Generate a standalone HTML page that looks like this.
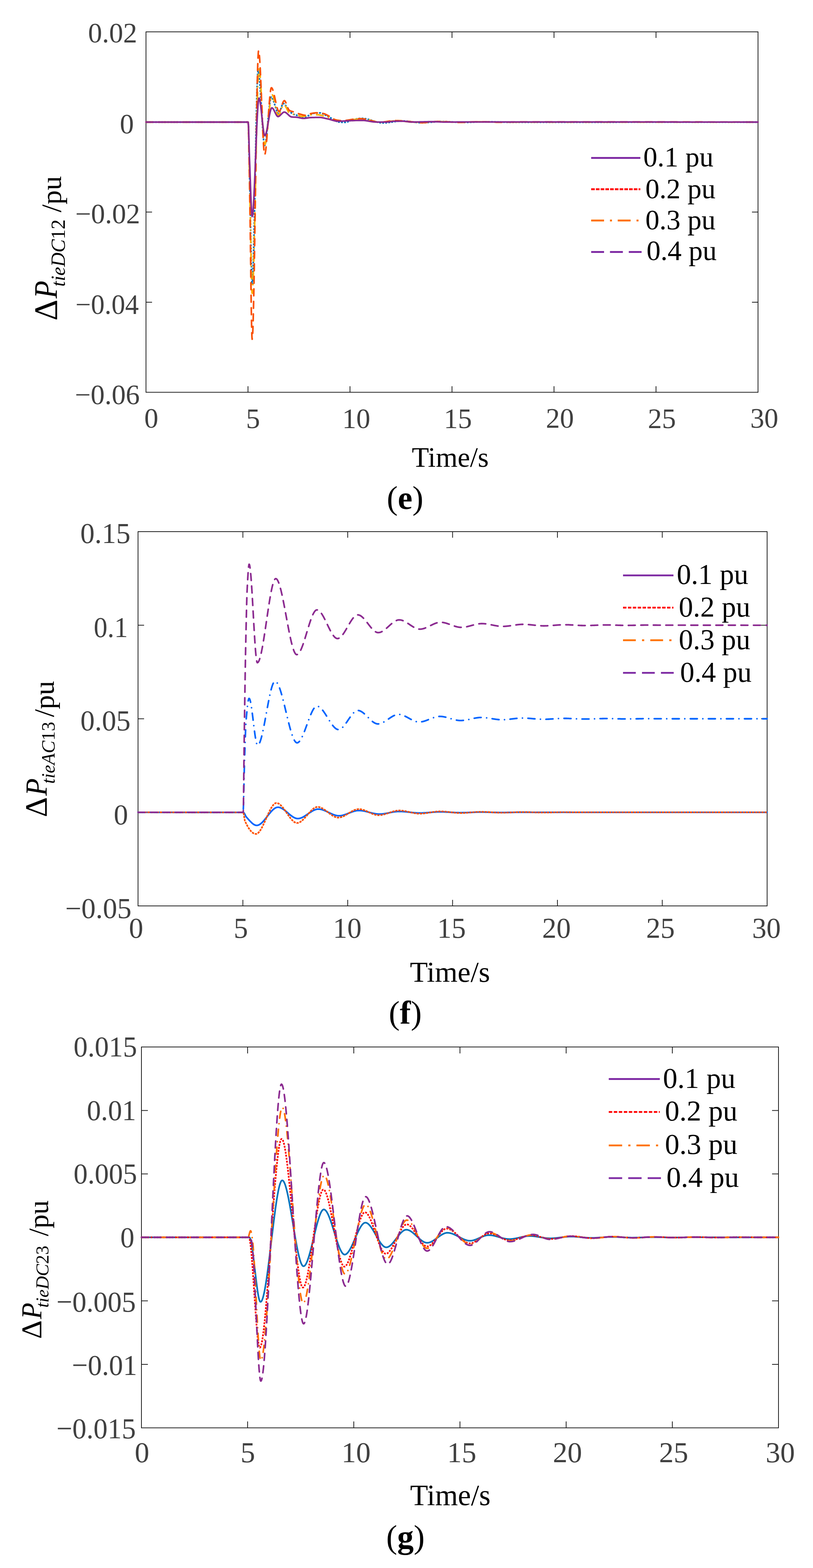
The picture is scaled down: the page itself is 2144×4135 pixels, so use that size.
<!DOCTYPE html>
<html><head><meta charset="utf-8"><title>Figure</title>
<style>html,body{margin:0;padding:0;background:#fff;overflow:hidden}svg{display:block}text{font-family:'Liberation Serif', 'Times New Roman', serif}</style></head>
<body><svg width="2144" height="4135" viewBox="0 0 2144 4135">
<rect width="2144" height="4135" fill="#fff"/>
<text x="232.3" y="112.3" font-size="74" fill="#404040">0.02</text>
<text x="315.9" y="351.6" font-size="74" fill="#404040">0</text>
<text x="198.4" y="589.3" font-size="74" fill="#404040">−0.02</text>
<text x="196.9" y="827.6" font-size="74" fill="#404040" transform="matrix(0.975 0 0 1 7.1 0)">−0.04</text>
<text x="197.4" y="1066.2" font-size="74" fill="#404040">−0.06</text>
<text x="380.4" y="1128.3" font-size="74" fill="#404040">0</text>
<text x="648.7" y="1128.6" font-size="74" fill="#404040">5</text>
<text x="902.4" y="1128.6" font-size="74" fill="#404040">10</text>
<text x="1170.4" y="1129" font-size="74" fill="#404040">15</text>
<text x="1439.5" y="1128.3" font-size="74" fill="#404040">20</text>
<text x="1708.5" y="1128.6" font-size="74" fill="#404040">25</text>
<text x="1978.6" y="1128.3" font-size="74" fill="#404040">30</text>
<rect x="385" y="84" width="1614" height="950.5" fill="none" stroke="#1a1a1a" stroke-width="2"/>
<path d="M654 1034.5V1018.5M654 84V100M923 1034.5V1018.5M923 84V100M1192 1034.5V1018.5M1192 84V100M1461 1034.5V1018.5M1461 84V100M1730 1034.5V1018.5M1730 84V100M385 321.6H401M1999 321.6H1983M385 559.2H401M1999 559.2H1983M385 796.9H401M1999 796.9H1983" stroke="#1a1a1a" stroke-width="2" fill="none"/>
<clipPath id="ce"><rect x="382.5" y="81" width="1619" height="956.5"/></clipPath>
<g clip-path="url(#ce)" fill="none" stroke-width="4.3" stroke-linejoin="round" stroke-linecap="round">
<path d="M385 322 654 322 654.5 322.2 655 328.6 655.5 342.5 656 362 656.5 385 657 409.5 657.5 433.5 658 455 658.5 476.1 659 500 659.5 526 660 553.3 660.5 581.2 661 609.2 661.5 636.4 662 662.3 662.5 686.1 663 707.1 663.5 724.6 664 738 664.5 746.5 665 749.5 665.5 747.8 666 742.9 666.5 735.1 667 724.4 667.5 711.2 668 695.7 668.5 678 669 658.5 669.5 637.2 670 614.5 670.5 590.6 671 565.6 671.5 539.9 672 513.5 672.5 486.8 673 459.9 673.5 433.1 674 406.5 674.5 380.5 675 355.2 675.5 330.8 676 307.6 676.5 285.7 677 265.5 677.5 247 678 230.6 678.5 216.5 679 204.8 679.5 195.8 680 189.7 680.5 186.7 681 186.6 681.5 187.6 682 189.6 682.5 192.4 683 195.9 683.5 200.2 684 205.2 684.5 210.8 685 216.9 685.5 223.5 686 230.6 686.5 238 687 245.8 687.5 253.8 688 262.1 688.5 270.5 689 279 689.5 287.5 690 296 690.5 304.5 691 312.8 691.5 320.9 692 328.8 692.5 336.4 693 343.6 693.5 350.4 694 356.8 694.5 362.6 695 367.8 695.5 372.3 696 376.2 696.5 379.3 697 381.6 697.5 383 698 383.5 698.5 383.2 699 382.3 699.5 380.8 700 378.8 700.5 376.3 701 373.3 701.5 370 702 366.2 702.5 362.1 703 357.7 703.5 353 704 348.1 704.5 343 705 337.8 705.5 332.4 706 326.9 706.5 321.4 707 315.9 707.5 310.4 708 304.9 708.5 299.6 709 294.4 709.5 289.4 710 284.6 710.5 280 711 275.7 711.5 271.8 712 268.1 712.5 264.9 713 262.2 713.5 259.9 714 258.1 714.5 256.8 715 256.1 715.5 256 716 256.2 716.5 256.5 717 256.9 717.5 257.5 718 258.3 718.5 259.2 719 260.1 719.5 261.2 720 262.4 720.5 263.7 721 265 721.5 266.5 722 267.9 722.5 269.5 723 271.1 723.5 272.7 724 274.3 724.5 276 725 277.7 725.5 279.3 726 281 726.5 282.6 727 284.2 727.5 285.8 728 287.4 728.5 288.8 729 290.2 729.5 291.6 730 292.8 730.5 294 731 295.1 731.5 296 732 296.9 732.5 297.6 733 298.2 733.5 298.6 734 298.9 734.5 299 735 298.9 735.5 298.6 736 298.1 736.5 297.4 737 296.5 737.5 295.5 738 294.4 738.5 293.1 739 291.8 739.5 290.3 740 288.8 740.5 287.3 741 285.8 741.5 284.3 742 282.8 742.5 281.3 743 279.9 743.5 278.6 744 277.3 744.5 276.2 745 275.3 745.5 274.5 746 273.9 746.5 273.4 747 273.2 747.5 273.2 748 273.3 748.5 273.5 749 273.7 749.5 274 750 274.4 750.5 274.8 751 275.3 751.5 275.9 752 276.5 752.5 277.1 753 277.7 753.5 278.4 754 279.1 754.5 279.8 755 280.6 755.5 281.3 756 282 756.5 282.8 757 283.5 757.5 284.2 758 285 758.5 285.6 759 286.3 759.5 286.9 760 287.5 760.5 288.1 761 288.7 761.5 289.3 762 290 762.5 290.6 763 291.3 763.5 291.9 764 292.6 764.5 293.3 765 293.9 765.5 294.6 766 295.2 766.5 295.8 767 296.4 767.5 297 768 297.5 768.5 298 769 298.4 769.5 298.8 770 299.2 770.5 299.5 771 299.8 771.5 300 772 300.3 772.5 300.5 773 300.8 773.5 301 774 301.2 774.5 301.4 775 301.6 775.5 301.8 776 302 776.5 302.2 777 302.3 777.5 302.5 778 302.7 778.5 302.8 779 303 779.5 303.1 780 303.3 780.5 303.4 781 303.5 781.5 303.7 782 303.8 782.5 303.9 783 304.1 783.5 304.2 784 304.3 784.5 304.5 785 304.6 785.5 304.7 786 304.9 786.5 305 787 305.1 787.5 305.3 788 305.4 788.5 305.5 789 305.7 789.5 305.8 790 306 790.5 306.1 791 306.2 791.5 306.4 792 306.5 792.5 306.7 793 306.8 793.5 306.9 794 307 794.5 307.2 795 307.3 795.5 307.4 796 307.5 796.5 307.6 797 307.7 797.5 307.8 798 307.9 798.5 308 799 308.1 799.5 308.1 800 308.2 800.5 308.2 801.5 308.3 802.5 308.4 804 308.4 804.5 308.3 805 308.2 805.5 308.1 806 308 806.5 307.8 807 307.7 807.5 307.5 808 307.3 808.5 307.1 809 306.9 809.5 306.6 810 306.4 810.5 306.2 811 306 811.5 305.8 812 305.6 812.5 305.4 813 305.2 813.5 304.9 814 304.7 814.5 304.5 815 304.2 815.5 304 816 303.7 816.5 303.5 817 303.2 817.5 302.9 818 302.6 818.5 302.3 819 302.1 819.5 301.8 820 301.5 820.5 301.2 821 301 821.5 300.7 822 300.5 822.5 300.2 823 300 823.5 299.8 824 299.6 824.5 299.4 825 299.2 825.5 299.1 826 299 826.5 298.8 827 298.8 827.5 298.7 828 298.6 828.5 298.6 829 298.5 829.5 298.5 830 298.4 830.5 298.4 831.5 298.3 832.5 298.2 833.5 298.1 834.5 298 835.5 297.9 836.5 297.9 837.5 297.8 839 297.8 841.5 297.7 844 297.8 844.5 297.9 845 297.9 845.5 298 846 298.1 846.5 298.3 847 298.4 847.5 298.5 848 298.7 848.5 298.9 849 299.1 849.5 299.2 850 299.4 850.5 299.7 851 299.9 851.5 300.1 852 300.3 852.5 300.6 853 300.8 853.5 301.1 854 301.3 854.5 301.6 855 301.8 855.5 302.1 856 302.4 856.5 302.6 857 302.9 857.5 303.2 858 303.5 858.5 303.8 859 304 859.5 304.3 860 304.6 860.5 304.8 861 305.1 861.5 305.4 862 305.6 862.5 305.9 863 306.1 863.5 306.4 864 306.6 864.5 306.9 865 307.1 865.5 307.3 866 307.6 866.5 307.8 867 308.1 867.5 308.3 868 308.6 868.5 308.9 869 309.2 869.5 309.4 870 309.7 870.5 310 871 310.3 871.5 310.6 872 310.9 872.5 311.2 873 311.5 873.5 311.9 874 312.2 874.5 312.5 875 312.8 875.5 313.1 876 313.4 876.5 313.8 877 314.1 877.5 314.4 878 314.7 878.5 315 879 315.3 879.5 315.6 880 316 880.5 316.3 881 316.6 881.5 316.9 882 317.1 882.5 317.4 883 317.7 883.5 318 884 318.3 884.5 318.5 885 318.8 885.5 319 886 319.3 886.5 319.5 887 319.7 887.5 319.9 888 320.2 888.5 320.4 889 320.5 889.5 320.7 890 320.9 890.5 321.1 891 321.2 891.5 321.3 892 321.5 892.5 321.6 893 321.7 893.5 321.8 894 321.8 894.5 321.9 895.5 322 896.5 322.1 897.5 322.1 898.5 322.2 899.5 322.3 900.5 322.4 901.5 322.4 902.5 322.5 903.5 322.5 905 322.6 906.5 322.7 911 322.6 911.5 322.6 912 322.5 912.5 322.4 913 322.3 913.5 322.2 914 322.1 914.5 322 915 321.8 915.5 321.7 916 321.5 916.5 321.3 917 321.1 917.5 321 918 320.8 918.5 320.6 919 320.3 919.5 320.1 920 319.9 920.5 319.7 921 319.5 921.5 319.2 922 319 922.5 318.8 923 318.6 923.5 318.3 924 318.1 924.5 317.9 925 317.6 925.5 317.4 926 317.2 926.5 317 927 316.8 927.5 316.6 928 316.4 928.5 316.2 929 316.1 929.5 315.9 930 315.7 930.5 315.6 931 315.5 931.5 315.3 932 315.2 932.5 315.1 933 315 933.5 315 934 314.9 934.5 314.8 935 314.7 935.5 314.6 936 314.5 936.5 314.4 937 314.3 937.5 314.2 938 314.1 938.5 314 939 313.9 939.5 313.8 940 313.7 940.5 313.6 941 313.6 941.5 313.5 942 313.4 942.5 313.3 943 313.2 943.5 313.1 944 313.1 944.5 313 945 312.9 945.5 312.9 946 312.8 946.5 312.7 947 312.7 947.5 312.6 948 312.6 948.5 312.5 949.5 312.4 950.5 312.3 951.5 312.3 953 312.2 957.5 312.3 958.5 312.4 959.5 312.5 960 312.5 960.5 312.6 961 312.6 961.5 312.7 962 312.8 962.5 312.9 963 312.9 963.5 313 964 313.1 964.5 313.2 965 313.3 965.5 313.4 966 313.5 966.5 313.6 967 313.7 967.5 313.8 968 314 968.5 314.1 969 314.2 969.5 314.3 970 314.5 970.5 314.6 971 314.7 971.5 314.9 972 315 972.5 315.1 973 315.3 973.5 315.4 974 315.6 974.5 315.7 975 315.9 975.5 316 976 316.2 976.5 316.3 977 316.5 977.5 316.7 978 316.8 978.5 317 979 317.1 979.5 317.3 980 317.5 980.5 317.6 981 317.8 981.5 317.9 982 318.1 982.5 318.3 983 318.4 983.5 318.6 984 318.8 984.5 318.9 985 319.1 985.5 319.2 986 319.4 986.5 319.6 987 319.7 987.5 319.9 988 320 988.5 320.2 989 320.3 989.5 320.5 990 320.6 990.5 320.8 991 320.9 991.5 321.1 992 321.2 992.5 321.4 993 321.5 993.5 321.6 994 321.8 994.5 321.9 995 322 995.5 322.2 996 322.3 996.5 322.4 997 322.5 997.5 322.6 998 322.8 998.5 322.9 999 323 999.5 323.1 1000 323.2 1000.5 323.3 1001 323.4 1001.5 323.4 1002 323.5 1002.5 323.6 1003 323.7 1003.5 323.7 1004 323.8 1004.5 323.9 1005 323.9 1005.5 324 1006.5 324.1 1007.5 324.1 1009 324.2 1013.5 324.1 1015 324.1 1016 324 1017 323.9 1018 323.8 1019 323.8 1020 323.7 1020.5 323.6 1021 323.6 1021.5 323.5 1022 323.4 1022.5 323.4 1023 323.3 1023.5 323.3 1024 323.2 1024.5 323.1 1025 323.1 1025.5 323 1026 322.9 1026.5 322.9 1027 322.8 1027.5 322.7 1028 322.7 1028.5 322.6 1029 322.5 1029.5 322.4 1030 322.4 1030.5 322.3 1031 322.2 1031.5 322.1 1032 322.1 1032.5 322 1033 321.9 1033.5 321.8 1034 321.8 1034.5 321.7 1035 321.6 1035.5 321.5 1036 321.4 1036.5 321.4 1037 321.3 1037.5 321.2 1038 321.1 1038.5 321.1 1039 321 1039.5 320.9 1040 320.8 1040.5 320.8 1041 320.7 1041.5 320.6 1042 320.5 1042.5 320.5 1043 320.4 1043.5 320.3 1044 320.3 1044.5 320.2 1045 320.1 1045.5 320.1 1046 320 1046.5 319.9 1047 319.9 1047.5 319.8 1048 319.8 1048.5 319.7 1049 319.6 1049.5 319.6 1050 319.5 1051 319.4 1052 319.4 1053 319.3 1054 319.2 1055 319.1 1056 319.1 1057.5 319 1064.5 319.1 1066 319.2 1067 319.2 1068 319.3 1069 319.4 1070 319.4 1071 319.5 1072 319.6 1073 319.7 1073.5 319.8 1074 319.8 1074.5 319.9 1075 319.9 1075.5 320 1076 320 1076.5 320.1 1077 320.2 1077.5 320.2 1078 320.3 1078.5 320.3 1079 320.4 1079.5 320.5 1080 320.5 1080.5 320.6 1081 320.6 1081.5 320.7 1082 320.8 1082.5 320.8 1083 320.9 1083.5 321 1084 321 1084.5 321.1 1085 321.2 1085.5 321.2 1086 321.3 1086.5 321.4 1087 321.4 1087.5 321.5 1088 321.6 1088.5 321.6 1089 321.7 1089.5 321.8 1090 321.8 1090.5 321.9 1091 322 1091.5 322 1092 322.1 1092.5 322.1 1093 322.2 1093.5 322.3 1094 322.3 1094.5 322.4 1095 322.4 1095.5 322.5 1096 322.6 1096.5 322.6 1097 322.7 1097.5 322.7 1098 322.8 1098.5 322.8 1099 322.9 1100 323 1101 323.1 1102 323.2 1103 323.2 1104 323.3 1105 323.4 1106 323.4 1107 323.5 1108.5 323.5 1111 323.6 1116.5 323.5 1118.5 323.5 1120 323.4 1121.5 323.3 1122.5 323.3 1123.5 323.2 1124.5 323.2 1125.5 323.1 1126.5 323 1127.5 323 1128.5 322.9 1129.5 322.8 1130.5 322.8 1131.5 322.7 1132.5 322.6 1133.5 322.5 1134.5 322.4 1135.5 322.4 1136.5 322.3 1137.5 322.2 1138.5 322.1 1139.5 322 1140.5 321.9 1141.5 321.8 1142.5 321.8 1143.5 321.7 1144.5 321.6 1145.5 321.5 1146.5 321.4 1147.5 321.4 1148.5 321.3 1149.5 321.2 1150.5 321.2 1151.5 321.1 1152.5 321 1153.5 321 1154.5 320.9 1155.5 320.9 1157 320.8 1158.5 320.7 1160.5 320.7 1163.5 320.6 1170.5 320.7 1173 320.7 1175 320.8 1176.5 320.8 1178 320.9 1179.5 321 1181 321.1 1182 321.1 1183 321.2 1184 321.2 1185 321.3 1186 321.3 1187 321.4 1188 321.4 1189 321.5 1190 321.6 1191 321.6 1192 321.7 1193 321.7 1194 321.8 1195 321.8 1196 321.9 1197 322 1198 322 1199 322.1 1200 322.1 1201 322.2 1202 322.2 1203 322.3 1204 322.3 1205.5 322.4 1207 322.5 1208.5 322.6 1210 322.6 1211.5 322.7 1213.5 322.7 1216 322.8 1228.5 322.7 1231 322.7 1233 322.6 1235 322.6 1237 322.5 1239 322.4 1240.5 322.4 1242 322.3 1243.5 322.3 1245 322.2 1246.5 322.1 1248 322.1 1249.5 322 1251 322 1252.5 321.9 1254 321.8 1255.5 321.8 1257 321.7 1258.5 321.7 1260 321.6 1261.5 321.6 1263.5 321.5 1265.5 321.4 1267.5 321.4 1270 321.3 1273 321.3 1277.5 321.2 1288.5 321.3 1292 321.3 1295 321.4 1297.5 321.4 1300 321.5 1302 321.5 1304 321.6 1306 321.6 1308 321.7 1310 321.8 1312 321.8 1314 321.9 1316 321.9 1318 322 1320 322 1322.5 322.1 1325 322.1 1328 322.2 1331.5 322.2 1337 322.3 1721.5 322.2 1809.5 322.2 1873 322.1 1924 322.1 1967.5 322 1999 322" stroke="#0072BD" stroke-dasharray="5 3" stroke-linecap="butt"/>
<path d="M385 322 654 322 654.5 322.2 655 328.8 655.5 343.2 656 363.4 656.5 387.2 657 412.6 657.5 437.6 658 460 658.5 482.2 659 507.5 659.5 535 660 564 660.5 593.7 661 623.5 661.5 652.6 662 680.2 662.5 705.6 663 728.1 663.5 746.8 664 761.2 664.5 770.3 665 773.5 665.5 772.1 666 768.2 666.5 761.8 667 753 667.5 742.2 668 729.3 668.5 714.6 669 698.2 669.5 680.2 670 660.9 670.5 640.4 671 618.7 671.5 596.2 672 572.9 672.5 549 673 524.6 673.5 499.9 674 475 674.5 450.2 675 425.5 675.5 401.1 676 377.2 676.5 353.9 677 331.4 677.5 309.7 678 289.2 678.5 269.9 679 251.9 679.5 235.5 680 220.8 680.5 207.9 681 197.1 681.5 188.3 682 181.9 682.5 178 683 176.6 683.5 177.3 684 179.2 684.5 182.3 685 186.6 685.5 191.8 686 197.9 686.5 204.9 687 212.5 687.5 220.9 688 229.7 688.5 239 689 248.7 689.5 258.7 690 268.8 690.5 279 691 289.3 691.5 299.4 692 309.4 692.5 319.1 693 328.4 693.5 337.2 694 345.6 694.5 353.2 695 360.2 695.5 366.3 696 371.5 696.5 375.8 697 378.9 697.5 380.8 698 381.5 698.5 381.2 699 380.5 699.5 379.3 700 377.6 700.5 375.6 701 373.1 701.5 370.3 702 367.1 702.5 363.7 703 360 703.5 356 704 351.8 704.5 347.4 705 342.8 705.5 338 706 333.2 706.5 328.2 707 323.2 707.5 318.2 708 313.1 708.5 308.1 709 303.1 709.5 298.1 710 293.3 710.5 288.5 711 283.9 711.5 279.5 712 275.3 712.5 271.3 713 267.6 713.5 264.2 714 261 714.5 258.2 715 255.7 715.5 253.7 716 252 716.5 250.8 717 250.1 717.5 249.8 718 249.9 718.5 250.4 719 251.1 719.5 252 720 253.2 720.5 254.5 721 256.1 721.5 257.9 722 259.8 722.5 261.8 723 263.9 723.5 266.2 724 268.5 724.5 270.9 725 273.3 725.5 275.8 726 278.3 726.5 280.8 727 283.2 727.5 285.6 728 287.9 728.5 290.2 729 292.3 729.5 294.3 730 296.2 730.5 298 731 299.6 731.5 300.9 732 302.1 732.5 303 733 303.7 733.5 304.2 734 304.3 734.5 304.2 735 303.9 735.5 303.5 736 302.8 736.5 302.1 737 301.2 737.5 300.2 738 299.1 738.5 297.9 739 296.6 739.5 295.2 740 293.8 740.5 292.4 741 291 741.5 289.5 742 288.1 742.5 286.7 743 285.3 743.5 283.9 744 282.6 744.5 281.4 745 280.3 745.5 279.3 746 278.4 746.5 277.7 747 277 747.5 276.6 748 276.3 748.5 276.2 749 276.3 749.5 276.4 750 276.7 750.5 277.1 751 277.6 751.5 278.2 752 278.8 752.5 279.5 753 280.3 753.5 281.2 754 282.1 754.5 283 755 284 755.5 285 756 286 756.5 287 757 288.1 757.5 289.1 758 290.1 758.5 291.1 759 292.1 759.5 293.1 760 294 760.5 294.9 761 295.7 761.5 296.4 762 297.1 762.5 297.7 763 298.2 763.5 298.7 764 299 764.5 299.2 765 299.4 765.5 299.5 766 299.7 766.5 299.8 767 299.9 767.5 300 768 300.1 768.5 300.2 769 300.3 769.5 300.4 770 300.5 770.5 300.6 771 300.7 771.5 300.8 772 300.8 772.5 300.9 773 301 773.5 301.1 774 301.1 774.5 301.2 775 301.2 775.5 301.3 776 301.4 776.5 301.4 777 301.5 777.5 301.6 778 301.7 778.5 301.7 779 301.8 779.5 301.9 780 302 780.5 302.1 781 302.2 781.5 302.3 782 302.4 782.5 302.5 783 302.6 783.5 302.8 784 302.9 784.5 303.1 785 303.3 785.5 303.5 786 303.7 786.5 303.9 787 304.1 787.5 304.4 788 304.6 788.5 304.8 789 305 789.5 305.3 790 305.5 790.5 305.7 791 305.9 791.5 306.1 792 306.2 792.5 306.4 793 306.6 793.5 306.7 794 306.8 794.5 306.9 795 306.9 796 307 798 306.9 799 306.9 799.5 306.8 800 306.8 800.5 306.7 801 306.6 801.5 306.6 802 306.5 802.5 306.4 803 306.3 803.5 306.2 804 306.1 804.5 306 805 305.9 805.5 305.8 806 305.7 806.5 305.6 807 305.5 807.5 305.4 808 305.3 808.5 305.2 809 305.1 809.5 305 810 304.9 810.5 304.8 811 304.6 811.5 304.5 812 304.4 812.5 304.3 813 304.2 813.5 304.1 814 304 814.5 303.9 815 303.8 815.5 303.8 816 303.7 816.5 303.6 817 303.5 817.5 303.5 818 303.4 818.5 303.3 819 303.3 820 303.2 821 303.1 822 303.1 823 303 824 302.9 825 302.9 826 302.8 827 302.7 828 302.7 829.5 302.6 831 302.6 833.5 302.5 837 302.6 838 302.6 839 302.7 839.5 302.8 840 302.8 840.5 302.9 841 303 841.5 303 842 303.1 842.5 303.2 843 303.3 843.5 303.4 844 303.5 844.5 303.6 845 303.7 845.5 303.8 846 303.9 846.5 304 847 304.1 847.5 304.2 848 304.4 848.5 304.5 849 304.6 849.5 304.8 850 304.9 850.5 305 851 305.2 851.5 305.3 852 305.4 852.5 305.6 853 305.7 853.5 305.9 854 306 854.5 306.2 855 306.3 855.5 306.5 856 306.6 856.5 306.8 857 306.9 857.5 307.1 858 307.2 858.5 307.4 859 307.5 859.5 307.7 860 307.8 860.5 308 861 308.1 861.5 308.3 862 308.4 862.5 308.6 863 308.7 863.5 308.8 864 309 864.5 309.1 865 309.3 865.5 309.4 866 309.5 866.5 309.7 867 309.8 867.5 310 868 310.2 868.5 310.3 869 310.5 869.5 310.7 870 310.9 870.5 311.1 871 311.2 871.5 311.4 872 311.6 872.5 311.8 873 312 873.5 312.2 874 312.4 874.5 312.6 875 312.8 875.5 313 876 313.2 876.5 313.4 877 313.6 877.5 313.7 878 313.9 878.5 314.1 879 314.3 879.5 314.5 880 314.7 880.5 314.8 881 315 881.5 315.2 882 315.3 882.5 315.5 883 315.7 883.5 315.8 884 315.9 884.5 316.1 885 316.2 885.5 316.3 886 316.4 886.5 316.6 887 316.7 887.5 316.8 888 316.9 888.5 317 889 317.1 889.5 317.1 890 317.2 890.5 317.3 891 317.4 891.5 317.5 892 317.6 892.5 317.7 893 317.8 893.5 317.9 894 318 894.5 318 895 318.1 895.5 318.2 896 318.2 896.5 318.3 897.5 318.4 898.5 318.5 904.5 318.4 906 318.3 907 318.3 908 318.2 909 318.2 910 318.1 911 318 912 317.9 913 317.8 914 317.7 914.5 317.7 915 317.6 915.5 317.6 916 317.5 916.5 317.4 917 317.4 917.5 317.3 918 317.3 918.5 317.2 919 317.2 919.5 317.1 920 317 920.5 317 921 316.9 921.5 316.9 922 316.8 922.5 316.7 923 316.7 923.5 316.6 924 316.5 924.5 316.5 925 316.4 925.5 316.3 926 316.3 926.5 316.2 927 316.1 927.5 316.1 928 316 928.5 315.9 929 315.9 929.5 315.8 930 315.7 930.5 315.7 931 315.6 931.5 315.6 932 315.5 932.5 315.4 933 315.4 933.5 315.3 934 315.2 934.5 315.2 935 315.1 935.5 315.1 936 315 936.5 314.9 937 314.9 937.5 314.8 938 314.8 938.5 314.7 939 314.7 939.5 314.6 940 314.5 940.5 314.5 941.5 314.4 942.5 314.3 943.5 314.2 944.5 314.1 945.5 314.1 946.5 314 947.5 313.9 948.5 313.9 950 313.8 951.5 313.7 958 313.8 959 313.9 960 314 960.5 314 961 314.1 961.5 314.2 962 314.2 962.5 314.3 963 314.4 963.5 314.4 964 314.5 964.5 314.6 965 314.7 965.5 314.8 966 314.9 966.5 315 967 315.1 967.5 315.2 968 315.3 968.5 315.4 969 315.5 969.5 315.6 970 315.7 970.5 315.8 971 315.9 971.5 316 972 316.1 972.5 316.3 973 316.4 973.5 316.5 974 316.6 974.5 316.8 975 316.9 975.5 317 976 317.2 976.5 317.3 977 317.4 977.5 317.5 978 317.7 978.5 317.8 979 317.9 979.5 318.1 980 318.2 980.5 318.3 981 318.5 981.5 318.6 982 318.7 982.5 318.9 983 319 983.5 319.1 984 319.3 984.5 319.4 985 319.5 985.5 319.6 986 319.8 986.5 319.9 987 320 987.5 320.1 988 320.2 988.5 320.4 989 320.5 989.5 320.6 990 320.7 990.5 320.8 991 320.9 991.5 321 992 321.1 992.5 321.2 993 321.3 993.5 321.4 994 321.5 994.5 321.6 995 321.7 995.5 321.8 996 321.8 996.5 321.9 997 322 997.5 322.1 998 322.1 998.5 322.2 999 322.3 999.5 322.3 1000.5 322.4 1001.5 322.5 1002.5 322.5 1004 322.6 1008 322.5 1009.5 322.5 1010.5 322.4 1011.5 322.3 1012.5 322.2 1013.5 322.1 1014 322.1 1014.5 322 1015 322 1015.5 321.9 1016 321.9 1016.5 321.8 1017 321.8 1017.5 321.7 1018 321.6 1018.5 321.6 1019 321.5 1019.5 321.4 1020 321.4 1020.5 321.3 1021 321.2 1021.5 321.1 1022 321.1 1022.5 321 1023 320.9 1023.5 320.8 1024 320.8 1024.5 320.7 1025 320.6 1025.5 320.6 1026 320.5 1026.5 320.4 1027 320.3 1027.5 320.3 1028 320.2 1028.5 320.1 1029 320 1029.5 320 1030 319.9 1030.5 319.8 1031 319.7 1031.5 319.7 1032 319.6 1032.5 319.5 1033 319.5 1033.5 319.4 1034 319.3 1034.5 319.3 1035 319.2 1035.5 319.2 1036 319.1 1036.5 319.1 1037 319 1037.5 319 1038.5 318.9 1039.5 318.8 1040.5 318.7 1041.5 318.6 1042.5 318.6 1044 318.5 1050.5 318.6 1052 318.7 1053 318.7 1054 318.8 1055 318.8 1056 318.9 1057 319 1058 319.1 1059 319.2 1060 319.3 1061 319.3 1061.5 319.4 1062 319.5 1062.5 319.5 1063 319.6 1063.5 319.6 1064 319.7 1064.5 319.7 1065 319.8 1065.5 319.8 1066 319.9 1066.5 320 1067 320 1067.5 320.1 1068 320.1 1068.5 320.2 1069 320.3 1069.5 320.3 1070 320.4 1070.5 320.4 1071 320.5 1071.5 320.6 1072 320.6 1072.5 320.7 1073 320.8 1073.5 320.8 1074 320.9 1074.5 320.9 1075 321 1075.5 321.1 1076 321.1 1076.5 321.2 1077 321.2 1077.5 321.3 1078 321.4 1078.5 321.4 1079 321.5 1079.5 321.5 1080 321.6 1080.5 321.7 1081 321.7 1081.5 321.8 1082 321.8 1082.5 321.9 1083 321.9 1083.5 322 1084 322 1084.5 322.1 1085 322.2 1086 322.2 1087 322.3 1088 322.4 1089 322.5 1090 322.6 1091 322.7 1092 322.7 1093 322.8 1094 322.8 1095.5 322.9 1097.5 323 1105.5 322.9 1107.5 322.9 1109 322.8 1110.5 322.7 1112 322.7 1113 322.6 1114 322.5 1115 322.5 1116 322.4 1117 322.4 1118 322.3 1119 322.2 1120 322.2 1121 322.1 1122 322 1123 321.9 1124 321.9 1125 321.8 1126 321.7 1127 321.7 1128 321.6 1129 321.5 1130 321.4 1131 321.4 1132 321.3 1133 321.2 1134 321.2 1135 321.1 1136 321.1 1137 321 1138 320.9 1139 320.9 1140.5 320.8 1142 320.8 1143.5 320.7 1145.5 320.7 1149 320.6 1155.5 320.7 1158 320.7 1160 320.8 1161.5 320.8 1163 320.9 1164.5 320.9 1166 321 1167.5 321.1 1169 321.2 1170.5 321.2 1171.5 321.3 1172.5 321.3 1173.5 321.4 1174.5 321.4 1175.5 321.5 1176.5 321.5 1177.5 321.6 1178.5 321.7 1179.5 321.7 1180.5 321.8 1181.5 321.8 1182.5 321.9 1183.5 321.9 1184.5 322 1185.5 322 1187 322.1 1188.5 322.2 1190 322.2 1191.5 322.3 1193 322.4 1194.5 322.4 1196.5 322.5 1198.5 322.5 1201.5 322.6 1213 322.5 1215.5 322.5 1217.5 322.4 1219.5 322.4 1221.5 322.3 1223.5 322.2 1225 322.2 1226.5 322.1 1228 322.1 1229.5 322 1231 322 1232.5 321.9 1234 321.8 1235.5 321.8 1237 321.7 1238.5 321.7 1240 321.6 1241.5 321.6 1243 321.5 1245 321.5 1247 321.4 1249 321.3 1251.5 321.3 1254.5 321.2 1271.5 321.3 1274.5 321.3 1277.5 321.4 1280 321.5 1282.5 321.5 1285 321.6 1287.5 321.6 1290 321.7 1292.5 321.8 1295 321.8 1297.5 321.9 1300 321.9 1302.5 322 1305.5 322.1 1308.5 322.1 1312.5 322.2 1846 322.1 1927.5 322.1 1991.5 322 1999 322" stroke="#FFAE00" stroke-dasharray="18.2 14.6 0.01 14.6"/>
<path d="M385 322 654 322 654.5 322.2 655 329.6 655.5 345.7 656 368.3 656.5 395.2 657 424.3 657.5 453.3 658 480 658.5 507.4 659 539.4 659.5 574.9 660 612.9 660.5 652.2 661 691.8 661.5 730.8 662 767.9 662.5 802.3 663 832.7 663.5 858.3 664 877.8 664.5 890.3 665 894.7 665.5 892.8 666 887.1 666.5 878 667 865.6 667.5 850.2 668 831.9 668.5 811.2 669 788.1 669.5 762.9 670 735.9 670.5 707.2 671 677.1 671.5 645.9 672 613.8 672.5 580.9 673 547.6 673.5 514 674 480.5 674.5 447.2 675 414.3 675.5 382.2 676 351 676.5 320.9 677 292.2 677.5 265.2 678 240 678.5 216.9 679 196.2 679.5 177.9 680 162.5 680.5 150.1 681 141 681.5 135.3 682 133.4 682.5 134.2 683 136.5 683.5 140.2 684 145.2 684.5 151.4 685 158.7 685.5 167 686 176.2 686.5 186.2 687 197 687.5 208.3 688 220.1 688.5 232.4 689 244.9 689.5 257.6 690 270.5 690.5 283.3 691 296 691.5 308.5 692 320.8 692.5 332.6 693 343.9 693.5 354.7 694 364.7 694.5 373.9 695 382.2 695.5 389.5 696 395.7 696.5 400.7 697 404.4 697.5 406.7 698 407.5 698.5 407.1 699 405.9 699.5 403.9 700 401.3 700.5 398 701 394 701.5 389.6 702 384.6 702.5 379.1 703 373.3 703.5 367.1 704 360.5 704.5 353.7 705 346.7 705.5 339.4 706 332.1 706.5 324.7 707 317.2 707.5 309.8 708 302.4 708.5 295.1 709 288 709.5 281.1 710 274.4 710.5 268.1 711 262.1 711.5 256.4 712 251.3 712.5 246.6 713 242.4 713.5 238.9 714 236 714.5 233.7 715 232.2 715.5 231.5 716 231.4 716.5 231.7 717 232.1 717.5 232.8 718 233.6 718.5 234.7 719 235.9 719.5 237.2 720 238.7 720.5 240.3 721 242.1 721.5 243.9 722 245.9 722.5 247.9 723 250 723.5 252.2 724 254.4 724.5 256.7 725 259 725.5 261.3 726 263.6 726.5 265.9 727 268.3 727.5 270.5 728 272.8 728.5 275 729 277.1 729.5 279.1 730 281.1 730.5 283 731 284.7 731.5 286.4 732 287.9 732.5 289.3 733 290.5 733.5 291.6 734 292.4 734.5 293.1 735 293.6 735.5 293.9 736 294 736.5 293.8 737 293.5 737.5 293 738 292.2 738.5 291.4 739 290.4 739.5 289.3 740 288 740.5 286.7 741 285.3 741.5 283.8 742 282.4 742.5 280.8 743 279.3 743.5 277.8 744 276.2 744.5 274.8 745 273.3 745.5 272 746 270.7 746.5 269.6 747 268.5 747.5 267.6 748 266.8 748.5 266.2 749 265.8 749.5 265.5 750 265.5 750.5 265.7 751 266 751.5 266.6 752 267.2 752.5 268 753 269 753.5 270 754 271.1 754.5 272.3 755 273.6 755.5 274.9 756 276.3 756.5 277.7 757 279.1 757.5 280.5 758 281.8 758.5 283.2 759 284.4 759.5 285.7 760 286.8 760.5 287.8 761 288.8 761.5 289.6 762 290.3 762.5 290.8 763 291.2 763.5 291.5 764 291.7 764.5 292 765 292.2 765.5 292.4 766 292.6 766.5 292.8 767 293 767.5 293.2 768 293.3 768.5 293.5 769 293.6 769.5 293.8 770 293.9 770.5 294 771 294.2 771.5 294.3 772 294.4 772.5 294.5 773 294.7 773.5 294.8 774 294.9 774.5 295.1 775 295.2 775.5 295.4 776 295.5 776.5 295.7 777 295.9 777.5 296.1 778 296.2 778.5 296.4 779 296.6 779.5 296.8 780 297 780.5 297.2 781 297.4 781.5 297.5 782 297.7 782.5 297.9 783 298.1 783.5 298.3 784 298.5 784.5 298.7 785 298.9 785.5 299.1 786 299.2 786.5 299.4 787 299.6 787.5 299.8 788 300 788.5 300.1 789 300.3 789.5 300.4 790 300.6 790.5 300.7 791 300.9 791.5 301 792 301.2 792.5 301.3 793 301.5 793.5 301.6 794 301.7 794.5 301.9 795 302 795.5 302.2 796 302.3 796.5 302.5 797 302.6 797.5 302.8 798 302.9 798.5 303 799 303.2 799.5 303.3 800 303.4 800.5 303.5 801 303.6 801.5 303.7 802 303.8 802.5 303.8 803 303.9 804 304 806 304 806.5 303.9 807 303.8 807.5 303.7 808 303.6 808.5 303.5 809 303.4 809.5 303.2 810 303 810.5 302.9 811 302.7 811.5 302.5 812 302.3 812.5 302.1 813 301.9 813.5 301.7 814 301.5 814.5 301.3 815 301.1 815.5 300.9 816 300.7 816.5 300.5 817 300.3 817.5 300.2 818 300 818.5 299.9 819 299.7 819.5 299.6 820 299.5 820.5 299.4 821 299.3 821.5 299.2 822 299.1 822.5 299 823 298.9 823.5 298.8 824 298.7 824.5 298.7 825 298.6 825.5 298.5 826 298.4 826.5 298.3 827 298.2 827.5 298.1 828 298.1 828.5 298 829 297.9 829.5 297.9 830 297.8 830.5 297.8 831.5 297.7 832.5 297.6 838 297.7 839 297.8 840 297.8 841 297.9 842 298 842.5 298.1 843 298.1 843.5 298.2 844 298.2 844.5 298.3 845 298.3 845.5 298.4 846 298.5 846.5 298.5 847 298.6 847.5 298.7 848 298.7 848.5 298.8 849 298.9 849.5 299 850 299 850.5 299.1 851 299.2 851.5 299.3 852 299.4 852.5 299.4 853 299.5 853.5 299.6 854 299.8 854.5 299.9 855 300.1 855.5 300.2 856 300.4 856.5 300.6 857 300.8 857.5 301 858 301.3 858.5 301.5 859 301.7 859.5 302 860 302.2 860.5 302.5 861 302.8 861.5 303 862 303.3 862.5 303.5 863 303.8 863.5 304.1 864 304.3 864.5 304.6 865 304.8 865.5 305 866 305.3 866.5 305.6 867 305.8 867.5 306.1 868 306.4 868.5 306.7 869 307 869.5 307.3 870 307.6 870.5 308 871 308.3 871.5 308.6 872 308.9 872.5 309.3 873 309.6 873.5 309.9 874 310.3 874.5 310.6 875 310.9 875.5 311.3 876 311.6 876.5 311.9 877 312.2 877.5 312.5 878 312.8 878.5 313.1 879 313.4 879.5 313.7 880 314 880.5 314.3 881 314.5 881.5 314.8 882 315 882.5 315.2 883 315.4 883.5 315.7 884 315.8 884.5 316 885 316.2 885.5 316.3 886 316.5 886.5 316.6 887 316.7 887.5 316.7 888 316.8 888.5 316.9 889 317 889.5 317.1 890 317.1 890.5 317.2 891 317.3 891.5 317.4 892 317.4 892.5 317.5 893 317.6 893.5 317.6 894 317.7 894.5 317.7 895 317.8 895.5 317.8 896.5 317.9 897.5 318 898.5 318.1 899.5 318.1 901 318.2 905.5 318.1 906.5 318.1 907.5 318 908.5 317.9 909.5 317.8 910 317.8 910.5 317.7 911 317.7 911.5 317.6 912 317.6 912.5 317.5 913 317.4 913.5 317.4 914 317.3 914.5 317.2 915 317.2 915.5 317.1 916 317 916.5 316.9 917 316.9 917.5 316.8 918 316.7 918.5 316.6 919 316.6 919.5 316.5 920 316.4 920.5 316.3 921 316.2 921.5 316.1 922 316.1 922.5 316 923 315.9 923.5 315.8 924 315.7 924.5 315.6 925 315.5 925.5 315.4 926 315.4 926.5 315.3 927 315.2 927.5 315.1 928 315 928.5 314.9 929 314.8 929.5 314.8 930 314.7 930.5 314.6 931 314.5 931.5 314.4 932 314.4 932.5 314.3 933 314.2 933.5 314.1 934 314.1 934.5 314 935 313.9 935.5 313.9 936 313.8 936.5 313.7 937 313.7 937.5 313.6 938 313.5 938.5 313.5 939 313.4 940 313.3 941 313.3 942 313.2 943 313.1 944 313.1 946 313 950 313.1 951.5 313.1 952.5 313.2 953.5 313.2 954.5 313.3 955.5 313.4 956.5 313.5 957.5 313.6 958.5 313.7 959.5 313.8 960.5 313.9 961.5 314 962 314 962.5 314.1 963 314.1 963.5 314.2 964 314.2 964.5 314.3 965 314.4 965.5 314.5 966 314.6 966.5 314.7 967 314.8 967.5 314.9 968 315 968.5 315.1 969 315.2 969.5 315.3 970 315.4 970.5 315.6 971 315.7 971.5 315.8 972 316 972.5 316.1 973 316.3 973.5 316.4 974 316.5 974.5 316.7 975 316.8 975.5 317 976 317.1 976.5 317.3 977 317.5 977.5 317.6 978 317.8 978.5 317.9 979 318.1 979.5 318.2 980 318.4 980.5 318.5 981 318.7 981.5 318.9 982 319 982.5 319.2 983 319.3 983.5 319.5 984 319.6 984.5 319.8 985 319.9 985.5 320.1 986 320.2 986.5 320.3 987 320.5 987.5 320.6 988 320.7 988.5 320.9 989 321 989.5 321.1 990 321.2 990.5 321.3 991 321.5 991.5 321.6 992 321.7 992.5 321.8 993 321.8 993.5 321.9 994 322 994.5 322.1 995 322.2 995.5 322.2 996 322.3 996.5 322.3 997.5 322.4 998.5 322.5 1003.5 322.4 1004.5 322.4 1005.5 322.3 1006.5 322.2 1007.5 322.1 1008.5 322 1009 322 1009.5 321.9 1010 321.9 1010.5 321.8 1011 321.8 1011.5 321.7 1012 321.6 1012.5 321.6 1013 321.5 1013.5 321.4 1014 321.4 1014.5 321.3 1015 321.2 1015.5 321.2 1016 321.1 1016.5 321 1017 320.9 1017.5 320.9 1018 320.8 1018.5 320.7 1019 320.6 1019.5 320.6 1020 320.5 1020.5 320.4 1021 320.3 1021.5 320.2 1022 320.2 1022.5 320.1 1023 320 1023.5 319.9 1024 319.9 1024.5 319.8 1025 319.7 1025.5 319.6 1026 319.6 1026.5 319.5 1027 319.4 1027.5 319.3 1028 319.3 1028.5 319.2 1029 319.1 1029.5 319.1 1030 319 1030.5 318.9 1031 318.9 1031.5 318.8 1032 318.7 1032.5 318.7 1033 318.6 1033.5 318.6 1034 318.5 1034.5 318.5 1035.5 318.4 1036.5 318.3 1037.5 318.2 1038.5 318.1 1039.5 318.1 1041 318 1048 318.1 1049.5 318.1 1051 318.2 1052.5 318.3 1053.5 318.3 1054.5 318.4 1055.5 318.4 1056.5 318.5 1057.5 318.6 1058.5 318.6 1059.5 318.7 1060.5 318.8 1061.5 318.9 1062.5 318.9 1063.5 319 1064.5 319.1 1065.5 319.2 1066.5 319.2 1067.5 319.3 1068.5 319.4 1069.5 319.5 1070.5 319.5 1071.5 319.6 1072.5 319.7 1073.5 319.8 1074.5 319.9 1075 319.9 1075.5 320 1076 320 1076.5 320.1 1077 320.2 1077.5 320.2 1078 320.3 1078.5 320.3 1079 320.4 1079.5 320.5 1080 320.5 1080.5 320.6 1081 320.6 1081.5 320.7 1082 320.8 1082.5 320.8 1083 320.9 1083.5 321 1084 321 1084.5 321.1 1085 321.2 1085.5 321.2 1086 321.3 1086.5 321.4 1087 321.5 1087.5 321.5 1088 321.6 1088.5 321.7 1089 321.7 1089.5 321.8 1090 321.9 1090.5 321.9 1091 322 1091.5 322.1 1092 322.1 1092.5 322.2 1093 322.3 1093.5 322.3 1094 322.4 1094.5 322.4 1095 322.5 1095.5 322.6 1096 322.6 1096.5 322.7 1097 322.7 1097.5 322.8 1098 322.8 1098.5 322.9 1099 322.9 1100 323 1101 323.1 1102 323.2 1103 323.3 1104 323.4 1105 323.4 1106 323.5 1107.5 323.5 1110 323.6 1114.5 323.5 1116 323.5 1117.5 323.4 1118.5 323.4 1119.5 323.3 1120.5 323.3 1121.5 323.2 1122.5 323.1 1123.5 323 1124.5 323 1125.5 322.9 1126.5 322.8 1127.5 322.7 1128.5 322.6 1129.5 322.5 1130.5 322.4 1131.5 322.3 1132.5 322.2 1133.5 322.1 1134 322.1 1134.5 322 1135 322 1135.5 321.9 1136 321.9 1136.5 321.8 1137 321.8 1138 321.7 1139 321.6 1140 321.5 1141 321.4 1142 321.3 1143 321.2 1144 321.1 1145 321 1146 320.9 1147 320.9 1148 320.8 1149 320.7 1150 320.7 1151 320.6 1152 320.5 1153 320.5 1154.5 320.4 1156 320.4 1158.5 320.3 1165 320.4 1167 320.4 1168.5 320.5 1170 320.6 1171.5 320.6 1172.5 320.7 1173.5 320.7 1174.5 320.8 1175.5 320.9 1176.5 320.9 1177.5 321 1178.5 321.1 1179.5 321.1 1180.5 321.2 1181.5 321.3 1182.5 321.4 1183.5 321.4 1184.5 321.5 1185.5 321.6 1186.5 321.7 1187.5 321.7 1188.5 321.8 1189.5 321.9 1190.5 322 1191.5 322 1192.5 322.1 1193.5 322.2 1194.5 322.2 1195.5 322.3 1196.5 322.4 1197.5 322.4 1198.5 322.5 1199.5 322.5 1201 322.6 1202.5 322.6 1204 322.7 1206 322.8 1218 322.7 1220 322.6 1222 322.6 1223.5 322.5 1225 322.5 1226.5 322.4 1228 322.3 1229.5 322.3 1231 322.2 1232.5 322.1 1234 322.1 1235.5 322 1237 321.9 1238.5 321.9 1240 321.8 1241.5 321.7 1243 321.6 1244.5 321.6 1246 321.5 1247.5 321.4 1249 321.4 1250.5 321.3 1252 321.3 1253.5 321.2 1255.5 321.1 1257.5 321.1 1260.5 321 1273.5 321.1 1276 321.1 1278 321.2 1280 321.3 1282 321.3 1283.5 321.4 1285 321.4 1286.5 321.5 1288 321.5 1289.5 321.6 1291 321.6 1292.5 321.7 1294 321.8 1295.5 321.8 1297 321.9 1298.5 321.9 1300 322 1301.5 322 1303 322.1 1305 322.1 1307 322.2 1309 322.3 1311.5 322.3 1314.5 322.4 1332.5 322.3 1336 322.3 1339.5 322.2 1342.5 322.1 1345.5 322.1 1348.5 322 1351.5 322 1354.5 321.9 1357.5 321.9 1360.5 321.8 1363.5 321.7 1367 321.7 1371.5 321.6 1761.5 321.7 1820 321.7 1866.5 321.8 1905.5 321.8 1939.5 321.9 1969.5 321.9 1997 322 1999 322" stroke="#FA5005" stroke-dasharray="18.2 14.8"/>
<path d="M385 322 654 322 654.5 322.2 655 327.2 655.5 338.2 656 353.2 656.5 370.7 657 388.8 657.5 405.8 658 420 658.5 432.7 659 446.3 659.5 460.4 660 474.8 660.5 489.2 661 503.3 661.5 516.8 662 529.5 662.5 541 663 551 663.5 559.3 664 565.6 664.5 569.6 665 571 665.5 570.3 666 568.2 666.5 564.9 667 560.3 667.5 554.6 668 547.9 668.5 540.2 669 531.6 669.5 522.2 670 512.1 670.5 501.4 671 490.1 671.5 478.3 672 466.1 672.5 453.6 673 440.8 673.5 427.9 674 414.9 674.5 401.9 675 389 675.5 376.2 676 363.7 676.5 351.5 677 339.7 677.5 328.4 678 317.7 678.5 307.6 679 298.2 679.5 289.6 680 281.9 680.5 275.2 681 269.5 681.5 264.9 682 261.6 682.5 259.5 683 258.8 683.5 259.1 684 260 684.5 261.4 685 263.4 685.5 265.8 686 268.6 686.5 271.8 687 275.3 687.5 279.2 688 283.3 688.5 287.6 689 292.1 689.5 296.7 690 301.4 690.5 306.2 691 311 691.5 315.8 692 320.5 692.5 325.1 693 329.6 693.5 333.9 694 337.9 694.5 341.7 695 345.2 695.5 348.3 696 351.1 696.5 353.4 697 355.2 697.5 356.5 698 357.3 698.5 357.5 699 357.3 699.5 356.8 700 356 700.5 354.9 701 353.6 701.5 352.1 702 350.3 702.5 348.4 703 346.3 703.5 344 704 341.6 704.5 339.1 705 336.4 705.5 333.7 706 330.9 706.5 328 707 325.1 707.5 322.1 708 319.2 708.5 316.2 709 313.3 709.5 310.5 710 307.7 710.5 304.9 711 302.3 711.5 299.8 712 297.4 712.5 295.2 713 293.1 713.5 291.2 714 289.5 714.5 288 715 286.8 715.5 285.7 716 285 716.5 284.6 717 284.4 717.5 284.5 718 284.7 718.5 285 719 285.4 719.5 285.9 720 286.5 720.5 287.2 721 287.9 721.5 288.7 722 289.6 722.5 290.6 723 291.5 723.5 292.5 724 293.6 724.5 294.6 725 295.7 725.5 296.8 726 297.8 726.5 298.9 727 299.9 727.5 300.9 728 301.8 728.5 302.7 729 303.6 729.5 304.3 730 305.1 730.5 305.7 731 306.2 731.5 306.7 732 307 732.5 307.3 733 307.4 733.5 307.4 734 307.3 734.5 307.2 735 307 735.5 306.8 736 306.5 736.5 306.2 737 305.8 737.5 305.4 738 305 738.5 304.6 739 304.1 739.5 303.6 740 303.1 740.5 302.6 741 302 741.5 301.5 742 301 742.5 300.4 743 299.9 743.5 299.4 744 298.9 744.5 298.4 745 298 745.5 297.6 746 297.2 746.5 296.8 747 296.5 747.5 296.2 748 296 748.5 295.8 749 295.7 749.5 295.6 750.5 295.6 751 295.7 751.5 295.9 752 296 752.5 296.3 753 296.5 753.5 296.8 754 297.1 754.5 297.4 755 297.8 755.5 298.2 756 298.6 756.5 299 757 299.5 757.5 299.9 758 300.4 758.5 300.9 759 301.4 759.5 301.8 760 302.3 760.5 302.8 761 303.3 761.5 303.8 762 304.2 762.5 304.7 763 305.1 763.5 305.6 764 306 764.5 306.3 765 306.7 765.5 307 766 307.3 766.5 307.6 767 307.8 767.5 308 768 308.2 768.5 308.3 769 308.4 770 308.5 771 308.6 772 308.6 773 308.7 774 308.8 775.5 308.8 777 308.9 778.5 308.9 780 309 781 309.1 782 309.2 783 309.2 783.5 309.3 784 309.4 784.5 309.4 785 309.5 785.5 309.6 786 309.7 786.5 309.8 787 309.9 787.5 310 788 310.1 788.5 310.2 789 310.3 789.5 310.4 790 310.6 790.5 310.7 791 310.8 791.5 310.9 792 311 792.5 311.1 793 311.2 793.5 311.3 794 311.4 794.5 311.5 795 311.6 795.5 311.7 796 311.8 796.5 311.9 797 312 797.5 312 798 312.1 799 312.2 803 312.1 804 312 804.5 312 805 311.9 805.5 311.9 806 311.8 806.5 311.7 807 311.7 807.5 311.6 808 311.5 808.5 311.4 809 311.4 809.5 311.3 810 311.2 810.5 311.1 811 311 811.5 311 812 310.9 812.5 310.8 813 310.7 813.5 310.7 814 310.6 814.5 310.5 815 310.4 815.5 310.4 816 310.3 816.5 310.3 817 310.2 818 310.1 819 310 820.5 310 822.5 309.9 824.5 309.9 826.5 309.8 829 309.8 831.5 309.7 835 309.7 845 309.7 846 309.8 846.5 309.8 847 309.9 847.5 310 848 310 848.5 310.1 849 310.2 849.5 310.3 850 310.4 850.5 310.5 851 310.6 851.5 310.7 852 310.8 852.5 310.9 853 311 853.5 311.1 854 311.2 854.5 311.3 855 311.4 855.5 311.5 856 311.7 856.5 311.8 857 311.9 857.5 312 858 312.1 858.5 312.3 859 312.4 859.5 312.5 860 312.6 860.5 312.7 861 312.9 861.5 313 862 313.1 862.5 313.2 863 313.3 863.5 313.4 864 313.5 864.5 313.6 865 313.7 865.5 313.8 866 314 866.5 314.1 867 314.2 867.5 314.3 868 314.4 868.5 314.6 869 314.7 869.5 314.8 870 315 870.5 315.1 871 315.2 871.5 315.4 872 315.5 872.5 315.7 873 315.8 873.5 316 874 316.1 874.5 316.3 875 316.4 875.5 316.6 876 316.7 876.5 316.9 877 317 877.5 317.2 878 317.3 878.5 317.4 879 317.6 879.5 317.7 880 317.9 880.5 318 881 318.1 881.5 318.2 882 318.4 882.5 318.5 883 318.6 883.5 318.7 884 318.8 884.5 318.9 885 319 885.5 319.1 886 319.2 886.5 319.3 887 319.4 887.5 319.4 888 319.5 888.5 319.5 889.5 319.6 890.5 319.7 897 319.6 899 319.6 900.5 319.5 902 319.4 903.5 319.4 904.5 319.3 905.5 319.2 906.5 319.2 907.5 319.1 908.5 319.1 909.5 319 910.5 318.9 911.5 318.9 912.5 318.8 913.5 318.8 914.5 318.7 915.5 318.6 916.5 318.6 917.5 318.5 918.5 318.5 919.5 318.4 921 318.4 922.5 318.3 924 318.2 925.5 318.2 927 318.1 928.5 318.1 930 318 931.5 318 933 317.9 934.5 317.8 936 317.8 937.5 317.7 939.5 317.7 941.5 317.6 943.5 317.6 946 317.5 949 317.4 958 317.5 959 317.6 960 317.6 961 317.7 961.5 317.8 962 317.8 962.5 317.9 963 318 963.5 318 964 318.1 964.5 318.2 965 318.2 965.5 318.3 966 318.4 966.5 318.5 967 318.5 967.5 318.6 968 318.7 968.5 318.8 969 318.9 969.5 318.9 970 319 970.5 319.1 971 319.2 971.5 319.3 972 319.4 972.5 319.5 973 319.6 973.5 319.6 974 319.7 974.5 319.8 975 319.9 975.5 320 976 320.1 976.5 320.2 977 320.2 977.5 320.3 978 320.4 978.5 320.5 979 320.6 979.5 320.7 980 320.7 980.5 320.8 981 320.9 981.5 321 982 321 982.5 321.1 983 321.2 983.5 321.2 984 321.3 984.5 321.3 985 321.4 985.5 321.5 986.5 321.5 987.5 321.6 988.5 321.7 989.5 321.7 991.5 321.8 1000 321.9 1021.5 321.8 1022.5 321.7 1023 321.7 1023.5 321.6 1024 321.6 1024.5 321.5 1025 321.4 1025.5 321.4 1026 321.3 1026.5 321.2 1027 321.2 1027.5 321.1 1028 321 1028.5 320.9 1029 320.9 1029.5 320.8 1030 320.7 1030.5 320.6 1031 320.6 1031.5 320.5 1032 320.4 1032.5 320.3 1033 320.3 1033.5 320.2 1034 320.1 1034.5 320.1 1035 320 1035.5 319.9 1036 319.9 1036.5 319.8 1037.5 319.8 1038.5 319.7 1040 319.6 1059 319.7 1064.5 319.7 1066 319.8 1067 319.9 1068 319.9 1068.5 320 1069 320 1069.5 320.1 1070 320.2 1070.5 320.2 1071 320.3 1071.5 320.3 1072 320.4 1072.5 320.5 1073 320.5 1073.5 320.6 1074 320.7 1074.5 320.7 1075 320.8 1075.5 320.9 1076 320.9 1076.5 321 1077 321.1 1077.5 321.1 1078 321.2 1078.5 321.3 1079 321.3 1079.5 321.4 1080 321.4 1080.5 321.5 1081.5 321.6 1082.5 321.7 1083.5 321.7 1085 321.8 1095 321.7 1098.5 321.7 1101.5 321.6 1104 321.6 1106.5 321.5 1109 321.5 1111.5 321.4 1114 321.4 1116.5 321.3 1119 321.2 1121.5 321.2 1124 321.1 1126.5 321.1 1129.5 321 1133 321 1138.5 320.9 1147.5 321 1149.5 321 1151.5 321.1 1153 321.1 1154.5 321.2 1156 321.3 1157.5 321.3 1159 321.4 1160.5 321.5 1162 321.5 1163.5 321.6 1165 321.7 1166.5 321.7 1168 321.8 1170 321.8 1172.5 321.9 1194 321.8 1200.5 321.8 1207 321.7 1214 321.7 1223.5 321.6 1643 321.7 1733.5 321.7 1799.5 321.8 1853 321.8 1898.5 321.9 1938.5 321.9 1974.5 322 1999 322" stroke="#8B2A90"/>
</g>
<path d="M1559 416.5H1688.7" stroke="#7F2CA4" stroke-width="5"/>
<text x="1696.5" y="439.3" font-size="74">0.1 pu</text>
<path d="M1559 498.9H1688.7" stroke="#FF0000" stroke-width="5" stroke-dasharray="9.5 3"/>
<text x="1702" y="522.8" font-size="74">0.2 pu</text>
<path d="M1559 581.6H1688.7" stroke="#FF7300" stroke-width="5" stroke-dasharray="34 15.6 5.2 15.2"/>
<text x="1702" y="605" font-size="74">0.3 pu</text>
<path d="M1559 664.5H1692" stroke="#7F2CA4" stroke-width="5" stroke-dasharray="34 15.6"/>
<text x="1705" y="686" font-size="74">0.4 pu</text>
<text x="1086" y="1230.5" font-size="74" fill="#000">Time/s</text>
<text x="1020" y="1341.7" font-size="87">(<tspan font-weight="bold">e</tspan>)</text>
<text transform="translate(150 845.4) rotate(-90)" font-size="86.5">Δ</text>
<text transform="translate(150 787) rotate(-90) scale(0.89 1)" font-size="86" font-style="italic">P</text>
<text transform="translate(170.6 756.1) rotate(-90)" font-size="52.4"><tspan font-style="italic">tieDC</tspan>12</text>
<text transform="translate(161.4 560) rotate(-90)" font-size="75">/pu</text>
<text x="211.8" y="1432.3" font-size="75.5" fill="#404040">0.15</text>
<text x="245.1" y="1680.4" font-size="75.5" fill="#404040" transform="matrix(0.955 0 0 1 13.1 0)">0.1</text>
<text x="212.1" y="1925.6" font-size="75.5" fill="#404040">0.05</text>
<text x="300" y="2174" font-size="75.5" fill="#404040">0</text>
<text x="172" y="2421" font-size="75.5" fill="#404040">−0.05</text>
<text x="340.1" y="2472.5" font-size="75.5" fill="#404040">0</text>
<text x="616.2" y="2472.9" font-size="75.5" fill="#404040">5</text>
<text x="878" y="2472.9" font-size="75.5" fill="#404040">10</text>
<text x="1153.1" y="2473.3" font-size="75.5" fill="#404040">15</text>
<text x="1429.7" y="2472.5" font-size="75.5" fill="#404040">20</text>
<text x="1704" y="2472.9" font-size="75.5" fill="#404040">25</text>
<text x="1983.5" y="2472.5" font-size="75.5" fill="#404040">30</text>
<rect x="364" y="1402" width="1659" height="987" fill="none" stroke="#1a1a1a" stroke-width="2"/>
<path d="M640.5 2389V2373M640.5 1402V1418M917 2389V2373M917 1402V1418M1193.5 2389V2373M1193.5 1402V1418M1470 2389V2373M1470 1402V1418M1746.5 2389V2373M1746.5 1402V1418M364 1648.8H380M2023 1648.8H2007M364 1895.5H380M2023 1895.5H2007M364 2142.2H380M2023 2142.2H2007" stroke="#1a1a1a" stroke-width="2" fill="none"/>
<clipPath id="cf"><rect x="361.5" y="1399" width="1664" height="993"/></clipPath>
<g clip-path="url(#cf)" fill="none" stroke-width="4.3" stroke-linejoin="round" stroke-linecap="round">
<path d="M364 2142.2 641.5 2142.3 642 2142.4 642.5 2142.7 643 2143.1 643.5 2143.7 644 2144.4 644.5 2145.2 645 2146.1 645.5 2147.1 646 2148 646.5 2149 647 2150 647.5 2151 648 2152 648.5 2152.8 649 2153.7 649.5 2154.4 650 2155 650.5 2155.6 651 2156.1 651.5 2156.7 652 2157.2 652.5 2157.8 653 2158.3 653.5 2158.9 654 2159.5 654.5 2160 655 2160.6 655.5 2161.2 656 2161.7 656.5 2162.3 657 2162.8 657.5 2163.4 658 2163.9 658.5 2164.5 659 2165 659.5 2165.6 660 2166.1 660.5 2166.6 661 2167.1 661.5 2167.6 662 2168.1 662.5 2168.6 663 2169.1 663.5 2169.6 664 2170 664.5 2170.5 665 2170.9 665.5 2171.3 666 2171.7 666.5 2172.1 667 2172.5 667.5 2172.9 668 2173.3 668.5 2173.6 669 2173.9 669.5 2174.3 670 2174.6 670.5 2174.8 671 2175.1 671.5 2175.3 672 2175.6 672.5 2175.8 673 2176 673.5 2176.1 674 2176.3 674.5 2176.4 675 2176.5 675.5 2176.6 676 2176.7 678 2176.7 678.5 2176.6 679 2176.5 679.5 2176.4 680 2176.3 680.5 2176.2 681 2176 681.5 2175.8 682 2175.6 682.5 2175.4 683 2175.2 683.5 2174.9 684 2174.6 684.5 2174.3 685 2174 685.5 2173.7 686 2173.4 686.5 2173 687 2172.6 687.5 2172.3 688 2171.9 688.5 2171.5 689 2171 689.5 2170.6 690 2170.1 690.5 2169.7 691 2169.2 691.5 2168.7 692 2168.2 692.5 2167.7 693 2167.2 693.5 2166.6 694 2166.1 694.5 2165.6 695 2165 695.5 2164.4 696 2163.9 696.5 2163.3 697 2162.7 697.5 2162.1 698 2161.5 698.5 2160.9 699 2160.3 699.5 2159.7 700 2159 700.5 2158.4 701 2157.8 701.5 2157.2 702 2156.5 702.5 2155.9 703 2155.3 703.5 2154.6 704 2154 704.5 2153.3 705 2152.7 705.5 2152 706 2151.4 706.5 2150.8 707 2150.1 707.5 2149.5 708 2148.8 708.5 2148.2 709 2147.6 709.5 2147 710 2146.3 710.5 2145.7 711 2145.1 711.5 2144.5 712 2143.9 712.5 2143.3 713 2142.7 713.5 2142.1 714 2141.5 714.5 2141 715 2140.4 715.5 2139.8 716 2139.3 716.5 2138.7 717 2138.2 717.5 2137.7 718 2137.2 718.5 2136.7 719 2136.2 719.5 2135.7 720 2135.3 720.5 2134.8 721 2134.4 721.5 2134 722 2133.6 722.5 2133.2 723 2132.8 723.5 2132.4 724 2132.1 724.5 2131.7 725 2131.4 725.5 2131.1 726 2130.8 726.5 2130.5 727 2130.3 727.5 2130.1 728 2129.8 728.5 2129.6 729 2129.5 729.5 2129.3 730 2129.2 730.5 2129.1 731 2129 731.5 2128.9 732 2128.8 734.5 2128.9 735 2128.9 735.5 2129 736 2129.1 736.5 2129.2 737 2129.3 737.5 2129.5 738 2129.6 738.5 2129.8 739 2129.9 739.5 2130.1 740 2130.3 740.5 2130.5 741 2130.7 741.5 2131 742 2131.2 742.5 2131.4 743 2131.7 743.5 2132 744 2132.3 744.5 2132.5 745 2132.8 745.5 2133.2 746 2133.5 746.5 2133.8 747 2134.1 747.5 2134.5 748 2134.8 748.5 2135.2 749 2135.5 749.5 2135.9 750 2136.3 750.5 2136.7 751 2137 751.5 2137.4 752 2137.8 752.5 2138.2 753 2138.6 753.5 2139 754 2139.4 754.5 2139.9 755 2140.3 755.5 2140.7 756 2141.1 756.5 2141.5 757 2142 757.5 2142.4 758 2142.8 758.5 2143.2 759 2143.7 759.5 2144.1 760 2144.5 760.5 2144.9 761 2145.4 761.5 2145.8 762 2146.2 762.5 2146.6 763 2147.1 763.5 2147.5 764 2147.9 764.5 2148.3 765 2148.7 765.5 2149.1 766 2149.5 766.5 2149.9 767 2150.3 767.5 2150.7 768 2151.1 768.5 2151.5 769 2151.8 769.5 2152.2 770 2152.5 770.5 2152.9 771 2153.2 771.5 2153.6 772 2153.9 772.5 2154.2 773 2154.5 773.5 2154.8 774 2155.1 774.5 2155.4 775 2155.7 775.5 2156 776 2156.2 776.5 2156.5 777 2156.7 777.5 2156.9 778 2157.1 778.5 2157.3 779 2157.5 779.5 2157.7 780 2157.8 780.5 2158 781 2158.1 781.5 2158.3 782 2158.4 782.5 2158.5 783 2158.5 783.5 2158.6 784.5 2158.7 787 2158.6 787.5 2158.6 788 2158.5 788.5 2158.4 789 2158.4 789.5 2158.3 790 2158.2 790.5 2158.1 791 2157.9 791.5 2157.8 792 2157.6 792.5 2157.5 793 2157.3 793.5 2157.2 794 2157 794.5 2156.8 795 2156.6 795.5 2156.4 796 2156.2 796.5 2155.9 797 2155.7 797.5 2155.5 798 2155.2 798.5 2155 799 2154.7 799.5 2154.5 800 2154.2 800.5 2153.9 801 2153.6 801.5 2153.3 802 2153 802.5 2152.7 803 2152.4 803.5 2152.1 804 2151.8 804.5 2151.5 805 2151.2 805.5 2150.9 806 2150.5 806.5 2150.2 807 2149.9 807.5 2149.6 808 2149.2 808.5 2148.9 809 2148.5 809.5 2148.2 810 2147.9 810.5 2147.5 811 2147.2 811.5 2146.8 812 2146.5 812.5 2146.1 813 2145.8 813.5 2145.4 814 2145.1 814.5 2144.7 815 2144.4 815.5 2144.1 816 2143.7 816.5 2143.4 817 2143 817.5 2142.7 818 2142.4 818.5 2142.1 819 2141.7 819.5 2141.4 820 2141.1 820.5 2140.8 821 2140.4 821.5 2140.1 822 2139.8 822.5 2139.5 823 2139.2 823.5 2138.9 824 2138.7 824.5 2138.4 825 2138.1 825.5 2137.8 826 2137.6 826.5 2137.3 827 2137.1 827.5 2136.8 828 2136.6 828.5 2136.4 829 2136.2 829.5 2135.9 830 2135.7 830.5 2135.5 831 2135.4 831.5 2135.2 832 2135 832.5 2134.8 833 2134.7 833.5 2134.6 834 2134.4 834.5 2134.3 835 2134.2 835.5 2134.1 836 2134 836.5 2133.9 837 2133.9 837.5 2133.8 838.5 2133.7 842 2133.8 842.5 2133.9 843 2133.9 843.5 2134 844 2134 844.5 2134.1 845 2134.2 845.5 2134.3 846 2134.4 846.5 2134.5 847 2134.6 847.5 2134.7 848 2134.9 848.5 2135 849 2135.1 849.5 2135.3 850 2135.4 850.5 2135.6 851 2135.7 851.5 2135.9 852 2136.1 852.5 2136.2 853 2136.4 853.5 2136.6 854 2136.8 854.5 2137 855 2137.2 855.5 2137.4 856 2137.6 856.5 2137.8 857 2138 857.5 2138.2 858 2138.4 858.5 2138.7 859 2138.9 859.5 2139.1 860 2139.3 860.5 2139.6 861 2139.8 861.5 2140 862 2140.3 862.5 2140.5 863 2140.7 863.5 2141 864 2141.2 864.5 2141.5 865 2141.7 865.5 2141.9 866 2142.2 866.5 2142.4 867 2142.7 867.5 2142.9 868 2143.2 868.5 2143.4 869 2143.6 869.5 2143.9 870 2144.1 870.5 2144.4 871 2144.6 871.5 2144.8 872 2145.1 872.5 2145.3 873 2145.5 873.5 2145.8 874 2146 874.5 2146.2 875 2146.4 875.5 2146.7 876 2146.9 876.5 2147.1 877 2147.3 877.5 2147.5 878 2147.7 878.5 2147.9 879 2148.1 879.5 2148.3 880 2148.5 880.5 2148.6 881 2148.8 881.5 2149 882 2149.2 882.5 2149.3 883 2149.5 883.5 2149.6 884 2149.8 884.5 2149.9 885 2150.1 885.5 2150.2 886 2150.3 886.5 2150.4 887 2150.5 887.5 2150.6 888 2150.7 888.5 2150.8 889 2150.9 889.5 2151 890 2151.1 890.5 2151.1 891 2151.2 892 2151.2 893.5 2151.3 896 2151.2 897 2151.2 897.5 2151.1 898 2151 898.5 2151 899 2150.9 899.5 2150.8 900 2150.8 900.5 2150.7 901 2150.6 901.5 2150.5 902 2150.4 902.5 2150.3 903 2150.2 903.5 2150 904 2149.9 904.5 2149.8 905 2149.7 905.5 2149.5 906 2149.4 906.5 2149.2 907 2149.1 907.5 2148.9 908 2148.8 908.5 2148.6 909 2148.5 909.5 2148.3 910 2148.1 910.5 2148 911 2147.8 911.5 2147.6 912 2147.4 912.5 2147.3 913 2147.1 913.5 2146.9 914 2146.7 914.5 2146.5 915 2146.3 915.5 2146.1 916 2145.9 916.5 2145.7 917 2145.5 917.5 2145.3 918 2145.1 918.5 2144.9 919 2144.7 919.5 2144.5 920 2144.3 920.5 2144.2 921 2144 921.5 2143.8 922 2143.6 922.5 2143.4 923 2143.2 923.5 2143 924 2142.8 924.5 2142.6 925 2142.4 925.5 2142.2 926 2142 926.5 2141.8 927 2141.6 927.5 2141.4 928 2141.3 928.5 2141.1 929 2140.9 929.5 2140.7 930 2140.6 930.5 2140.4 931 2140.2 931.5 2140.1 932 2139.9 932.5 2139.8 933 2139.6 933.5 2139.5 934 2139.3 934.5 2139.2 935 2139 935.5 2138.9 936 2138.8 936.5 2138.7 937 2138.5 937.5 2138.4 938 2138.3 938.5 2138.2 939 2138.1 939.5 2138 940 2137.9 940.5 2137.9 941 2137.8 941.5 2137.7 942 2137.7 942.5 2137.6 943.5 2137.5 944.5 2137.4 949.5 2137.5 950.5 2137.6 951.5 2137.7 952 2137.7 952.5 2137.8 953 2137.8 953.5 2137.9 954 2137.9 954.5 2138 955 2138.1 955.5 2138.1 956 2138.2 956.5 2138.3 957 2138.4 957.5 2138.5 958 2138.5 958.5 2138.6 959 2138.7 959.5 2138.8 960 2138.9 960.5 2139 961 2139.1 961.5 2139.2 962 2139.3 962.5 2139.4 963 2139.5 963.5 2139.7 964 2139.8 964.5 2139.9 965 2140 965.5 2140.1 966 2140.2 966.5 2140.4 967 2140.5 967.5 2140.6 968 2140.7 968.5 2140.9 969 2141 969.5 2141.1 970 2141.2 970.5 2141.4 971 2141.5 971.5 2141.6 972 2141.8 972.5 2141.9 973 2142 973.5 2142.2 974 2142.3 974.5 2142.4 975 2142.5 975.5 2142.7 976 2142.8 976.5 2142.9 977 2143.1 977.5 2143.2 978 2143.3 978.5 2143.4 979 2143.6 979.5 2143.7 980 2143.8 980.5 2143.9 981 2144 981.5 2144.2 982 2144.3 982.5 2144.4 983 2144.5 983.5 2144.6 984 2144.7 984.5 2144.8 985 2145 985.5 2145.1 986 2145.2 986.5 2145.3 987 2145.4 987.5 2145.5 988 2145.5 988.5 2145.6 989 2145.7 989.5 2145.8 990 2145.9 990.5 2146 991 2146 991.5 2146.1 992 2146.2 992.5 2146.3 993 2146.3 993.5 2146.4 994 2146.4 994.5 2146.5 995.5 2146.6 996.5 2146.7 997.5 2146.7 999 2146.8 1003.5 2146.7 1004.5 2146.7 1005.5 2146.6 1006.5 2146.5 1007.5 2146.5 1008.5 2146.4 1009 2146.3 1009.5 2146.3 1010 2146.2 1010.5 2146.1 1011 2146.1 1011.5 2146 1012 2145.9 1012.5 2145.9 1013 2145.8 1013.5 2145.7 1014 2145.7 1014.5 2145.6 1015 2145.5 1015.5 2145.4 1016 2145.3 1016.5 2145.3 1017 2145.2 1017.5 2145.1 1018 2145 1018.5 2144.9 1019 2144.8 1019.5 2144.7 1020 2144.6 1020.5 2144.5 1021 2144.5 1021.5 2144.4 1022 2144.3 1022.5 2144.2 1023 2144.1 1023.5 2144 1024 2143.9 1024.5 2143.8 1025 2143.7 1025.5 2143.6 1026 2143.5 1026.5 2143.4 1027 2143.3 1027.5 2143.2 1028 2143.1 1028.5 2143 1029 2142.9 1029.5 2142.8 1030 2142.7 1030.5 2142.6 1031 2142.5 1031.5 2142.4 1032 2142.3 1032.5 2142.2 1033 2142.1 1033.5 2142.1 1034 2142 1034.5 2141.9 1035 2141.8 1035.5 2141.7 1036 2141.6 1036.5 2141.5 1037 2141.4 1037.5 2141.4 1038 2141.3 1038.5 2141.2 1039 2141.1 1039.5 2141 1040 2141 1040.5 2140.9 1041 2140.8 1041.5 2140.8 1042 2140.7 1042.5 2140.6 1043 2140.6 1043.5 2140.5 1044 2140.5 1044.5 2140.4 1045 2140.4 1046 2140.3 1047 2140.2 1048 2140.1 1049 2140.1 1050.5 2140 1058 2140.1 1059.5 2140.1 1060.5 2140.2 1061.5 2140.2 1062.5 2140.3 1063.5 2140.4 1064.5 2140.4 1065.5 2140.5 1066.5 2140.6 1067.5 2140.7 1068.5 2140.8 1069.5 2140.9 1070.5 2140.9 1071.5 2141 1072 2141.1 1072.5 2141.1 1073 2141.2 1073.5 2141.2 1074 2141.3 1074.5 2141.4 1075 2141.4 1075.5 2141.5 1076 2141.5 1076.5 2141.6 1077 2141.6 1077.5 2141.7 1078 2141.7 1078.5 2141.8 1079 2141.8 1079.5 2141.9 1080 2141.9 1080.5 2142 1081 2142.1 1081.5 2142.1 1082 2142.2 1082.5 2142.2 1083 2142.3 1083.5 2142.3 1084 2142.4 1084.5 2142.4 1085 2142.5 1085.5 2142.5 1086 2142.6 1086.5 2142.6 1087 2142.7 1087.5 2142.8 1088 2142.8 1089 2142.9 1090 2143 1091 2143.1 1092 2143.2 1093 2143.3 1094 2143.3 1095 2143.4 1096 2143.5 1097 2143.6 1098 2143.6 1099 2143.7 1100 2143.7 1101.5 2143.8 1103 2143.8 1106 2143.9 1111.5 2143.8 1113.5 2143.8 1115 2143.7 1116.5 2143.7 1118 2143.6 1119 2143.5 1120 2143.5 1121 2143.4 1122 2143.4 1123 2143.3 1124 2143.2 1125 2143.2 1126 2143.1 1127 2143 1128 2142.9 1129 2142.9 1130 2142.8 1131 2142.7 1132 2142.6 1133 2142.5 1134 2142.5 1135 2142.4 1136 2142.3 1137 2142.2 1138 2142.2 1139 2142.1 1140 2142 1141 2141.9 1142 2141.9 1143 2141.8 1144 2141.7 1145 2141.6 1146 2141.6 1147 2141.5 1148 2141.5 1149 2141.4 1150 2141.4 1151.5 2141.3 1153 2141.2 1154.5 2141.2 1156.5 2141.1 1160.5 2141.1 1166 2141.1 1168.5 2141.2 1170.5 2141.2 1172 2141.3 1173.5 2141.3 1175 2141.4 1176.5 2141.5 1178 2141.5 1179 2141.6 1180 2141.7 1181 2141.7 1182 2141.8 1183 2141.8 1184 2141.9 1185 2141.9 1186 2142 1187 2142 1188 2142.1 1189 2142.2 1190 2142.2 1191 2142.3 1192 2142.3 1193 2142.4 1194 2142.4 1195 2142.5 1196 2142.5 1197 2142.6 1198.5 2142.7 1200 2142.7 1201.5 2142.8 1203 2142.9 1204.5 2142.9 1206.5 2143 1208.5 2143 1211.5 2143.1 1222.5 2143 1225 2143 1227 2142.9 1229 2142.9 1231 2142.8 1232.5 2142.7 1234 2142.7 1235.5 2142.6 1237 2142.6 1238.5 2142.5 1240 2142.4 1241.5 2142.4 1243 2142.3 1244.5 2142.3 1246 2142.2 1247.5 2142.1 1249 2142.1 1250.5 2142 1252 2142 1253.5 2141.9 1255.5 2141.9 1257.5 2141.8 1259.5 2141.7 1262 2141.7 1266 2141.6 1277 2141.7 1280 2141.8 1282.5 2141.8 1285 2141.9 1287 2141.9 1289 2142 1291 2142 1293 2142.1 1295 2142.1 1297 2142.2 1299 2142.3 1301 2142.3 1303 2142.4 1305 2142.4 1307 2142.5 1309.5 2142.5 1312 2142.6 1315 2142.6 1320 2142.7 1332 2142.6 1336 2142.6 1339 2142.5 1342 2142.5 1345 2142.4 1347.5 2142.4 1350 2142.3 1352.5 2142.3 1355 2142.2 1357.5 2142.2 1360.5 2142.1 1363.5 2142 1367.5 2142 1373.5 2141.9 1391.5 2142 1398 2142 1404 2142.1 1410 2142.1 1416.5 2142.2 1427 2142.2 2023 2142.2" stroke="#0064FF"/>
<path d="M364 2142.2 641 2142.2 641.5 2137.7 642 2125.5 642.5 2107.6 643 2085.8 643.5 2062.2 644 2038.7 644.5 2017.4 645 2000 645.5 1985.1 646 1970.1 646.5 1955.4 647 1941.4 647.5 1928.4 648 1916.9 648.5 1907.3 649 1900 649.5 1894 650 1888.2 650.5 1882.6 651 1877.2 651.5 1872.1 652 1867.2 652.5 1862.7 653 1858.6 653.5 1854.8 654 1851.4 654.5 1848.5 655 1846.1 655.5 1844.2 656 1842.8 656.5 1842 657 1841.8 657.5 1842.1 658 1842.7 658.5 1843.6 659 1844.9 659.5 1846.4 660 1848.2 660.5 1850.3 661 1852.7 661.5 1855.3 662 1858.1 662.5 1861.1 663 1864.3 663.5 1867.6 664 1871.2 664.5 1874.8 665 1878.6 665.5 1882.4 666 1886.4 666.5 1890.4 667 1894.5 667.5 1898.6 668 1902.7 668.5 1906.9 669 1911 669.5 1915.1 670 1919.1 670.5 1923.1 671 1927 671.5 1930.8 672 1934.5 672.5 1938.1 673 1941.5 673.5 1944.7 674 1947.8 674.5 1950.7 675 1953.4 675.5 1955.8 676 1958 676.5 1960 677 1961.7 677.5 1963 678 1964.1 678.5 1964.8 679 1965.2 679.5 1965.3 680 1965.2 680.5 1965 681 1964.6 681.5 1964.2 682 1963.6 682.5 1963 683 1962.2 683.5 1961.4 684 1960.4 684.5 1959.4 685 1958.2 685.5 1957 686 1955.7 686.5 1954.3 687 1952.8 687.5 1951.2 688 1949.6 688.5 1947.8 689 1946.1 689.5 1944.2 690 1942.3 690.5 1940.3 691 1938.2 691.5 1936.1 692 1934 692.5 1931.8 693 1929.5 693.5 1927.2 694 1924.8 694.5 1922.4 695 1920 695.5 1917.5 696 1915 696.5 1912.4 697 1909.9 697.5 1907.2 698 1904.6 698.5 1902 699 1899.3 699.5 1896.6 700 1893.9 700.5 1891.2 701 1888.4 701.5 1885.7 702 1883 702.5 1880.2 703 1877.5 703.5 1874.8 704 1872 704.5 1869.3 705 1866.6 705.5 1863.9 706 1861.2 706.5 1858.5 707 1855.9 707.5 1853.3 708 1850.7 708.5 1848.1 709 1845.6 709.5 1843.1 710 1840.6 710.5 1838.2 711 1835.9 711.5 1833.5 712 1831.2 712.5 1829 713 1826.8 713.5 1824.7 714 1822.6 714.5 1820.6 715 1818.7 715.5 1816.8 716 1815 716.5 1813.2 717 1811.5 717.5 1809.9 718 1808.4 718.5 1807 719 1805.6 719.5 1804.4 720 1803.2 720.5 1802.1 721 1801.1 721.5 1800.2 722 1799.4 722.5 1798.7 723 1798.1 723.5 1797.6 724 1797.3 724.5 1797 725 1796.8 725.5 1796.8 726 1796.9 726.5 1797 727 1797.2 727.5 1797.4 728 1797.7 728.5 1798.1 729 1798.6 729.5 1799.1 730 1799.7 730.5 1800.3 731 1801 731.5 1801.8 732 1802.6 732.5 1803.5 733 1804.4 733.5 1805.4 734 1806.4 734.5 1807.5 735 1808.7 735.5 1809.8 736 1811.1 736.5 1812.3 737 1813.7 737.5 1815 738 1816.4 738.5 1817.9 739 1819.4 739.5 1820.9 740 1822.4 740.5 1824 741 1825.7 741.5 1827.3 742 1829 742.5 1830.8 743 1832.5 743.5 1834.3 744 1836.1 744.5 1838 745 1839.8 745.5 1841.7 746 1843.6 746.5 1845.6 747 1847.5 747.5 1849.5 748 1851.5 748.5 1853.5 749 1855.5 749.5 1857.5 750 1859.5 750.5 1861.6 751 1863.7 751.5 1865.7 752 1867.8 752.5 1869.9 753 1872 753.5 1874.1 754 1876.2 754.5 1878.3 755 1880.4 755.5 1882.5 756 1884.6 756.5 1886.6 757 1888.7 757.5 1890.8 758 1892.9 758.5 1894.9 759 1897 759.5 1899 760 1901 760.5 1903 761 1905 761.5 1907 762 1909 762.5 1910.9 763 1912.8 763.5 1914.7 764 1916.6 764.5 1918.5 765 1920.3 765.5 1922.1 766 1923.9 766.5 1925.6 767 1927.3 767.5 1929 768 1930.7 768.5 1932.3 769 1933.9 769.5 1935.4 770 1936.9 770.5 1938.4 771 1939.8 771.5 1941.2 772 1942.6 772.5 1943.9 773 1945.1 773.5 1946.3 774 1947.5 774.5 1948.6 775 1949.7 775.5 1950.7 776 1951.7 776.5 1952.6 777 1953.4 777.5 1954.2 778 1954.9 778.5 1955.6 779 1956.2 779.5 1956.8 780 1957.3 780.5 1957.7 781 1958.1 781.5 1958.4 782 1958.6 782.5 1958.8 783 1958.9 784 1958.9 784.5 1958.8 785 1958.6 785.5 1958.4 786 1958.2 786.5 1957.9 787 1957.6 787.5 1957.2 788 1956.8 788.5 1956.3 789 1955.8 789.5 1955.3 790 1954.7 790.5 1954.1 791 1953.4 791.5 1952.7 792 1951.9 792.5 1951.2 793 1950.4 793.5 1949.5 794 1948.6 794.5 1947.7 795 1946.8 795.5 1945.8 796 1944.8 796.5 1943.8 797 1942.8 797.5 1941.7 798 1940.6 798.5 1939.5 799 1938.3 799.5 1937.1 800 1936 800.5 1934.8 801 1933.5 801.5 1932.3 802 1931 802.5 1929.8 803 1928.5 803.5 1927.2 804 1925.8 804.5 1924.5 805 1923.2 805.5 1921.8 806 1920.5 806.5 1919.1 807 1917.8 807.5 1916.4 808 1915 808.5 1913.6 809 1912.3 809.5 1910.9 810 1909.5 810.5 1908.1 811 1906.7 811.5 1905.4 812 1904 812.5 1902.6 813 1901.3 813.5 1899.9 814 1898.5 814.5 1897.2 815 1895.9 815.5 1894.6 816 1893.3 816.5 1892 817 1890.7 817.5 1889.4 818 1888.2 818.5 1886.9 819 1885.7 819.5 1884.5 820 1883.4 820.5 1882.2 821 1881.1 821.5 1880 822 1878.9 822.5 1877.8 823 1876.8 823.5 1875.8 824 1874.8 824.5 1873.8 825 1872.9 825.5 1872 826 1871.2 826.5 1870.3 827 1869.6 827.5 1868.8 828 1868.1 828.5 1867.4 829 1866.8 829.5 1866.2 830 1865.6 830.5 1865.1 831 1864.6 831.5 1864.1 832 1863.8 832.5 1863.4 833 1863.1 833.5 1862.8 834 1862.6 834.5 1862.5 835 1862.4 835.5 1862.3 836.5 1862.3 837 1862.4 837.5 1862.5 838 1862.6 838.5 1862.7 839 1862.9 839.5 1863 840 1863.3 840.5 1863.5 841 1863.8 841.5 1864 842 1864.3 842.5 1864.7 843 1865 843.5 1865.4 844 1865.8 844.5 1866.2 845 1866.6 845.5 1867.1 846 1867.5 846.5 1868 847 1868.5 847.5 1869.1 848 1869.6 848.5 1870.1 849 1870.7 849.5 1871.3 850 1871.9 850.5 1872.5 851 1873.2 851.5 1873.8 852 1874.5 852.5 1875.1 853 1875.8 853.5 1876.5 854 1877.2 854.5 1877.9 855 1878.6 855.5 1879.4 856 1880.1 856.5 1880.9 857 1881.6 857.5 1882.4 858 1883.1 858.5 1883.9 859 1884.7 859.5 1885.5 860 1886.3 860.5 1887.1 861 1887.9 861.5 1888.7 862 1889.5 862.5 1890.3 863 1891.1 863.5 1891.9 864 1892.7 864.5 1893.6 865 1894.4 865.5 1895.2 866 1896 866.5 1896.8 867 1897.6 867.5 1898.4 868 1899.2 868.5 1900 869 1900.8 869.5 1901.6 870 1902.4 870.5 1903.2 871 1903.9 871.5 1904.7 872 1905.4 872.5 1906.2 873 1906.9 873.5 1907.7 874 1908.4 874.5 1909.1 875 1909.8 875.5 1910.5 876 1911.2 876.5 1911.8 877 1912.5 877.5 1913.1 878 1913.8 878.5 1914.4 879 1915 879.5 1915.6 880 1916.2 880.5 1916.7 881 1917.2 881.5 1917.8 882 1918.3 882.5 1918.8 883 1919.2 883.5 1919.7 884 1920.1 884.5 1920.5 885 1920.9 885.5 1921.3 886 1921.6 886.5 1922 887 1922.3 887.5 1922.5 888 1922.8 888.5 1923 889 1923.3 889.5 1923.4 890 1923.6 890.5 1923.7 891 1923.8 891.5 1923.9 892 1924 893.5 1924 894 1923.9 894.5 1923.8 895 1923.7 895.5 1923.6 896 1923.4 896.5 1923.2 897 1923 897.5 1922.7 898 1922.5 898.5 1922.2 899 1921.9 899.5 1921.5 900 1921.2 900.5 1920.8 901 1920.4 901.5 1920 902 1919.6 902.5 1919.1 903 1918.6 903.5 1918.2 904 1917.7 904.5 1917.1 905 1916.6 905.5 1916 906 1915.5 906.5 1914.9 907 1914.3 907.5 1913.7 908 1913.1 908.5 1912.4 909 1911.8 909.5 1911.2 910 1910.5 910.5 1909.8 911 1909.1 911.5 1908.5 912 1907.8 912.5 1907.1 913 1906.3 913.5 1905.6 914 1904.9 914.5 1904.2 915 1903.5 915.5 1902.7 916 1902 916.5 1901.2 917 1900.5 917.5 1899.8 918 1899 918.5 1898.3 919 1897.5 919.5 1896.8 920 1896.1 920.5 1895.3 921 1894.6 921.5 1893.9 922 1893.1 922.5 1892.4 923 1891.7 923.5 1891 924 1890.3 924.5 1889.6 925 1888.9 925.5 1888.2 926 1887.5 926.5 1886.8 927 1886.2 927.5 1885.5 928 1884.9 928.5 1884.3 929 1883.7 929.5 1883.1 930 1882.5 930.5 1881.9 931 1881.3 931.5 1880.8 932 1880.3 932.5 1879.7 933 1879.2 933.5 1878.8 934 1878.3 934.5 1877.9 935 1877.4 935.5 1877 936 1876.6 936.5 1876.3 937 1875.9 937.5 1875.6 938 1875.3 938.5 1875 939 1874.8 939.5 1874.5 940 1874.3 940.5 1874.1 941 1874 941.5 1873.9 942 1873.7 942.5 1873.7 943.5 1873.6 945 1873.7 945.5 1873.7 946 1873.8 946.5 1873.9 947 1874 947.5 1874.1 948 1874.3 948.5 1874.5 949 1874.6 949.5 1874.8 950 1875 950.5 1875.2 951 1875.5 951.5 1875.7 952 1876 952.5 1876.3 953 1876.5 953.5 1876.8 954 1877.2 954.5 1877.5 955 1877.8 955.5 1878.1 956 1878.5 956.5 1878.9 957 1879.2 957.5 1879.6 958 1880 958.5 1880.4 959 1880.8 959.5 1881.2 960 1881.7 960.5 1882.1 961 1882.5 961.5 1883 962 1883.4 962.5 1883.9 963 1884.4 963.5 1884.8 964 1885.3 964.5 1885.8 965 1886.3 965.5 1886.7 966 1887.2 966.5 1887.7 967 1888.2 967.5 1888.7 968 1889.2 968.5 1889.7 969 1890.2 969.5 1890.7 970 1891.2 970.5 1891.7 971 1892.2 971.5 1892.7 972 1893.2 972.5 1893.7 973 1894.2 973.5 1894.7 974 1895.2 974.5 1895.7 975 1896.2 975.5 1896.6 976 1897.1 976.5 1897.6 977 1898.1 977.5 1898.5 978 1899 978.5 1899.4 979 1899.9 979.5 1900.3 980 1900.8 980.5 1901.2 981 1901.6 981.5 1902 982 1902.4 982.5 1902.8 983 1903.2 983.5 1903.6 984 1904 984.5 1904.3 985 1904.7 985.5 1905 986 1905.4 986.5 1905.7 987 1906 987.5 1906.3 988 1906.6 988.5 1906.8 989 1907.1 989.5 1907.3 990 1907.5 990.5 1907.8 991 1908 991.5 1908.1 992 1908.3 992.5 1908.5 993 1908.6 993.5 1908.7 994 1908.8 994.5 1908.9 995 1909 995.5 1909 996.5 1909.1 998.5 1909 999 1909 999.5 1908.9 1000 1908.8 1000.5 1908.7 1001 1908.7 1001.5 1908.5 1002 1908.4 1002.5 1908.3 1003 1908.2 1003.5 1908 1004 1907.9 1004.5 1907.7 1005 1907.5 1005.5 1907.3 1006 1907.1 1006.5 1906.9 1007 1906.7 1007.5 1906.5 1008 1906.3 1008.5 1906.1 1009 1905.8 1009.5 1905.6 1010 1905.3 1010.5 1905.1 1011 1904.8 1011.5 1904.5 1012 1904.2 1012.5 1904 1013 1903.7 1013.5 1903.4 1014 1903.1 1014.5 1902.8 1015 1902.5 1015.5 1902.2 1016 1901.8 1016.5 1901.5 1017 1901.2 1017.5 1900.9 1018 1900.5 1018.5 1900.2 1019 1899.9 1019.5 1899.5 1020 1899.2 1020.5 1898.9 1021 1898.5 1021.5 1898.2 1022 1897.8 1022.5 1897.5 1023 1897.1 1023.5 1896.8 1024 1896.4 1024.5 1896.1 1025 1895.8 1025.5 1895.4 1026 1895.1 1026.5 1894.7 1027 1894.4 1027.5 1894 1028 1893.7 1028.5 1893.4 1029 1893 1029.5 1892.7 1030 1892.4 1030.5 1892 1031 1891.7 1031.5 1891.4 1032 1891.1 1032.5 1890.8 1033 1890.4 1033.5 1890.1 1034 1889.8 1034.5 1889.5 1035 1889.3 1035.5 1889 1036 1888.7 1036.5 1888.4 1037 1888.1 1037.5 1887.9 1038 1887.6 1038.5 1887.4 1039 1887.1 1039.5 1886.9 1040 1886.7 1040.5 1886.5 1041 1886.2 1041.5 1886 1042 1885.8 1042.5 1885.7 1043 1885.5 1043.5 1885.3 1044 1885.1 1044.5 1885 1045 1884.9 1045.5 1884.7 1046 1884.6 1046.5 1884.5 1047 1884.4 1047.5 1884.3 1048 1884.2 1048.5 1884.2 1049 1884.1 1050 1884 1053 1884.1 1053.5 1884.1 1054 1884.2 1054.5 1884.2 1055 1884.3 1055.5 1884.4 1056 1884.5 1056.5 1884.6 1057 1884.7 1057.5 1884.8 1058 1884.9 1058.5 1885 1059 1885.2 1059.5 1885.3 1060 1885.5 1060.5 1885.6 1061 1885.8 1061.5 1885.9 1062 1886.1 1062.5 1886.3 1063 1886.5 1063.5 1886.7 1064 1886.9 1064.5 1887.1 1065 1887.3 1065.5 1887.5 1066 1887.7 1066.5 1887.9 1067 1888.2 1067.5 1888.4 1068 1888.6 1068.5 1888.9 1069 1889.1 1069.5 1889.4 1070 1889.6 1070.5 1889.9 1071 1890.1 1071.5 1890.4 1072 1890.6 1072.5 1890.9 1073 1891.1 1073.5 1891.4 1074 1891.7 1074.5 1892 1075 1892.2 1075.5 1892.5 1076 1892.8 1076.5 1893 1077 1893.3 1077.5 1893.6 1078 1893.9 1078.5 1894.1 1079 1894.4 1079.5 1894.7 1080 1895 1080.5 1895.2 1081 1895.5 1081.5 1895.8 1082 1896.1 1082.5 1896.3 1083 1896.6 1083.5 1896.9 1084 1897.1 1084.5 1897.4 1085 1897.6 1085.5 1897.9 1086 1898.2 1086.5 1898.4 1087 1898.7 1087.5 1898.9 1088 1899.1 1088.5 1899.4 1089 1899.6 1089.5 1899.8 1090 1900.1 1090.5 1900.3 1091 1900.5 1091.5 1900.7 1092 1900.9 1092.5 1901.1 1093 1901.3 1093.5 1901.5 1094 1901.7 1094.5 1901.9 1095 1902.1 1095.5 1902.2 1096 1902.4 1096.5 1902.6 1097 1902.7 1097.5 1902.8 1098 1903 1098.5 1903.1 1099 1903.2 1099.5 1903.3 1100 1903.4 1100.5 1903.5 1101 1903.6 1101.5 1903.7 1102 1903.8 1102.5 1903.8 1103 1903.9 1104 1904 1108.5 1903.9 1109 1903.8 1109.5 1903.8 1110 1903.7 1110.5 1903.7 1111 1903.6 1111.5 1903.5 1112 1903.4 1112.5 1903.3 1113 1903.2 1113.5 1903.1 1114 1903 1114.5 1902.9 1115 1902.8 1115.5 1902.7 1116 1902.6 1116.5 1902.4 1117 1902.3 1117.5 1902.2 1118 1902 1118.5 1901.9 1119 1901.7 1119.5 1901.6 1120 1901.4 1120.5 1901.3 1121 1901.1 1121.5 1900.9 1122 1900.8 1122.5 1900.6 1123 1900.4 1123.5 1900.2 1124 1900 1124.5 1899.9 1125 1899.7 1125.5 1899.5 1126 1899.3 1126.5 1899.1 1127 1898.9 1127.5 1898.7 1128 1898.5 1128.5 1898.3 1129 1898.1 1129.5 1897.9 1130 1897.7 1130.5 1897.5 1131 1897.3 1131.5 1897.1 1132 1896.9 1132.5 1896.7 1133 1896.5 1133.5 1896.3 1134 1896.1 1134.5 1895.9 1135 1895.7 1135.5 1895.5 1136 1895.3 1136.5 1895.1 1137 1894.9 1137.5 1894.7 1138 1894.5 1138.5 1894.3 1139 1894.1 1139.5 1893.9 1140 1893.7 1140.5 1893.5 1141 1893.3 1141.5 1893.2 1142 1893 1142.5 1892.8 1143 1892.6 1143.5 1892.5 1144 1892.3 1144.5 1892.1 1145 1892 1145.5 1891.8 1146 1891.6 1146.5 1891.5 1147 1891.3 1147.5 1891.2 1148 1891 1148.5 1890.9 1149 1890.8 1149.5 1890.6 1150 1890.5 1150.5 1890.4 1151 1890.3 1151.5 1890.2 1152 1890.1 1152.5 1890 1153 1889.9 1153.5 1889.8 1154 1889.7 1154.5 1889.6 1155 1889.6 1155.5 1889.5 1156 1889.4 1156.5 1889.4 1157.5 1889.3 1158.5 1889.2 1163 1889.3 1164 1889.4 1165 1889.5 1165.5 1889.5 1166 1889.6 1166.5 1889.6 1167 1889.7 1167.5 1889.8 1168 1889.8 1168.5 1889.9 1169 1890 1169.5 1890.1 1170 1890.2 1170.5 1890.3 1171 1890.4 1171.5 1890.5 1172 1890.6 1172.5 1890.7 1173 1890.8 1173.5 1890.9 1174 1891 1174.5 1891.1 1175 1891.2 1175.5 1891.4 1176 1891.5 1176.5 1891.6 1177 1891.7 1177.5 1891.9 1178 1892 1178.5 1892.1 1179 1892.3 1179.5 1892.4 1180 1892.5 1180.5 1892.7 1181 1892.8 1181.5 1893 1182 1893.1 1182.5 1893.3 1183 1893.4 1183.5 1893.6 1184 1893.7 1184.5 1893.9 1185 1894 1185.5 1894.2 1186 1894.3 1186.5 1894.5 1187 1894.6 1187.5 1894.8 1188 1894.9 1188.5 1895.1 1189 1895.2 1189.5 1895.4 1190 1895.5 1190.5 1895.7 1191 1895.8 1191.5 1896 1192 1896.1 1192.5 1896.2 1193 1896.4 1193.5 1896.5 1194 1896.7 1194.5 1896.8 1195 1897 1195.5 1897.1 1196 1897.2 1196.5 1897.4 1197 1897.5 1197.5 1897.6 1198 1897.8 1198.5 1897.9 1199 1898 1199.5 1898.1 1200 1898.2 1200.5 1898.4 1201 1898.5 1201.5 1898.6 1202 1898.7 1202.5 1898.8 1203 1898.9 1203.5 1899 1204 1899.1 1204.5 1899.2 1205 1899.3 1205.5 1899.4 1206 1899.4 1206.5 1899.5 1207 1899.6 1207.5 1899.7 1208 1899.7 1208.5 1899.8 1209 1899.8 1209.5 1899.9 1210.5 1900 1211.5 1900.1 1212.5 1900.1 1218 1900.1 1219 1900 1220 1899.9 1221 1899.8 1221.5 1899.8 1222 1899.7 1222.5 1899.7 1223 1899.6 1223.5 1899.6 1224 1899.5 1224.5 1899.4 1225 1899.4 1225.5 1899.3 1226 1899.2 1226.5 1899.2 1227 1899.1 1227.5 1899 1228 1898.9 1228.5 1898.8 1229 1898.7 1229.5 1898.7 1230 1898.6 1230.5 1898.5 1231 1898.4 1231.5 1898.3 1232 1898.2 1232.5 1898.1 1233 1898 1233.5 1897.9 1234 1897.8 1234.5 1897.7 1235 1897.6 1235.5 1897.5 1236 1897.4 1236.5 1897.3 1237 1897.2 1237.5 1897 1238 1896.9 1238.5 1896.8 1239 1896.7 1239.5 1896.6 1240 1896.5 1240.5 1896.4 1241 1896.3 1241.5 1896.2 1242 1896.1 1242.5 1895.9 1243 1895.8 1243.5 1895.7 1244 1895.6 1244.5 1895.5 1245 1895.4 1245.5 1895.3 1246 1895.2 1246.5 1895.1 1247 1894.9 1247.5 1894.8 1248 1894.7 1248.5 1894.6 1249 1894.5 1249.5 1894.4 1250 1894.3 1250.5 1894.2 1251 1894.1 1251.5 1894 1252 1893.9 1252.5 1893.8 1253 1893.7 1253.5 1893.6 1254 1893.6 1254.5 1893.5 1255 1893.4 1255.5 1893.3 1256 1893.2 1256.5 1893.1 1257 1893.1 1257.5 1893 1258 1892.9 1258.5 1892.8 1259 1892.8 1259.5 1892.7 1260 1892.6 1260.5 1892.6 1261 1892.5 1261.5 1892.5 1262 1892.4 1263 1892.3 1264 1892.2 1265 1892.2 1266 1892.1 1267.5 1892.1 1272.5 1892.1 1274 1892.2 1275 1892.3 1276 1892.3 1277 1892.4 1278 1892.5 1279 1892.6 1279.5 1892.6 1280 1892.7 1280.5 1892.7 1281 1892.8 1281.5 1892.9 1282 1892.9 1282.5 1893 1283 1893 1283.5 1893.1 1284 1893.2 1284.5 1893.2 1285 1893.3 1285.5 1893.4 1286 1893.4 1286.5 1893.5 1287 1893.6 1287.5 1893.7 1288 1893.7 1288.5 1893.8 1289 1893.9 1289.5 1894 1290 1894 1290.5 1894.1 1291 1894.2 1291.5 1894.3 1292 1894.4 1292.5 1894.4 1293 1894.5 1293.5 1894.6 1294 1894.7 1294.5 1894.8 1295 1894.8 1295.5 1894.9 1296 1895 1296.5 1895.1 1297 1895.2 1297.5 1895.3 1298 1895.3 1298.5 1895.4 1299 1895.5 1299.5 1895.6 1300 1895.7 1300.5 1895.7 1301 1895.8 1301.5 1895.9 1302 1896 1302.5 1896.1 1303 1896.1 1303.5 1896.2 1304 1896.3 1304.5 1896.4 1305 1896.4 1305.5 1896.5 1306 1896.6 1306.5 1896.7 1307 1896.7 1307.5 1896.8 1308 1896.9 1308.5 1896.9 1309 1897 1309.5 1897.1 1310 1897.1 1310.5 1897.2 1311 1897.2 1311.5 1897.3 1312 1897.4 1312.5 1897.4 1313 1897.5 1313.5 1897.5 1314.5 1897.6 1315.5 1897.7 1316.5 1897.8 1317.5 1897.8 1318.5 1897.9 1319.5 1898 1321 1898 1328.5 1897.9 1330 1897.9 1331 1897.8 1332 1897.8 1333 1897.7 1334 1897.6 1335 1897.5 1336 1897.5 1337 1897.4 1338 1897.3 1339 1897.2 1339.5 1897.1 1340 1897.1 1340.5 1897 1341 1897 1341.5 1896.9 1342 1896.9 1342.5 1896.8 1343 1896.8 1343.5 1896.7 1344 1896.6 1344.5 1896.6 1345 1896.5 1345.5 1896.5 1346 1896.4 1346.5 1896.3 1347 1896.3 1347.5 1896.2 1348 1896.2 1348.5 1896.1 1349 1896 1349.5 1896 1350 1895.9 1350.5 1895.9 1351 1895.8 1351.5 1895.7 1352 1895.7 1352.5 1895.6 1353 1895.6 1353.5 1895.5 1354 1895.4 1354.5 1895.4 1355 1895.3 1355.5 1895.3 1356 1895.2 1356.5 1895.1 1357 1895.1 1357.5 1895 1358 1895 1358.5 1894.9 1359 1894.9 1359.5 1894.8 1360 1894.7 1360.5 1894.7 1361 1894.6 1361.5 1894.6 1362 1894.5 1362.5 1894.5 1363.5 1894.4 1364.5 1894.3 1365.5 1894.2 1366.5 1894.1 1367.5 1894 1368.5 1894 1369.5 1893.9 1370.5 1893.8 1371.5 1893.8 1373 1893.7 1374.5 1893.7 1377.5 1893.6 1382.5 1893.7 1384.5 1893.7 1386 1893.8 1387.5 1893.9 1388.5 1893.9 1389.5 1894 1390.5 1894.1 1391.5 1894.1 1392.5 1894.2 1393.5 1894.3 1394.5 1894.3 1395.5 1894.4 1396.5 1894.5 1397.5 1894.6 1398.5 1894.7 1399.5 1894.7 1400.5 1894.8 1401.5 1894.9 1402.5 1895 1403.5 1895.1 1404.5 1895.2 1405.5 1895.3 1406.5 1895.4 1407.5 1895.5 1408.5 1895.5 1409.5 1895.6 1410.5 1895.7 1411.5 1895.8 1412.5 1895.9 1413.5 1896 1414.5 1896.1 1415.5 1896.1 1416.5 1896.2 1417.5 1896.3 1418.5 1896.4 1419.5 1896.4 1420.5 1896.5 1421.5 1896.5 1422.5 1896.6 1423.5 1896.7 1425 1896.7 1426.5 1896.8 1428.5 1896.8 1432.5 1896.9 1437.5 1896.8 1439.5 1896.8 1441.5 1896.7 1443 1896.7 1444.5 1896.6 1446 1896.5 1447 1896.5 1448 1896.4 1449 1896.4 1450 1896.3 1451 1896.2 1452 1896.2 1453 1896.1 1454 1896.1 1455 1896 1456 1895.9 1457 1895.9 1458 1895.8 1459 1895.7 1460 1895.7 1461 1895.6 1462 1895.5 1463 1895.5 1464 1895.4 1465 1895.3 1466 1895.3 1467 1895.2 1468 1895.1 1469 1895.1 1470 1895 1471 1895 1472 1894.9 1473 1894.9 1474.5 1894.8 1476 1894.7 1477.5 1894.7 1479 1894.6 1481 1894.5 1483.5 1894.5 1494 1894.5 1496.5 1894.6 1498.5 1894.7 1500 1894.7 1501.5 1894.8 1503 1894.8 1504.5 1894.9 1506 1895 1507.5 1895 1509 1895.1 1510.5 1895.2 1512 1895.3 1513.5 1895.3 1515 1895.4 1516.5 1895.5 1518 1895.6 1519.5 1895.6 1521 1895.7 1522.5 1895.8 1524 1895.8 1525.5 1895.9 1527 1896 1528.5 1896 1530 1896.1 1532 1896.1 1534 1896.2 1536.5 1896.2 1550.5 1896.2 1553 1896.1 1555 1896.1 1557 1896 1559 1895.9 1561 1895.9 1562.5 1895.8 1564 1895.8 1565.5 1895.7 1567 1895.7 1568.5 1895.6 1570 1895.6 1571.5 1895.5 1573 1895.4 1574.5 1895.4 1576 1895.3 1577.5 1895.3 1579.5 1895.2 1581.5 1895.2 1583.5 1895.1 1586 1895.1 1589 1895 1593.5 1894.9 1604.5 1895 1608 1895.1 1611 1895.1 1613.5 1895.2 1616 1895.2 1618 1895.3 1620 1895.3 1622 1895.4 1624 1895.4 1626 1895.5 1628 1895.6 1630 1895.6 1632.5 1895.7 1635 1895.7 1637.5 1895.8 1640.5 1895.8 1644.5 1895.9 1662 1895.8 1665.5 1895.8 1668.5 1895.7 1671.5 1895.7 1674.5 1895.6 1677.5 1895.6 1680 1895.5 1683 1895.5 1686 1895.4 1689 1895.3 1692.5 1895.3 1697 1895.2 1725 1895.3 1731.5 1895.3 1737.5 1895.4 1744.5 1895.4 1754.5 1895.5 2023 1895.5" stroke="#0064FF" stroke-dasharray="18.4 14.6 0.01 14.6"/>
<path d="M364 2142.2 641.5 2142.3 642 2143.2 642.5 2145.1 643 2147.8 643.5 2151 644 2154.4 644.5 2157.8 645 2160.9 645.5 2163.4 646 2165 646.5 2166.1 647 2167.2 647.5 2168.3 648 2169.4 648.5 2170.4 649 2171.4 649.5 2172.4 650 2173.4 650.5 2174.4 651 2175.4 651.5 2176.3 652 2177.3 652.5 2178.2 653 2179.1 653.5 2179.9 654 2180.8 654.5 2181.6 655 2182.5 655.5 2183.3 656 2184 656.5 2184.8 657 2185.6 657.5 2186.3 658 2187 658.5 2187.7 659 2188.4 659.5 2189 660 2189.6 660.5 2190.3 661 2190.9 661.5 2191.4 662 2192 662.5 2192.5 663 2193 663.5 2193.5 664 2194 664.5 2194.5 665 2194.9 665.5 2195.3 666 2195.7 666.5 2196.1 667 2196.4 667.5 2196.8 668 2197.1 668.5 2197.4 669 2197.7 669.5 2197.9 670 2198.1 670.5 2198.3 671 2198.5 671.5 2198.7 672 2198.8 672.5 2198.9 673 2199 673.5 2199.1 674 2199.2 675.5 2199.2 676 2199.1 676.5 2199 677 2198.8 677.5 2198.7 678 2198.4 678.5 2198.2 679 2197.9 679.5 2197.5 680 2197.2 680.5 2196.8 681 2196.3 681.5 2195.9 682 2195.4 682.5 2194.8 683 2194.3 683.5 2193.7 684 2193.1 684.5 2192.4 685 2191.7 685.5 2191 686 2190.3 686.5 2189.6 687 2188.8 687.5 2188 688 2187.2 688.5 2186.3 689 2185.5 689.5 2184.6 690 2183.7 690.5 2182.8 691 2181.8 691.5 2180.9 692 2179.9 692.5 2178.9 693 2177.9 693.5 2176.9 694 2175.9 694.5 2174.8 695 2173.8 695.5 2172.7 696 2171.6 696.5 2170.6 697 2169.5 697.5 2168.4 698 2167.3 698.5 2166.2 699 2165 699.5 2163.9 700 2162.8 700.5 2161.7 701 2160.5 701.5 2159.4 702 2158.3 702.5 2157.2 703 2156 703.5 2154.9 704 2153.8 704.5 2152.6 705 2151.5 705.5 2150.4 706 2149.3 706.5 2148.2 707 2147.1 707.5 2146 708 2144.9 708.5 2143.9 709 2142.8 709.5 2141.8 710 2140.7 710.5 2139.7 711 2138.7 711.5 2137.7 712 2136.7 712.5 2135.7 713 2134.8 713.5 2133.9 714 2132.9 714.5 2132 715 2131.2 715.5 2130.3 716 2129.5 716.5 2128.7 717 2127.9 717.5 2127.1 718 2126.3 718.5 2125.6 719 2124.9 719.5 2124.3 720 2123.6 720.5 2123 721 2122.4 721.5 2121.9 722 2121.3 722.5 2120.9 723 2120.4 723.5 2120 724 2119.6 724.5 2119.2 725 2118.9 725.5 2118.6 726 2118.3 726.5 2118.1 727 2117.9 727.5 2117.8 728 2117.7 728.5 2117.6 730 2117.7 730.5 2117.7 731 2117.8 731.5 2117.9 732 2118.1 732.5 2118.2 733 2118.4 733.5 2118.6 734 2118.9 734.5 2119.1 735 2119.4 735.5 2119.7 736 2120 736.5 2120.3 737 2120.7 737.5 2121.1 738 2121.5 738.5 2121.9 739 2122.3 739.5 2122.7 740 2123.2 740.5 2123.7 741 2124.2 741.5 2124.7 742 2125.2 742.5 2125.7 743 2126.3 743.5 2126.8 744 2127.4 744.5 2128 745 2128.6 745.5 2129.2 746 2129.8 746.5 2130.5 747 2131.1 747.5 2131.7 748 2132.4 748.5 2133.1 749 2133.7 749.5 2134.4 750 2135.1 750.5 2135.8 751 2136.5 751.5 2137.2 752 2137.9 752.5 2138.6 753 2139.3 753.5 2140 754 2140.8 754.5 2141.5 755 2142.2 755.5 2142.9 756 2143.7 756.5 2144.4 757 2145.1 757.5 2145.8 758 2146.6 758.5 2147.3 759 2148 759.5 2148.7 760 2149.4 760.5 2150.1 761 2150.9 761.5 2151.6 762 2152.3 762.5 2152.9 763 2153.6 763.5 2154.3 764 2155 764.5 2155.6 765 2156.3 765.5 2156.9 766 2157.6 766.5 2158.2 767 2158.8 767.5 2159.4 768 2160 768.5 2160.6 769 2161.2 769.5 2161.7 770 2162.3 770.5 2162.8 771 2163.3 771.5 2163.8 772 2164.3 772.5 2164.8 773 2165.3 773.5 2165.7 774 2166.1 774.5 2166.5 775 2166.9 775.5 2167.3 776 2167.6 776.5 2168 777 2168.3 777.5 2168.6 778 2168.8 778.5 2169.1 779 2169.3 779.5 2169.5 780 2169.7 780.5 2169.9 781 2170 781.5 2170.1 782 2170.2 782.5 2170.3 784.5 2170.2 785 2170.2 785.5 2170.1 786 2170 786.5 2169.9 787 2169.8 787.5 2169.6 788 2169.4 788.5 2169.2 789 2169 789.5 2168.8 790 2168.6 790.5 2168.3 791 2168 791.5 2167.7 792 2167.4 792.5 2167.1 793 2166.8 793.5 2166.4 794 2166.1 794.5 2165.7 795 2165.3 795.5 2164.9 796 2164.5 796.5 2164.1 797 2163.6 797.5 2163.2 798 2162.7 798.5 2162.3 799 2161.8 799.5 2161.3 800 2160.8 800.5 2160.3 801 2159.8 801.5 2159.3 802 2158.8 802.5 2158.2 803 2157.7 803.5 2157.2 804 2156.6 804.5 2156.1 805 2155.5 805.5 2154.9 806 2154.4 806.5 2153.8 807 2153.2 807.5 2152.6 808 2152.1 808.5 2151.5 809 2150.9 809.5 2150.3 810 2149.7 810.5 2149.1 811 2148.6 811.5 2148 812 2147.4 812.5 2146.8 813 2146.2 813.5 2145.7 814 2145.1 814.5 2144.5 815 2143.9 815.5 2143.4 816 2142.8 816.5 2142.2 817 2141.7 817.5 2141.1 818 2140.6 818.5 2140.1 819 2139.5 819.5 2139 820 2138.5 820.5 2138 821 2137.5 821.5 2137 822 2136.5 822.5 2136 823 2135.6 823.5 2135.1 824 2134.7 824.5 2134.2 825 2133.8 825.5 2133.4 826 2133 826.5 2132.6 827 2132.2 827.5 2131.9 828 2131.5 828.5 2131.2 829 2130.9 829.5 2130.6 830 2130.3 830.5 2130 831 2129.7 831.5 2129.5 832 2129.3 832.5 2129.1 833 2128.9 833.5 2128.7 834 2128.5 834.5 2128.4 835 2128.3 835.5 2128.2 836 2128.1 836.5 2128.1 837.5 2128 839 2128.1 839.5 2128.1 840 2128.2 840.5 2128.2 841 2128.3 841.5 2128.4 842 2128.5 842.5 2128.6 843 2128.8 843.5 2128.9 844 2129.1 844.5 2129.2 845 2129.4 845.5 2129.6 846 2129.8 846.5 2130 847 2130.2 847.5 2130.5 848 2130.7 848.5 2130.9 849 2131.2 849.5 2131.4 850 2131.7 850.5 2132 851 2132.3 851.5 2132.6 852 2132.9 852.5 2133.2 853 2133.5 853.5 2133.8 854 2134.1 854.5 2134.5 855 2134.8 855.5 2135.1 856 2135.5 856.5 2135.8 857 2136.2 857.5 2136.5 858 2136.9 858.5 2137.3 859 2137.6 859.5 2138 860 2138.4 860.5 2138.7 861 2139.1 861.5 2139.5 862 2139.9 862.5 2140.3 863 2140.7 863.5 2141 864 2141.4 864.5 2141.8 865 2142.2 865.5 2142.6 866 2143 866.5 2143.4 867 2143.8 867.5 2144.1 868 2144.5 868.5 2144.9 869 2145.3 869.5 2145.7 870 2146 870.5 2146.4 871 2146.8 871.5 2147.1 872 2147.5 872.5 2147.9 873 2148.2 873.5 2148.6 874 2148.9 874.5 2149.2 875 2149.6 875.5 2149.9 876 2150.2 876.5 2150.6 877 2150.9 877.5 2151.2 878 2151.5 878.5 2151.8 879 2152.1 879.5 2152.3 880 2152.6 880.5 2152.9 881 2153.1 881.5 2153.4 882 2153.6 882.5 2153.8 883 2154 883.5 2154.3 884 2154.5 884.5 2154.6 885 2154.8 885.5 2155 886 2155.1 886.5 2155.3 887 2155.4 887.5 2155.6 888 2155.7 888.5 2155.8 889 2155.9 889.5 2155.9 890 2156 891 2156.1 894 2156 894.5 2156 895 2155.9 895.5 2155.8 896 2155.8 896.5 2155.7 897 2155.6 897.5 2155.5 898 2155.3 898.5 2155.2 899 2155.1 899.5 2154.9 900 2154.8 900.5 2154.6 901 2154.5 901.5 2154.3 902 2154.1 902.5 2153.9 903 2153.7 903.5 2153.5 904 2153.3 904.5 2153.1 905 2152.9 905.5 2152.6 906 2152.4 906.5 2152.1 907 2151.9 907.5 2151.7 908 2151.4 908.5 2151.1 909 2150.9 909.5 2150.6 910 2150.3 910.5 2150.1 911 2149.8 911.5 2149.5 912 2149.2 912.5 2148.9 913 2148.6 913.5 2148.3 914 2148 914.5 2147.7 915 2147.4 915.5 2147.1 916 2146.8 916.5 2146.5 917 2146.2 917.5 2145.9 918 2145.6 918.5 2145.3 919 2145 919.5 2144.7 920 2144.3 920.5 2144 921 2143.7 921.5 2143.4 922 2143.1 922.5 2142.8 923 2142.5 923.5 2142.2 924 2141.9 924.5 2141.6 925 2141.3 925.5 2141 926 2140.7 926.5 2140.4 927 2140.1 927.5 2139.9 928 2139.6 928.5 2139.3 929 2139 929.5 2138.8 930 2138.5 930.5 2138.2 931 2138 931.5 2137.7 932 2137.5 932.5 2137.3 933 2137 933.5 2136.8 934 2136.6 934.5 2136.4 935 2136.2 935.5 2136 936 2135.8 936.5 2135.6 937 2135.4 937.5 2135.2 938 2135.1 938.5 2134.9 939 2134.8 939.5 2134.6 940 2134.5 940.5 2134.4 941 2134.3 941.5 2134.2 942 2134.1 942.5 2134 943 2133.9 943.5 2133.9 944 2133.8 945 2133.7 948.5 2133.8 949 2133.8 949.5 2133.9 950 2133.9 950.5 2134 951 2134.1 951.5 2134.2 952 2134.2 952.5 2134.3 953 2134.4 953.5 2134.6 954 2134.7 954.5 2134.8 955 2134.9 955.5 2135 956 2135.2 956.5 2135.3 957 2135.5 957.5 2135.6 958 2135.8 958.5 2135.9 959 2136.1 959.5 2136.3 960 2136.5 960.5 2136.6 961 2136.8 961.5 2137 962 2137.2 962.5 2137.4 963 2137.6 963.5 2137.8 964 2138 964.5 2138.2 965 2138.4 965.5 2138.6 966 2138.9 966.5 2139.1 967 2139.3 967.5 2139.5 968 2139.7 968.5 2140 969 2140.2 969.5 2140.4 970 2140.6 970.5 2140.9 971 2141.1 971.5 2141.3 972 2141.6 972.5 2141.8 973 2142 973.5 2142.3 974 2142.5 974.5 2142.7 975 2142.9 975.5 2143.2 976 2143.4 976.5 2143.6 977 2143.8 977.5 2144.1 978 2144.3 978.5 2144.5 979 2144.7 979.5 2144.9 980 2145.2 980.5 2145.4 981 2145.6 981.5 2145.8 982 2146 982.5 2146.2 983 2146.4 983.5 2146.6 984 2146.7 984.5 2146.9 985 2147.1 985.5 2147.3 986 2147.5 986.5 2147.6 987 2147.8 987.5 2147.9 988 2148.1 988.5 2148.2 989 2148.4 989.5 2148.5 990 2148.6 990.5 2148.8 991 2148.9 991.5 2149 992 2149.1 992.5 2149.2 993 2149.3 993.5 2149.4 994 2149.4 994.5 2149.5 995 2149.6 995.5 2149.6 996.5 2149.7 997.5 2149.8 1001.5 2149.7 1002.5 2149.6 1003 2149.6 1003.5 2149.5 1004 2149.5 1004.5 2149.4 1005 2149.3 1005.5 2149.2 1006 2149.2 1006.5 2149.1 1007 2149 1007.5 2148.9 1008 2148.8 1008.5 2148.7 1009 2148.6 1009.5 2148.5 1010 2148.4 1010.5 2148.3 1011 2148.1 1011.5 2148 1012 2147.9 1012.5 2147.8 1013 2147.6 1013.5 2147.5 1014 2147.4 1014.5 2147.2 1015 2147.1 1015.5 2146.9 1016 2146.8 1016.5 2146.6 1017 2146.5 1017.5 2146.3 1018 2146.2 1018.5 2146 1019 2145.9 1019.5 2145.7 1020 2145.5 1020.5 2145.4 1021 2145.2 1021.5 2145 1022 2144.9 1022.5 2144.7 1023 2144.5 1023.5 2144.4 1024 2144.2 1024.5 2144 1025 2143.8 1025.5 2143.7 1026 2143.5 1026.5 2143.3 1027 2143.2 1027.5 2143 1028 2142.8 1028.5 2142.6 1029 2142.5 1029.5 2142.3 1030 2142.1 1030.5 2142 1031 2141.8 1031.5 2141.6 1032 2141.5 1032.5 2141.3 1033 2141.2 1033.5 2141 1034 2140.8 1034.5 2140.7 1035 2140.5 1035.5 2140.4 1036 2140.2 1036.5 2140.1 1037 2139.9 1037.5 2139.8 1038 2139.7 1038.5 2139.5 1039 2139.4 1039.5 2139.3 1040 2139.1 1040.5 2139 1041 2138.9 1041.5 2138.8 1042 2138.7 1042.5 2138.6 1043 2138.5 1043.5 2138.4 1044 2138.3 1044.5 2138.2 1045 2138.1 1045.5 2138 1046 2137.9 1046.5 2137.9 1047 2137.8 1047.5 2137.7 1048 2137.7 1048.5 2137.6 1049.5 2137.5 1050.5 2137.5 1052 2137.4 1055.5 2137.5 1056.5 2137.5 1057.5 2137.6 1058.5 2137.7 1059.5 2137.8 1060 2137.8 1060.5 2137.9 1061 2137.9 1061.5 2138 1062 2138 1062.5 2138.1 1063 2138.2 1063.5 2138.3 1064 2138.3 1064.5 2138.4 1065 2138.5 1065.5 2138.6 1066 2138.7 1066.5 2138.7 1067 2138.8 1067.5 2138.9 1068 2139 1068.5 2139.1 1069 2139.2 1069.5 2139.3 1070 2139.4 1070.5 2139.5 1071 2139.6 1071.5 2139.7 1072 2139.8 1072.5 2139.9 1073 2140 1073.5 2140.1 1074 2140.2 1074.5 2140.4 1075 2140.5 1075.5 2140.6 1076 2140.7 1076.5 2140.8 1077 2140.9 1077.5 2141 1078 2141.2 1078.5 2141.3 1079 2141.4 1079.5 2141.5 1080 2141.6 1080.5 2141.7 1081 2141.8 1081.5 2142 1082 2142.1 1082.5 2142.2 1083 2142.3 1083.5 2142.4 1084 2142.5 1084.5 2142.6 1085 2142.8 1085.5 2142.9 1086 2143 1086.5 2143.1 1087 2143.2 1087.5 2143.3 1088 2143.4 1088.5 2143.5 1089 2143.6 1089.5 2143.7 1090 2143.8 1090.5 2143.9 1091 2144 1091.5 2144.1 1092 2144.2 1092.5 2144.3 1093 2144.4 1093.5 2144.5 1094 2144.6 1094.5 2144.6 1095 2144.7 1095.5 2144.8 1096 2144.9 1096.5 2144.9 1097 2145 1097.5 2145.1 1098 2145.1 1098.5 2145.2 1099 2145.3 1099.5 2145.3 1100 2145.4 1101 2145.5 1102 2145.6 1103 2145.6 1104 2145.7 1105.5 2145.7 1110.5 2145.7 1112 2145.6 1113 2145.5 1114 2145.5 1115 2145.4 1116 2145.3 1116.5 2145.2 1117 2145.2 1117.5 2145.1 1118 2145.1 1118.5 2145 1119 2145 1119.5 2144.9 1120 2144.8 1120.5 2144.8 1121 2144.7 1121.5 2144.6 1122 2144.6 1122.5 2144.5 1123 2144.4 1123.5 2144.4 1124 2144.3 1124.5 2144.2 1125 2144.2 1125.5 2144.1 1126 2144 1126.5 2143.9 1127 2143.8 1127.5 2143.8 1128 2143.7 1128.5 2143.6 1129 2143.5 1129.5 2143.5 1130 2143.4 1130.5 2143.3 1131 2143.2 1131.5 2143.1 1132 2143 1132.5 2143 1133 2142.9 1133.5 2142.8 1134 2142.7 1134.5 2142.6 1135 2142.5 1135.5 2142.5 1136 2142.4 1136.5 2142.3 1137 2142.2 1137.5 2142.1 1138 2142 1138.5 2142 1139 2141.9 1139.5 2141.8 1140 2141.7 1140.5 2141.6 1141 2141.6 1141.5 2141.5 1142 2141.4 1142.5 2141.3 1143 2141.3 1143.5 2141.2 1144 2141.1 1144.5 2141 1145 2141 1145.5 2140.9 1146 2140.8 1146.5 2140.8 1147 2140.7 1147.5 2140.6 1148 2140.6 1148.5 2140.5 1149 2140.5 1149.5 2140.4 1150 2140.4 1150.5 2140.3 1151 2140.3 1152 2140.2 1153 2140.1 1154 2140 1155 2139.9 1156 2139.9 1157.5 2139.8 1159.5 2139.7 1165 2139.8 1166.5 2139.9 1168 2139.9 1169 2140 1170 2140.1 1171 2140.1 1172 2140.2 1173 2140.3 1174 2140.4 1175 2140.5 1176 2140.6 1176.5 2140.6 1177 2140.7 1177.5 2140.7 1178 2140.8 1178.5 2140.8 1179 2140.9 1179.5 2140.9 1180 2141 1180.5 2141 1181 2141.1 1181.5 2141.2 1182 2141.2 1182.5 2141.3 1183 2141.3 1183.5 2141.4 1184 2141.4 1184.5 2141.5 1185 2141.6 1185.5 2141.6 1186 2141.7 1186.5 2141.7 1187 2141.8 1187.5 2141.9 1188 2141.9 1188.5 2142 1189 2142 1189.5 2142.1 1190 2142.2 1190.5 2142.2 1191 2142.3 1191.5 2142.3 1192 2142.4 1192.5 2142.5 1193 2142.5 1193.5 2142.6 1194 2142.6 1194.5 2142.7 1195 2142.7 1195.5 2142.8 1196 2142.9 1196.5 2142.9 1197 2143 1197.5 2143 1198 2143.1 1198.5 2143.1 1199 2143.2 1200 2143.3 1201 2143.4 1202 2143.4 1203 2143.5 1204 2143.6 1205 2143.7 1206 2143.8 1207 2143.8 1208 2143.9 1209.5 2143.9 1211 2144 1213.5 2144.1 1219.5 2144 1221.5 2143.9 1223 2143.9 1224.5 2143.8 1225.5 2143.7 1226.5 2143.7 1227.5 2143.6 1228.5 2143.6 1229.5 2143.5 1230.5 2143.4 1231.5 2143.4 1232.5 2143.3 1233.5 2143.2 1234.5 2143.1 1235.5 2143 1236.5 2143 1237.5 2142.9 1238.5 2142.8 1239.5 2142.7 1240.5 2142.6 1241.5 2142.5 1242.5 2142.4 1243.5 2142.4 1244.5 2142.3 1245.5 2142.2 1246.5 2142.1 1247.5 2142 1248.5 2141.9 1249.5 2141.9 1250.5 2141.8 1251.5 2141.7 1252.5 2141.6 1253.5 2141.6 1254.5 2141.5 1255.5 2141.4 1256.5 2141.4 1257.5 2141.3 1258.5 2141.2 1259.5 2141.2 1261 2141.1 1262.5 2141.1 1264.5 2141 1267.5 2141 1274 2141 1276 2141.1 1278 2141.1 1279.5 2141.2 1281 2141.2 1282.5 2141.3 1284 2141.4 1285 2141.4 1286 2141.5 1287 2141.5 1288 2141.6 1289 2141.7 1290 2141.7 1291 2141.8 1292 2141.8 1293 2141.9 1294 2142 1295 2142 1296 2142.1 1297 2142.1 1298 2142.2 1299 2142.3 1300 2142.3 1301 2142.4 1302 2142.4 1303 2142.5 1304 2142.6 1305 2142.6 1306 2142.7 1307 2142.7 1308 2142.8 1309.5 2142.8 1311 2142.9 1312.5 2143 1314 2143 1316 2143.1 1318.5 2143.1 1331 2143.1 1333 2143 1335 2143 1337 2142.9 1338.5 2142.9 1340 2142.8 1341.5 2142.7 1343 2142.7 1344.5 2142.6 1346 2142.6 1347.5 2142.5 1349 2142.4 1350.5 2142.4 1352 2142.3 1353.5 2142.2 1355 2142.2 1356.5 2142.1 1358 2142 1359.5 2142 1361 2141.9 1362.5 2141.9 1364 2141.8 1366 2141.7 1368 2141.7 1370.5 2141.6 1374.5 2141.6 1384.5 2141.6 1387.5 2141.7 1390 2141.7 1392 2141.8 1394 2141.9 1396 2141.9 1398 2142 1400 2142 1402 2142.1 1404 2142.2 1406 2142.2 1408 2142.3 1410 2142.4 1412 2142.4 1414 2142.5 1416 2142.5 1418.5 2142.6 1421 2142.6 1424 2142.7 1430.5 2142.7 1439 2142.7 1443 2142.6 1446 2142.6 1449 2142.5 1451.5 2142.5 1454 2142.4 1456.5 2142.3 1459 2142.3 1461.5 2142.2 1464 2142.2 1466.5 2142.1 1469 2142.1 1472 2142 1475.5 2142 1480.5 2141.9 1500 2142 1506 2142 1511.5 2142.1 1517 2142.1 1523 2142.2 1530.5 2142.2 2023 2142.2" stroke="#FF5000" stroke-dasharray="6 2.2" stroke-linecap="butt"/>
<path d="M364 2142.2 641 2142.2 641.5 2141.7 642 2123.5 642.5 2086.4 643 2039.2 643.5 1990.8 644 1950 644.5 1915.7 645 1881.4 645.5 1847.4 646 1814.4 646.5 1782.6 647 1752.7 647.5 1725 648 1700 648.5 1676.6 649 1653.8 649.5 1631.7 650 1611.1 650.5 1592.1 651 1575.3 651.5 1561.2 652 1550 652.5 1540.6 653 1531.4 653.5 1522.6 654 1514.5 654.5 1507.1 655 1500.7 655.5 1495.4 656 1491.4 656.5 1488.9 657 1488 657.5 1488.4 658 1489.6 658.5 1491.6 659 1494.3 659.5 1497.6 660 1501.6 660.5 1506.2 661 1511.4 661.5 1517.1 662 1523.3 662.5 1529.9 663 1537 663.5 1544.4 664 1552.1 664.5 1560.2 665 1568.5 665.5 1577 666 1585.7 666.5 1594.5 667 1603.4 667.5 1612.4 668 1621.4 668.5 1630.4 669 1639.3 669.5 1648.2 670 1656.9 670.5 1665.5 671 1673.8 671.5 1681.9 672 1689.7 672.5 1697.2 673 1704.3 673.5 1711 674 1717.3 674.5 1723.1 675 1728.4 675.5 1733.1 676 1737.2 676.5 1740.7 677 1743.5 677.5 1745.6 678 1747 678.5 1747.6 679 1747.6 679.5 1747.4 680 1747.1 680.5 1746.6 681 1746 681.5 1745.3 682 1744.5 682.5 1743.5 683 1742.5 683.5 1741.3 684 1740 684.5 1738.6 685 1737.1 685.5 1735.5 686 1733.8 686.5 1731.9 687 1730 687.5 1728 688 1725.9 688.5 1723.8 689 1721.5 689.5 1719.2 690 1716.7 690.5 1714.2 691 1711.7 691.5 1709.1 692 1706.4 692.5 1703.6 693 1700.8 693.5 1697.9 694 1694.9 694.5 1692 695 1688.9 695.5 1685.8 696 1682.7 696.5 1679.6 697 1676.4 697.5 1673.1 698 1669.9 698.5 1666.6 699 1663.2 699.5 1659.9 700 1656.5 700.5 1653.2 701 1649.8 701.5 1646.4 702 1643 702.5 1639.5 703 1636.1 703.5 1632.7 704 1629.3 704.5 1625.9 705 1622.5 705.5 1619.1 706 1615.7 706.5 1612.4 707 1609 707.5 1605.7 708 1602.4 708.5 1599.2 709 1596 709.5 1592.8 710 1589.6 710.5 1586.5 711 1583.5 711.5 1580.4 712 1577.5 712.5 1574.6 713 1571.7 713.5 1568.9 714 1566.2 714.5 1563.5 715 1560.9 715.5 1558.3 716 1555.9 716.5 1553.5 717 1551.2 717.5 1549 718 1546.8 718.5 1544.8 719 1542.8 719.5 1540.9 720 1539.1 720.5 1537.5 721 1535.9 721.5 1534.4 722 1533.1 722.5 1531.8 723 1530.7 723.5 1529.7 724 1528.8 724.5 1528 725 1527.3 725.5 1526.8 726 1526.4 726.5 1526.1 727 1526 727.5 1526 728 1526.1 728.5 1526.3 729 1526.6 729.5 1527 730 1527.5 730.5 1528 731 1528.7 731.5 1529.4 732 1530.3 732.5 1531.1 733 1532.1 733.5 1533.2 734 1534.3 734.5 1535.5 735 1536.8 735.5 1538.1 736 1539.6 736.5 1541 737 1542.6 737.5 1544.2 738 1545.9 738.5 1547.6 739 1549.4 739.5 1551.2 740 1553.1 740.5 1555.1 741 1557.1 741.5 1559.1 742 1561.2 742.5 1563.4 743 1565.6 743.5 1567.8 744 1570.1 744.5 1572.4 745 1574.7 745.5 1577.1 746 1579.5 746.5 1582 747 1584.5 747.5 1587 748 1589.5 748.5 1592.1 749 1594.6 749.5 1597.2 750 1599.9 750.5 1602.5 751 1605.1 751.5 1607.8 752 1610.5 752.5 1613.2 753 1615.9 753.5 1618.6 754 1621.3 754.5 1624 755 1626.7 755.5 1629.4 756 1632.1 756.5 1634.8 757 1637.5 757.5 1640.2 758 1642.9 758.5 1645.6 759 1648.2 759.5 1650.9 760 1653.5 760.5 1656.1 761 1658.7 761.5 1661.3 762 1663.8 762.5 1666.3 763 1668.8 763.5 1671.3 764 1673.7 764.5 1676.1 765 1678.5 765.5 1680.8 766 1683.1 766.5 1685.4 767 1687.6 767.5 1689.8 768 1691.9 768.5 1694 769 1696 769.5 1698 770 1699.9 770.5 1701.8 771 1703.6 771.5 1705.4 772 1707.1 772.5 1708.8 773 1710.3 773.5 1711.9 774 1713.3 774.5 1714.7 775 1716 775.5 1717.3 776 1718.4 776.5 1719.5 777 1720.6 777.5 1721.5 778 1722.4 778.5 1723.2 779 1723.9 779.5 1724.5 780 1725 780.5 1725.5 781 1725.8 781.5 1726.1 782 1726.2 782.5 1726.3 783 1726.3 783.5 1726.2 784 1726.1 784.5 1725.9 785 1725.6 785.5 1725.3 786 1724.9 786.5 1724.5 787 1724 787.5 1723.5 788 1722.9 788.5 1722.3 789 1721.6 789.5 1720.9 790 1720.1 790.5 1719.3 791 1718.4 791.5 1717.5 792 1716.6 792.5 1715.6 793 1714.5 793.5 1713.5 794 1712.4 794.5 1711.2 795 1710.1 795.5 1708.9 796 1707.6 796.5 1706.4 797 1705.1 797.5 1703.7 798 1702.4 798.5 1701 799 1699.6 799.5 1698.2 800 1696.7 800.5 1695.2 801 1693.7 801.5 1692.2 802 1690.7 802.5 1689.2 803 1687.6 803.5 1686 804 1684.4 804.5 1682.8 805 1681.2 805.5 1679.6 806 1677.9 806.5 1676.3 807 1674.6 807.5 1673 808 1671.3 808.5 1669.7 809 1668 809.5 1666.4 810 1664.7 810.5 1663 811 1661.4 811.5 1659.7 812 1658.1 812.5 1656.4 813 1654.8 813.5 1653.2 814 1651.6 814.5 1650 815 1648.4 815.5 1646.8 816 1645.2 816.5 1643.7 817 1642.2 817.5 1640.7 818 1639.2 818.5 1637.7 819 1636.2 819.5 1634.8 820 1633.4 820.5 1632 821 1630.7 821.5 1629.4 822 1628.1 822.5 1626.8 823 1625.6 823.5 1624.4 824 1623.2 824.5 1622.1 825 1621 825.5 1619.9 826 1618.9 826.5 1617.9 827 1617 827.5 1616.1 828 1615.3 828.5 1614.5 829 1613.7 829.5 1613 830 1612.3 830.5 1611.7 831 1611.1 831.5 1610.6 832 1610.1 832.5 1609.7 833 1609.3 833.5 1609 834 1608.8 834.5 1608.6 835 1608.5 835.5 1608.4 836.5 1608.4 837 1608.5 837.5 1608.6 838 1608.8 838.5 1608.9 839 1609.2 839.5 1609.4 840 1609.7 840.5 1610 841 1610.4 841.5 1610.7 842 1611.1 842.5 1611.6 843 1612 843.5 1612.5 844 1613.1 844.5 1613.6 845 1614.2 845.5 1614.8 846 1615.4 846.5 1616.1 847 1616.8 847.5 1617.4 848 1618.2 848.5 1618.9 849 1619.7 849.5 1620.4 850 1621.2 850.5 1622.1 851 1622.9 851.5 1623.8 852 1624.6 852.5 1625.5 853 1626.4 853.5 1627.3 854 1628.2 854.5 1629.2 855 1630.1 855.5 1631.1 856 1632.1 856.5 1633.1 857 1634.1 857.5 1635.1 858 1636.1 858.5 1637.1 859 1638.1 859.5 1639.1 860 1640.2 860.5 1641.2 861 1642.2 861.5 1643.3 862 1644.3 862.5 1645.4 863 1646.4 863.5 1647.5 864 1648.5 864.5 1649.5 865 1650.6 865.5 1651.6 866 1652.7 866.5 1653.7 867 1654.7 867.5 1655.7 868 1656.7 868.5 1657.7 869 1658.7 869.5 1659.7 870 1660.7 870.5 1661.7 871 1662.6 871.5 1663.6 872 1664.5 872.5 1665.4 873 1666.4 873.5 1667.2 874 1668.1 874.5 1669 875 1669.8 875.5 1670.7 876 1671.5 876.5 1672.3 877 1673 877.5 1673.8 878 1674.5 878.5 1675.2 879 1675.9 879.5 1676.6 880 1677.2 880.5 1677.8 881 1678.4 881.5 1679 882 1679.5 882.5 1680.1 883 1680.5 883.5 1681 884 1681.4 884.5 1681.8 885 1682.2 885.5 1682.5 886 1682.8 886.5 1683.1 887 1683.3 887.5 1683.5 888 1683.7 888.5 1683.8 889 1683.9 889.5 1684 891 1683.9 891.5 1683.9 892 1683.7 892.5 1683.6 893 1683.4 893.5 1683.2 894 1683 894.5 1682.8 895 1682.5 895.5 1682.2 896 1681.8 896.5 1681.5 897 1681.1 897.5 1680.7 898 1680.2 898.5 1679.8 899 1679.3 899.5 1678.8 900 1678.3 900.5 1677.7 901 1677.2 901.5 1676.6 902 1676 902.5 1675.4 903 1674.8 903.5 1674.1 904 1673.4 904.5 1672.8 905 1672.1 905.5 1671.3 906 1670.6 906.5 1669.9 907 1669.1 907.5 1668.4 908 1667.6 908.5 1666.8 909 1666 909.5 1665.2 910 1664.4 910.5 1663.6 911 1662.7 911.5 1661.9 912 1661.1 912.5 1660.2 913 1659.4 913.5 1658.5 914 1657.6 914.5 1656.8 915 1655.9 915.5 1655 916 1654.1 916.5 1653.3 917 1652.4 917.5 1651.5 918 1650.7 918.5 1649.8 919 1648.9 919.5 1648 920 1647.2 920.5 1646.3 921 1645.5 921.5 1644.6 922 1643.8 922.5 1642.9 923 1642.1 923.5 1641.3 924 1640.5 924.5 1639.7 925 1638.9 925.5 1638.1 926 1637.3 926.5 1636.5 927 1635.8 927.5 1635 928 1634.3 928.5 1633.6 929 1632.9 929.5 1632.2 930 1631.5 930.5 1630.9 931 1630.2 931.5 1629.6 932 1629 932.5 1628.4 933 1627.9 933.5 1627.3 934 1626.8 934.5 1626.3 935 1625.8 935.5 1625.4 936 1624.9 936.5 1624.5 937 1624.1 937.5 1623.7 938 1623.4 938.5 1623.1 939 1622.8 939.5 1622.5 940 1622.3 940.5 1622.1 941 1621.9 941.5 1621.8 942 1621.7 942.5 1621.6 943 1621.5 944.5 1621.5 945 1621.6 945.5 1621.7 946 1621.8 946.5 1621.9 947 1622 947.5 1622.2 948 1622.4 948.5 1622.6 949 1622.8 949.5 1623.1 950 1623.3 950.5 1623.6 951 1623.9 951.5 1624.2 952 1624.6 952.5 1624.9 953 1625.3 953.5 1625.7 954 1626.1 954.5 1626.5 955 1626.9 955.5 1627.3 956 1627.8 956.5 1628.3 957 1628.7 957.5 1629.2 958 1629.7 958.5 1630.3 959 1630.8 959.5 1631.3 960 1631.9 960.5 1632.4 961 1633 961.5 1633.6 962 1634.1 962.5 1634.7 963 1635.3 963.5 1635.9 964 1636.5 964.5 1637.2 965 1637.8 965.5 1638.4 966 1639 966.5 1639.7 967 1640.3 967.5 1640.9 968 1641.6 968.5 1642.2 969 1642.9 969.5 1643.5 970 1644.2 970.5 1644.8 971 1645.5 971.5 1646.1 972 1646.8 972.5 1647.4 973 1648.1 973.5 1648.7 974 1649.4 974.5 1650 975 1650.6 975.5 1651.3 976 1651.9 976.5 1652.5 977 1653.1 977.5 1653.8 978 1654.4 978.5 1655 979 1655.5 979.5 1656.1 980 1656.7 980.5 1657.3 981 1657.8 981.5 1658.4 982 1658.9 982.5 1659.4 983 1660 983.5 1660.5 984 1661 984.5 1661.4 985 1661.9 985.5 1662.4 986 1662.8 986.5 1663.2 987 1663.7 987.5 1664.1 988 1664.5 988.5 1664.8 989 1665.2 989.5 1665.5 990 1665.8 990.5 1666.1 991 1666.4 991.5 1666.7 992 1666.9 992.5 1667.2 993 1667.4 993.5 1667.6 994 1667.7 994.5 1667.9 995 1668 995.5 1668.1 996 1668.2 996.5 1668.3 999 1668.2 999.5 1668.2 1000 1668.1 1000.5 1668 1001 1667.9 1001.5 1667.8 1002 1667.7 1002.5 1667.5 1003 1667.4 1003.5 1667.2 1004 1667 1004.5 1666.8 1005 1666.6 1005.5 1666.4 1006 1666.2 1006.5 1665.9 1007 1665.7 1007.5 1665.4 1008 1665.1 1008.5 1664.8 1009 1664.5 1009.5 1664.2 1010 1663.9 1010.5 1663.6 1011 1663.3 1011.5 1662.9 1012 1662.6 1012.5 1662.2 1013 1661.9 1013.5 1661.5 1014 1661.1 1014.5 1660.7 1015 1660.3 1015.5 1659.9 1016 1659.5 1016.5 1659.1 1017 1658.7 1017.5 1658.3 1018 1657.9 1018.5 1657.4 1019 1657 1019.5 1656.6 1020 1656.1 1020.5 1655.7 1021 1655.2 1021.5 1654.8 1022 1654.3 1022.5 1653.9 1023 1653.4 1023.5 1653 1024 1652.5 1024.5 1652.1 1025 1651.6 1025.5 1651.2 1026 1650.7 1026.5 1650.2 1027 1649.8 1027.5 1649.3 1028 1648.9 1028.5 1648.4 1029 1648 1029.5 1647.5 1030 1647.1 1030.5 1646.7 1031 1646.2 1031.5 1645.8 1032 1645.4 1032.5 1644.9 1033 1644.5 1033.5 1644.1 1034 1643.7 1034.5 1643.3 1035 1642.9 1035.5 1642.5 1036 1642.1 1036.5 1641.7 1037 1641.3 1037.5 1641 1038 1640.6 1038.5 1640.2 1039 1639.9 1039.5 1639.6 1040 1639.2 1040.5 1638.9 1041 1638.6 1041.5 1638.3 1042 1638 1042.5 1637.7 1043 1637.4 1043.5 1637.2 1044 1636.9 1044.5 1636.7 1045 1636.5 1045.5 1636.3 1046 1636.1 1046.5 1635.9 1047 1635.7 1047.5 1635.5 1048 1635.4 1048.5 1635.2 1049 1635.1 1049.5 1635 1050 1634.9 1050.5 1634.8 1051 1634.8 1052 1634.7 1055 1634.8 1055.5 1634.8 1056 1634.9 1056.5 1635 1057 1635.1 1057.5 1635.2 1058 1635.3 1058.5 1635.4 1059 1635.5 1059.5 1635.7 1060 1635.8 1060.5 1636 1061 1636.1 1061.5 1636.3 1062 1636.5 1062.5 1636.7 1063 1636.9 1063.5 1637.1 1064 1637.3 1064.5 1637.6 1065 1637.8 1065.5 1638 1066 1638.3 1066.5 1638.5 1067 1638.8 1067.5 1639 1068 1639.3 1068.5 1639.6 1069 1639.9 1069.5 1640.1 1070 1640.4 1070.5 1640.7 1071 1641 1071.5 1641.3 1072 1641.6 1072.5 1641.9 1073 1642.3 1073.5 1642.6 1074 1642.9 1074.5 1643.2 1075 1643.5 1075.5 1643.9 1076 1644.2 1076.5 1644.5 1077 1644.9 1077.5 1645.2 1078 1645.5 1078.5 1645.9 1079 1646.2 1079.5 1646.5 1080 1646.9 1080.5 1647.2 1081 1647.6 1081.5 1647.9 1082 1648.2 1082.5 1648.6 1083 1648.9 1083.5 1649.2 1084 1649.6 1084.5 1649.9 1085 1650.2 1085.5 1650.5 1086 1650.9 1086.5 1651.2 1087 1651.5 1087.5 1651.8 1088 1652.1 1088.5 1652.4 1089 1652.7 1089.5 1653 1090 1653.3 1090.5 1653.6 1091 1653.9 1091.5 1654.2 1092 1654.5 1092.5 1654.7 1093 1655 1093.5 1655.3 1094 1655.5 1094.5 1655.8 1095 1656 1095.5 1656.2 1096 1656.5 1096.5 1656.7 1097 1656.9 1097.5 1657.1 1098 1657.3 1098.5 1657.5 1099 1657.7 1099.5 1657.8 1100 1658 1100.5 1658.1 1101 1658.3 1101.5 1658.4 1102 1658.5 1102.5 1658.6 1103 1658.7 1103.5 1658.8 1104 1658.9 1104.5 1659 1105 1659.1 1106 1659.1 1110 1659.1 1110.5 1659 1111 1658.9 1111.5 1658.9 1112 1658.8 1112.5 1658.7 1113 1658.6 1113.5 1658.5 1114 1658.4 1114.5 1658.3 1115 1658.2 1115.5 1658.1 1116 1657.9 1116.5 1657.8 1117 1657.7 1117.5 1657.5 1118 1657.4 1118.5 1657.2 1119 1657 1119.5 1656.9 1120 1656.7 1120.5 1656.5 1121 1656.3 1121.5 1656.1 1122 1655.9 1122.5 1655.7 1123 1655.5 1123.5 1655.3 1124 1655.1 1124.5 1654.9 1125 1654.7 1125.5 1654.5 1126 1654.2 1126.5 1654 1127 1653.8 1127.5 1653.6 1128 1653.3 1128.5 1653.1 1129 1652.8 1129.5 1652.6 1130 1652.4 1130.5 1652.1 1131 1651.9 1131.5 1651.6 1132 1651.4 1132.5 1651.1 1133 1650.9 1133.5 1650.6 1134 1650.4 1134.5 1650.1 1135 1649.9 1135.5 1649.6 1136 1649.4 1136.5 1649.1 1137 1648.9 1137.5 1648.6 1138 1648.4 1138.5 1648.1 1139 1647.9 1139.5 1647.7 1140 1647.4 1140.5 1647.2 1141 1646.9 1141.5 1646.7 1142 1646.5 1142.5 1646.2 1143 1646 1143.5 1645.8 1144 1645.6 1144.5 1645.4 1145 1645.1 1145.5 1644.9 1146 1644.7 1146.5 1644.5 1147 1644.3 1147.5 1644.1 1148 1643.9 1148.5 1643.7 1149 1643.6 1149.5 1643.4 1150 1643.2 1150.5 1643 1151 1642.9 1151.5 1642.7 1152 1642.6 1152.5 1642.4 1153 1642.3 1153.5 1642.2 1154 1642 1154.5 1641.9 1155 1641.8 1155.5 1641.7 1156 1641.6 1156.5 1641.5 1157 1641.4 1157.5 1641.4 1158 1641.3 1158.5 1641.2 1159 1641.2 1160 1641.1 1161.5 1641 1164 1641.1 1165 1641.2 1166 1641.3 1166.5 1641.3 1167 1641.4 1167.5 1641.4 1168 1641.5 1168.5 1641.6 1169 1641.7 1169.5 1641.8 1170 1641.8 1170.5 1641.9 1171 1642 1171.5 1642.2 1172 1642.3 1172.5 1642.4 1173 1642.5 1173.5 1642.6 1174 1642.7 1174.5 1642.9 1175 1643 1175.5 1643.1 1176 1643.3 1176.5 1643.4 1177 1643.6 1177.5 1643.7 1178 1643.9 1178.5 1644 1179 1644.2 1179.5 1644.4 1180 1644.5 1180.5 1644.7 1181 1644.9 1181.5 1645 1182 1645.2 1182.5 1645.4 1183 1645.5 1183.5 1645.7 1184 1645.9 1184.5 1646.1 1185 1646.3 1185.5 1646.4 1186 1646.6 1186.5 1646.8 1187 1647 1187.5 1647.2 1188 1647.4 1188.5 1647.5 1189 1647.7 1189.5 1647.9 1190 1648.1 1190.5 1648.3 1191 1648.5 1191.5 1648.6 1192 1648.8 1192.5 1649 1193 1649.2 1193.5 1649.4 1194 1649.6 1194.5 1649.7 1195 1649.9 1195.5 1650.1 1196 1650.3 1196.5 1650.4 1197 1650.6 1197.5 1650.8 1198 1650.9 1198.5 1651.1 1199 1651.3 1199.5 1651.4 1200 1651.6 1200.5 1651.7 1201 1651.9 1201.5 1652 1202 1652.2 1202.5 1652.3 1203 1652.5 1203.5 1652.6 1204 1652.7 1204.5 1652.8 1205 1653 1205.5 1653.1 1206 1653.2 1206.5 1653.3 1207 1653.4 1207.5 1653.5 1208 1653.6 1208.5 1653.7 1209 1653.8 1209.5 1653.9 1210 1654 1210.5 1654 1211 1654.1 1211.5 1654.2 1212 1654.2 1212.5 1654.3 1213.5 1654.4 1214.5 1654.4 1219.5 1654.4 1220.5 1654.3 1221.5 1654.2 1222 1654.2 1222.5 1654.1 1223 1654 1223.5 1654 1224 1653.9 1224.5 1653.9 1225 1653.8 1225.5 1653.7 1226 1653.6 1226.5 1653.5 1227 1653.5 1227.5 1653.4 1228 1653.3 1228.5 1653.2 1229 1653.1 1229.5 1653 1230 1652.9 1230.5 1652.8 1231 1652.7 1231.5 1652.6 1232 1652.5 1232.5 1652.4 1233 1652.2 1233.5 1652.1 1234 1652 1234.5 1651.9 1235 1651.8 1235.5 1651.6 1236 1651.5 1236.5 1651.4 1237 1651.3 1237.5 1651.1 1238 1651 1238.5 1650.9 1239 1650.7 1239.5 1650.6 1240 1650.5 1240.5 1650.3 1241 1650.2 1241.5 1650.1 1242 1649.9 1242.5 1649.8 1243 1649.6 1243.5 1649.5 1244 1649.4 1244.5 1649.2 1245 1649.1 1245.5 1649 1246 1648.8 1246.5 1648.7 1247 1648.6 1247.5 1648.4 1248 1648.3 1248.5 1648.2 1249 1648 1249.5 1647.9 1250 1647.8 1250.5 1647.6 1251 1647.5 1251.5 1647.4 1252 1647.3 1252.5 1647.1 1253 1647 1253.5 1646.9 1254 1646.8 1254.5 1646.7 1255 1646.5 1255.5 1646.4 1256 1646.3 1256.5 1646.2 1257 1646.1 1257.5 1646 1258 1645.9 1258.5 1645.8 1259 1645.7 1259.5 1645.6 1260 1645.5 1260.5 1645.5 1261 1645.4 1261.5 1645.3 1262 1645.2 1262.5 1645.1 1263 1645.1 1263.5 1645 1264 1644.9 1264.5 1644.9 1265 1644.8 1265.5 1644.8 1266.5 1644.7 1267.5 1644.6 1268.5 1644.6 1270.5 1644.5 1273.5 1644.6 1275 1644.6 1276 1644.7 1277 1644.8 1278 1644.9 1278.5 1644.9 1279 1645 1279.5 1645 1280 1645.1 1280.5 1645.1 1281 1645.2 1281.5 1645.3 1282 1645.3 1282.5 1645.4 1283 1645.5 1283.5 1645.5 1284 1645.6 1284.5 1645.7 1285 1645.8 1285.5 1645.8 1286 1645.9 1286.5 1646 1287 1646.1 1287.5 1646.2 1288 1646.3 1288.5 1646.3 1289 1646.4 1289.5 1646.5 1290 1646.6 1290.5 1646.7 1291 1646.8 1291.5 1646.9 1292 1647 1292.5 1647.1 1293 1647.2 1293.5 1647.3 1294 1647.4 1294.5 1647.5 1295 1647.6 1295.5 1647.7 1296 1647.8 1296.5 1647.9 1297 1648 1297.5 1648.1 1298 1648.2 1298.5 1648.3 1299 1648.4 1299.5 1648.5 1300 1648.6 1300.5 1648.7 1301 1648.8 1301.5 1648.9 1302 1649 1302.5 1649.1 1303 1649.2 1303.5 1649.3 1304 1649.4 1304.5 1649.5 1305 1649.6 1305.5 1649.7 1306 1649.8 1306.5 1649.9 1307 1649.9 1307.5 1650 1308 1650.1 1308.5 1650.2 1309 1650.3 1309.5 1650.4 1310 1650.5 1310.5 1650.5 1311 1650.6 1311.5 1650.7 1312 1650.8 1312.5 1650.9 1313 1650.9 1313.5 1651 1314 1651.1 1314.5 1651.1 1315 1651.2 1315.5 1651.3 1316 1651.3 1316.5 1651.4 1317 1651.4 1317.5 1651.5 1318.5 1651.6 1319.5 1651.6 1320.5 1651.7 1321.5 1651.8 1323 1651.8 1329.5 1651.8 1331 1651.7 1332 1651.7 1333 1651.6 1334 1651.5 1335 1651.4 1336 1651.3 1337 1651.2 1337.5 1651.2 1338 1651.1 1338.5 1651.1 1339 1651 1339.5 1651 1340 1650.9 1340.5 1650.8 1341 1650.8 1341.5 1650.7 1342 1650.7 1342.5 1650.6 1343 1650.5 1343.5 1650.5 1344 1650.4 1344.5 1650.3 1345 1650.3 1345.5 1650.2 1346 1650.1 1346.5 1650 1347 1650 1347.5 1649.9 1348 1649.8 1348.5 1649.8 1349 1649.7 1349.5 1649.6 1350 1649.5 1350.5 1649.5 1351 1649.4 1351.5 1649.3 1352 1649.2 1352.5 1649.2 1353 1649.1 1353.5 1649 1354 1648.9 1354.5 1648.9 1355 1648.8 1355.5 1648.7 1356 1648.6 1356.5 1648.6 1357 1648.5 1357.5 1648.4 1358 1648.4 1358.5 1648.3 1359 1648.2 1359.5 1648.1 1360 1648.1 1360.5 1648 1361 1647.9 1361.5 1647.9 1362 1647.8 1362.5 1647.7 1363 1647.7 1363.5 1647.6 1364 1647.5 1364.5 1647.5 1365 1647.4 1365.5 1647.4 1366 1647.3 1366.5 1647.2 1367 1647.2 1367.5 1647.1 1368 1647.1 1368.5 1647 1369.5 1646.9 1370.5 1646.9 1371.5 1646.8 1372.5 1646.7 1373.5 1646.6 1374.5 1646.6 1376 1646.5 1378 1646.5 1384 1646.5 1385.5 1646.6 1387 1646.6 1388 1646.7 1389 1646.7 1390 1646.8 1391 1646.9 1392 1646.9 1393 1647 1394 1647.1 1395 1647.2 1396 1647.3 1397 1647.4 1398 1647.5 1398.5 1647.5 1399 1647.6 1399.5 1647.6 1400 1647.7 1400.5 1647.7 1401 1647.8 1401.5 1647.8 1402 1647.9 1402.5 1647.9 1403 1648 1403.5 1648.1 1404 1648.1 1404.5 1648.2 1405 1648.2 1405.5 1648.3 1406 1648.3 1406.5 1648.4 1407 1648.4 1407.5 1648.5 1408 1648.6 1408.5 1648.6 1409 1648.7 1409.5 1648.7 1410 1648.8 1410.5 1648.8 1411 1648.9 1411.5 1648.9 1412 1649 1412.5 1649 1413 1649.1 1413.5 1649.2 1414 1649.2 1414.5 1649.3 1415 1649.3 1415.5 1649.4 1416.5 1649.5 1417.5 1649.6 1418.5 1649.6 1419.5 1649.7 1420.5 1649.8 1421.5 1649.9 1422.5 1650 1423.5 1650.1 1424.5 1650.1 1425.5 1650.2 1426.5 1650.2 1427.5 1650.3 1429 1650.4 1430.5 1650.4 1433.5 1650.5 1439 1650.4 1441 1650.3 1442.5 1650.3 1444 1650.2 1445.5 1650.1 1446.5 1650.1 1447.5 1650 1448.5 1650 1449.5 1649.9 1450.5 1649.8 1451.5 1649.8 1452.5 1649.7 1453.5 1649.6 1454.5 1649.5 1455.5 1649.5 1456.5 1649.4 1457.5 1649.3 1458.5 1649.2 1459.5 1649.1 1460.5 1649.1 1461.5 1649 1462.5 1648.9 1463.5 1648.8 1464.5 1648.7 1465.5 1648.7 1466.5 1648.6 1467.5 1648.5 1468.5 1648.4 1469.5 1648.3 1470.5 1648.3 1471.5 1648.2 1472.5 1648.1 1473.5 1648.1 1474.5 1648 1475.5 1647.9 1476.5 1647.9 1477.5 1647.8 1478.5 1647.8 1480 1647.7 1481.5 1647.6 1483 1647.6 1485 1647.5 1495.5 1647.6 1497.5 1647.6 1499 1647.7 1500.5 1647.7 1502 1647.8 1503.5 1647.9 1505 1648 1506 1648 1507 1648.1 1508 1648.1 1509 1648.2 1510 1648.2 1511 1648.3 1512 1648.3 1513 1648.4 1514 1648.5 1515 1648.5 1516 1648.6 1517 1648.6 1518 1648.7 1519 1648.8 1520 1648.8 1521 1648.9 1522 1648.9 1523 1649 1524 1649.1 1525 1649.1 1526 1649.2 1527 1649.2 1528.5 1649.3 1530 1649.4 1531.5 1649.4 1533 1649.5 1534.5 1649.5 1536.5 1649.6 1539 1649.6 1551.5 1649.6 1553.5 1649.5 1555.5 1649.5 1557.5 1649.4 1559 1649.4 1560.5 1649.3 1562 1649.2 1563.5 1649.2 1565 1649.1 1566.5 1649.1 1568 1649 1569.5 1648.9 1571 1648.9 1572.5 1648.8 1574 1648.7 1575.5 1648.7 1577 1648.6 1578.5 1648.5 1580 1648.5 1581.5 1648.4 1583 1648.4 1584.5 1648.3 1586.5 1648.2 1588.5 1648.2 1591 1648.1 1594.5 1648.1 1606 1648.1 1609 1648.2 1611.5 1648.2 1613.5 1648.3 1615.5 1648.4 1617.5 1648.4 1619.5 1648.5 1621.5 1648.5 1623.5 1648.6 1625.5 1648.7 1627.5 1648.7 1629.5 1648.8 1631.5 1648.9 1633.5 1648.9 1635.5 1649 1637.5 1649 1639.5 1649.1 1642 1649.2 1645 1649.2 1650 1649.3 1661 1649.2 1664.5 1649.1 1667.5 1649.1 1670 1649 1672.5 1649 1675 1648.9 1677.5 1648.9 1680 1648.8 1682.5 1648.7 1685 1648.7 1687.5 1648.6 1690 1648.6 1692.5 1648.5 1695.5 1648.5 1699.5 1648.4 1724.5 1648.5 1730 1648.5 1735 1648.6 1740 1648.6 1745.5 1648.7 1752.5 1648.7 2023 1648.8" stroke="#8B2A90" stroke-dasharray="18.2 14.8"/>
</g>
<path d="M1643 1517.4H1776" stroke="#7F2CA4" stroke-width="4.8"/>
<text x="1784.7" y="1540.2" font-size="75.5">0.1 pu</text>
<path d="M1643 1602.4H1776" stroke="#FF0000" stroke-width="4.8" stroke-dasharray="9 3.9"/>
<text x="1790" y="1625.6" font-size="75.5">0.2 pu</text>
<path d="M1643 1688.4H1776" stroke="#FF7300" stroke-width="4.8" stroke-dasharray="33.7 16.4 5.8 16"/>
<text x="1790" y="1711.5" font-size="75.5">0.3 pu</text>
<path d="M1643 1774.4H1779" stroke="#7F2CA4" stroke-width="4.8" stroke-dasharray="33.7 16.3"/>
<text x="1793.6" y="1797.7" font-size="75.5">0.4 pu</text>
<text x="1081.1" y="2588.8" font-size="77" fill="#000">Time/s</text>
<text x="1025.2" y="2700" font-size="87">(<tspan font-weight="bold">f</tspan>)</text>
<text transform="translate(122.7 2155.2) rotate(-90)" font-size="83">Δ</text>
<text transform="translate(122.7 2098.4) rotate(-90) scale(0.93 1)" font-size="81" font-style="italic">P</text>
<text transform="translate(143.8 2067) rotate(-90)" font-size="50"><tspan font-style="italic">tieAC</tspan>13</text>
<text transform="translate(141.8 1891) rotate(-90)" font-size="74.5">/pu</text>
<text x="191.1" y="2786.1" font-size="77" fill="#404040" transform="matrix(0.966 0 0 1 9.4 0)">0.015</text>
<text x="226.6" y="2954.2" font-size="77" fill="#404040" transform="matrix(0.966 0 0 1 10 0)">0.01</text>
<text x="191.1" y="3121.5" font-size="77" fill="#404040" transform="matrix(0.966 0 0 1 9.4 0)">0.005</text>
<text x="316.6" y="3288.7" font-size="77" fill="#404040" transform="matrix(0.966 0 0 1 11.4 0)">0</text>
<text x="145.2" y="3458.8" font-size="77" fill="#404040" transform="matrix(0.966 0 0 1 8.6 0)">−0.005</text>
<text x="186.5" y="3625.7" font-size="77" fill="#404040" transform="matrix(0.966 0 0 1 9.4 0)">−0.01</text>
<text x="145.2" y="3792.9" font-size="77" fill="#404040" transform="matrix(0.966 0 0 1 8.6 0)">−0.015</text>
<text x="355.2" y="3855.5" font-size="77" fill="#404040">0</text>
<text x="634.3" y="3855.8" font-size="77" fill="#404040">5</text>
<text x="900.6" y="3855.8" font-size="77" fill="#404040">10</text>
<text x="1179.2" y="3856.2" font-size="77" fill="#404040">15</text>
<text x="1458.1" y="3855.5" font-size="77" fill="#404040">20</text>
<text x="1738" y="3855.8" font-size="77" fill="#404040">25</text>
<text x="2019.3" y="3855.5" font-size="77" fill="#404040">30</text>
<rect x="373" y="2761" width="1680" height="1004.4000000000001" fill="none" stroke="#1a1a1a" stroke-width="2"/>
<path d="M653 3765.4V3748.4M653 2761V2778M933 3765.4V3748.4M933 2761V2778M1213 3765.4V3748.4M1213 2761V2778M1493 3765.4V3748.4M1493 2761V2778M1773 3765.4V3748.4M1773 2761V2778M373 2928.4H390M2053 2928.4H2036M373 3095.8H390M2053 3095.8H2036M373 3263.2H390M2053 3263.2H2036M373 3430.6H390M2053 3430.6H2036M373 3598H390M2053 3598H2036" stroke="#1a1a1a" stroke-width="2" fill="none"/>
<clipPath id="cg"><rect x="370.5" y="2758" width="1685" height="1010.4000000000001"/></clipPath>
<g clip-path="url(#cg)" fill="none" stroke-width="4.3" stroke-linejoin="round" stroke-linecap="round">
<path d="M373 3263 657.5 3263 658 3263.2 658.5 3263.7 659 3264.4 659.5 3265.4 660 3266.7 660.5 3268.2 661 3269.9 661.5 3271.9 662 3274.1 662.5 3276.4 663 3279 663.5 3281.7 664 3284.6 664.5 3287.7 665 3290.9 665.5 3294.3 666 3297.8 666.5 3301.4 667 3305.1 667.5 3308.9 668 3312.8 668.5 3316.9 669 3320.9 669.5 3325.1 670 3329.3 670.5 3333.5 671 3337.8 671.5 3342.1 672 3346.4 672.5 3350.7 673 3355 673.5 3359.3 674 3363.5 674.5 3367.8 675 3372 675.5 3376.1 676 3380.2 676.5 3384.1 677 3388 677.5 3391.9 678 3395.6 678.5 3399.2 679 3402.6 679.5 3406 680 3409.1 680.5 3412.2 681 3415.1 681.5 3417.8 682 3420.3 682.5 3422.6 683 3424.7 683.5 3426.6 684 3428.3 684.5 3429.8 685 3431 685.5 3431.9 686 3432.6 686.5 3433.1 687 3433.2 687.5 3433.1 688 3432.9 688.5 3432.6 689 3432.1 689.5 3431.4 690 3430.7 690.5 3429.8 691 3428.7 691.5 3427.6 692 3426.3 692.5 3424.9 693 3423.4 693.5 3421.8 694 3420 694.5 3418.2 695 3416.2 695.5 3414.1 696 3412 696.5 3409.7 697 3407.3 697.5 3404.9 698 3402.3 698.5 3399.7 699 3396.9 699.5 3394.1 700 3391.2 700.5 3388.2 701 3385.2 701.5 3382 702 3378.8 702.5 3375.5 703 3372.2 703.5 3368.8 704 3365.3 704.5 3361.8 705 3358.2 705.5 3354.6 706 3350.9 706.5 3347.1 707 3343.3 707.5 3339.5 708 3335.6 708.5 3331.7 709 3327.8 709.5 3323.8 710 3319.8 710.5 3315.7 711 3311.7 711.5 3307.6 712 3303.4 712.5 3299.3 713 3295.2 713.5 3291 714 3286.8 714.5 3282.6 715 3278.5 715.5 3274.3 716 3270.1 716.5 3265.9 717 3261.7 717.5 3257.5 718 3253.3 718.5 3249.2 719 3245 719.5 3240.9 720 3236.8 720.5 3232.7 721 3228.6 721.5 3224.6 722 3220.6 722.5 3216.6 723 3212.7 723.5 3208.8 724 3204.9 724.5 3201.1 725 3197.4 725.5 3193.6 726 3190 726.5 3186.3 727 3182.8 727.5 3179.3 728 3175.8 728.5 3172.4 729 3169.1 729.5 3165.9 730 3162.7 730.5 3159.6 731 3156.6 731.5 3153.6 732 3150.8 732.5 3148 733 3145.3 733.5 3142.7 734 3140.1 734.5 3137.7 735 3135.4 735.5 3133.1 736 3131 736.5 3129 737 3127.1 737.5 3125.3 738 3123.6 738.5 3122 739 3120.5 739.5 3119.2 740 3117.9 740.5 3116.8 741 3115.9 741.5 3115 742 3114.3 742.5 3113.7 743 3113.3 743.5 3113 744 3112.8 744.5 3112.8 745 3112.9 745.5 3113.1 746 3113.4 746.5 3113.8 747 3114.3 747.5 3114.9 748 3115.6 748.5 3116.4 749 3117.3 749.5 3118.3 750 3119.3 750.5 3120.5 751 3121.7 751.5 3123 752 3124.4 752.5 3125.9 753 3127.4 753.5 3129.1 754 3130.8 754.5 3132.5 755 3134.4 755.5 3136.3 756 3138.2 756.5 3140.3 757 3142.4 757.5 3144.5 758 3146.7 758.5 3149 759 3151.3 759.5 3153.7 760 3156.1 760.5 3158.5 761 3161 761.5 3163.6 762 3166.2 762.5 3168.8 763 3171.5 763.5 3174.2 764 3176.9 764.5 3179.7 765 3182.5 765.5 3185.4 766 3188.2 766.5 3191.1 767 3194 767.5 3196.9 768 3199.9 768.5 3202.8 769 3205.8 769.5 3208.8 770 3211.8 770.5 3214.8 771 3217.8 771.5 3220.9 772 3223.9 772.5 3226.9 773 3229.9 773.5 3233 774 3236 774.5 3239 775 3242 775.5 3245 776 3248 776.5 3250.9 777 3253.9 777.5 3256.8 778 3259.7 778.5 3262.6 779 3265.5 779.5 3268.3 780 3271.2 780.5 3273.9 781 3276.7 781.5 3279.4 782 3282.1 782.5 3284.8 783 3287.4 783.5 3289.9 784 3292.5 784.5 3294.9 785 3297.4 785.5 3299.8 786 3302.1 786.5 3304.4 787 3306.6 787.5 3308.8 788 3310.9 788.5 3313 789 3315 789.5 3316.9 790 3318.7 790.5 3320.5 791 3322.3 791.5 3323.9 792 3325.5 792.5 3327 793 3328.4 793.5 3329.8 794 3331 794.5 3332.2 795 3333.3 795.5 3334.3 796 3335.2 796.5 3336.1 797 3336.8 797.5 3337.4 798 3338 798.5 3338.4 799 3338.8 799.5 3339 800 3339.2 800.5 3339.2 801 3339.1 801.5 3339 802 3338.8 802.5 3338.5 803 3338.2 803.5 3337.8 804 3337.3 804.5 3336.7 805 3336.1 805.5 3335.4 806 3334.6 806.5 3333.8 807 3332.9 807.5 3332 808 3331 808.5 3329.9 809 3328.8 809.5 3327.7 810 3326.5 810.5 3325.2 811 3323.9 811.5 3322.5 812 3321.1 812.5 3319.7 813 3318.2 813.5 3316.7 814 3315.1 814.5 3313.5 815 3311.8 815.5 3310.2 816 3308.4 816.5 3306.7 817 3304.9 817.5 3303.1 818 3301.3 818.5 3299.4 819 3297.5 819.5 3295.6 820 3293.6 820.5 3291.7 821 3289.7 821.5 3287.7 822 3285.7 822.5 3283.7 823 3281.6 823.5 3279.6 824 3277.5 824.5 3275.4 825 3273.4 825.5 3271.3 826 3269.2 826.5 3267.1 827 3265 827.5 3262.9 828 3260.8 828.5 3258.7 829 3256.6 829.5 3254.5 830 3252.4 830.5 3250.4 831 3248.3 831.5 3246.3 832 3244.2 832.5 3242.2 833 3240.2 833.5 3238.2 834 3236.2 834.5 3234.3 835 3232.3 835.5 3230.4 836 3228.6 836.5 3226.7 837 3224.9 837.5 3223.1 838 3221.3 838.5 3219.6 839 3217.9 839.5 3216.2 840 3214.6 840.5 3213 841 3211.4 841.5 3209.9 842 3208.4 842.5 3207 843 3205.6 843.5 3204.3 844 3203 844.5 3201.7 845 3200.6 845.5 3199.4 846 3198.3 846.5 3197.3 847 3196.3 847.5 3195.4 848 3194.6 848.5 3193.8 849 3193 849.5 3192.4 850 3191.8 850.5 3191.2 851 3190.8 851.5 3190.4 852 3190.1 852.5 3189.8 853 3189.6 853.5 3189.5 854.5 3189.5 855 3189.6 855.5 3189.8 856 3190 856.5 3190.3 857 3190.6 857.5 3191 858 3191.4 858.5 3191.9 859 3192.4 859.5 3192.9 860 3193.6 860.5 3194.2 861 3194.9 861.5 3195.7 862 3196.5 862.5 3197.3 863 3198.2 863.5 3199.1 864 3200.1 864.5 3201.1 865 3202.1 865.5 3203.1 866 3204.2 866.5 3205.4 867 3206.5 867.5 3207.7 868 3209 868.5 3210.2 869 3211.5 869.5 3212.8 870 3214.1 870.5 3215.5 871 3216.9 871.5 3218.3 872 3219.7 872.5 3221.1 873 3222.6 873.5 3224.1 874 3225.6 874.5 3227.1 875 3228.6 875.5 3230.1 876 3231.7 876.5 3233.3 877 3234.8 877.5 3236.4 878 3238 878.5 3239.6 879 3241.2 879.5 3242.8 880 3244.5 880.5 3246.1 881 3247.7 881.5 3249.3 882 3250.9 882.5 3252.6 883 3254.2 883.5 3255.8 884 3257.4 884.5 3259 885 3260.6 885.5 3262.2 886 3263.8 886.5 3265.4 887 3266.9 887.5 3268.5 888 3270 888.5 3271.5 889 3273 889.5 3274.5 890 3276 890.5 3277.5 891 3278.9 891.5 3280.3 892 3281.7 892.5 3283.1 893 3284.4 893.5 3285.7 894 3287 894.5 3288.3 895 3289.5 895.5 3290.8 896 3291.9 896.5 3293.1 897 3294.2 897.5 3295.3 898 3296.3 898.5 3297.3 899 3298.3 899.5 3299.3 900 3300.2 900.5 3301 901 3301.8 901.5 3302.6 902 3303.4 902.5 3304 903 3304.7 903.5 3305.3 904 3305.8 904.5 3306.3 905 3306.8 905.5 3307.2 906 3307.5 906.5 3307.8 907 3308.1 907.5 3308.3 908 3308.4 908.5 3308.5 909.5 3308.5 910 3308.4 910.5 3308.3 911 3308.1 911.5 3307.9 912 3307.7 912.5 3307.5 913 3307.2 913.5 3306.8 914 3306.4 914.5 3306 915 3305.6 915.5 3305.1 916 3304.6 916.5 3304.1 917 3303.5 917.5 3302.9 918 3302.3 918.5 3301.6 919 3300.9 919.5 3300.2 920 3299.5 920.5 3298.7 921 3298 921.5 3297.2 922 3296.3 922.5 3295.5 923 3294.6 923.5 3293.7 924 3292.8 924.5 3291.9 925 3290.9 925.5 3289.9 926 3289 926.5 3288 927 3286.9 927.5 3285.9 928 3284.9 928.5 3283.8 929 3282.7 929.5 3281.7 930 3280.6 930.5 3279.5 931 3278.4 931.5 3277.3 932 3276.1 932.5 3275 933 3273.9 933.5 3272.7 934 3271.6 934.5 3270.4 935 3269.3 935.5 3268.1 936 3267 936.5 3265.8 937 3264.7 937.5 3263.5 938 3262.4 938.5 3261.2 939 3260.1 939.5 3258.9 940 3257.8 940.5 3256.7 941 3255.5 941.5 3254.4 942 3253.3 942.5 3252.2 943 3251.1 943.5 3250.1 944 3249 944.5 3247.9 945 3246.9 945.5 3245.9 946 3244.8 946.5 3243.8 947 3242.9 947.5 3241.9 948 3240.9 948.5 3240 949 3239.1 949.5 3238.2 950 3237.3 950.5 3236.5 951 3235.6 951.5 3234.8 952 3234.1 952.5 3233.3 953 3232.6 953.5 3231.9 954 3231.2 954.5 3230.5 955 3229.9 955.5 3229.3 956 3228.7 956.5 3228.2 957 3227.7 957.5 3227.2 958 3226.8 958.5 3226.4 959 3226 959.5 3225.6 960 3225.3 960.5 3225.1 961 3224.9 961.5 3224.7 962 3224.5 962.5 3224.4 963 3224.3 964.5 3224.4 965 3224.4 965.5 3224.5 966 3224.7 966.5 3224.8 967 3225 967.5 3225.2 968 3225.5 968.5 3225.8 969 3226.1 969.5 3226.4 970 3226.7 970.5 3227.1 971 3227.5 971.5 3227.9 972 3228.4 972.5 3228.9 973 3229.4 973.5 3229.9 974 3230.4 974.5 3231 975 3231.5 975.5 3232.1 976 3232.7 976.5 3233.4 977 3234 977.5 3234.7 978 3235.4 978.5 3236 979 3236.8 979.5 3237.5 980 3238.2 980.5 3239 981 3239.7 981.5 3240.5 982 3241.3 982.5 3242.1 983 3242.9 983.5 3243.7 984 3244.5 984.5 3245.4 985 3246.2 985.5 3247 986 3247.9 986.5 3248.8 987 3249.6 987.5 3250.5 988 3251.4 988.5 3252.2 989 3253.1 989.5 3254 990 3254.9 990.5 3255.8 991 3256.7 991.5 3257.6 992 3258.4 992.5 3259.3 993 3260.2 993.5 3261.1 994 3262 994.5 3262.9 995 3263.7 995.5 3264.6 996 3265.5 996.5 3266.3 997 3267.2 997.5 3268 998 3268.8 998.5 3269.7 999 3270.5 999.5 3271.3 1000 3272.1 1000.5 3272.9 1001 3273.7 1001.5 3274.4 1002 3275.2 1002.5 3275.9 1003 3276.7 1003.5 3277.4 1004 3278.1 1004.5 3278.8 1005 3279.4 1005.5 3280.1 1006 3280.7 1006.5 3281.3 1007 3281.9 1007.5 3282.5 1008 3283.1 1008.5 3283.6 1009 3284.1 1009.5 3284.6 1010 3285.1 1010.5 3285.6 1011 3286 1011.5 3286.4 1012 3286.8 1012.5 3287.2 1013 3287.5 1013.5 3287.8 1014 3288.1 1014.5 3288.4 1015 3288.6 1015.5 3288.8 1016 3289 1016.5 3289.1 1017 3289.2 1017.5 3289.3 1018 3289.4 1019.5 3289.4 1020 3289.3 1020.5 3289.2 1021 3289.1 1021.5 3289 1022 3288.8 1022.5 3288.7 1023 3288.5 1023.5 3288.3 1024 3288 1024.5 3287.8 1025 3287.5 1025.5 3287.2 1026 3286.9 1026.5 3286.6 1027 3286.3 1027.5 3285.9 1028 3285.5 1028.5 3285.1 1029 3284.7 1029.5 3284.3 1030 3283.9 1030.5 3283.4 1031 3282.9 1031.5 3282.5 1032 3282 1032.5 3281.5 1033 3280.9 1033.5 3280.4 1034 3279.9 1034.5 3279.3 1035 3278.8 1035.5 3278.2 1036 3277.6 1036.5 3277 1037 3276.4 1037.5 3275.8 1038 3275.2 1038.5 3274.6 1039 3274 1039.5 3273.4 1040 3272.7 1040.5 3272.1 1041 3271.4 1041.5 3270.8 1042 3270.2 1042.5 3269.5 1043 3268.8 1043.5 3268.2 1044 3267.5 1044.5 3266.9 1045 3266.2 1045.5 3265.6 1046 3264.9 1046.5 3264.2 1047 3263.6 1047.5 3262.9 1048 3262.3 1048.5 3261.6 1049 3261 1049.5 3260.3 1050 3259.7 1050.5 3259.1 1051 3258.4 1051.5 3257.8 1052 3257.2 1052.5 3256.6 1053 3256 1053.5 3255.4 1054 3254.8 1054.5 3254.2 1055 3253.6 1055.5 3253.1 1056 3252.5 1056.5 3252 1057 3251.5 1057.5 3250.9 1058 3250.4 1058.5 3249.9 1059 3249.5 1059.5 3249 1060 3248.5 1060.5 3248.1 1061 3247.7 1061.5 3247.3 1062 3246.9 1062.5 3246.5 1063 3246.1 1063.5 3245.8 1064 3245.4 1064.5 3245.1 1065 3244.8 1065.5 3244.6 1066 3244.3 1066.5 3244.1 1067 3243.9 1067.5 3243.7 1068 3243.5 1068.5 3243.3 1069 3243.2 1069.5 3243.1 1070 3243 1070.5 3242.9 1073 3243 1073.5 3243 1074 3243.1 1074.5 3243.2 1075 3243.3 1075.5 3243.4 1076 3243.6 1076.5 3243.7 1077 3243.9 1077.5 3244 1078 3244.2 1078.5 3244.4 1079 3244.6 1079.5 3244.9 1080 3245.1 1080.5 3245.4 1081 3245.6 1081.5 3245.9 1082 3246.2 1082.5 3246.5 1083 3246.8 1083.5 3247.1 1084 3247.4 1084.5 3247.8 1085 3248.1 1085.5 3248.5 1086 3248.8 1086.5 3249.2 1087 3249.6 1087.5 3250 1088 3250.4 1088.5 3250.8 1089 3251.2 1089.5 3251.6 1090 3252 1090.5 3252.4 1091 3252.8 1091.5 3253.3 1092 3253.7 1092.5 3254.1 1093 3254.6 1093.5 3255 1094 3255.5 1094.5 3256 1095 3256.4 1095.5 3256.9 1096 3257.3 1096.5 3257.8 1097 3258.3 1097.5 3258.7 1098 3259.2 1098.5 3259.7 1099 3260.2 1099.5 3260.6 1100 3261.1 1100.5 3261.6 1101 3262 1101.5 3262.5 1102 3263 1102.5 3263.4 1103 3263.9 1103.5 3264.3 1104 3264.8 1104.5 3265.3 1105 3265.7 1105.5 3266.2 1106 3266.6 1106.5 3267 1107 3267.5 1107.5 3267.9 1108 3268.3 1108.5 3268.7 1109 3269.1 1109.5 3269.5 1110 3269.9 1110.5 3270.3 1111 3270.7 1111.5 3271.1 1112 3271.5 1112.5 3271.8 1113 3272.2 1113.5 3272.5 1114 3272.9 1114.5 3273.2 1115 3273.5 1115.5 3273.8 1116 3274.1 1116.5 3274.4 1117 3274.7 1117.5 3274.9 1118 3275.2 1118.5 3275.4 1119 3275.7 1119.5 3275.9 1120 3276.1 1120.5 3276.3 1121 3276.4 1121.5 3276.6 1122 3276.7 1122.5 3276.9 1123 3277 1123.5 3277.1 1124 3277.2 1124.5 3277.3 1125 3277.3 1126 3277.4 1128 3277.3 1128.5 3277.3 1129 3277.2 1129.5 3277.2 1130 3277.1 1130.5 3277 1131 3276.9 1131.5 3276.8 1132 3276.6 1132.5 3276.5 1133 3276.3 1133.5 3276.2 1134 3276 1134.5 3275.8 1135 3275.6 1135.5 3275.4 1136 3275.2 1136.5 3275 1137 3274.7 1137.5 3274.5 1138 3274.3 1138.5 3274 1139 3273.7 1139.5 3273.5 1140 3273.2 1140.5 3272.9 1141 3272.6 1141.5 3272.3 1142 3272 1142.5 3271.7 1143 3271.4 1143.5 3271.1 1144 3270.8 1144.5 3270.4 1145 3270.1 1145.5 3269.8 1146 3269.4 1146.5 3269.1 1147 3268.7 1147.5 3268.4 1148 3268 1148.5 3267.7 1149 3267.3 1149.5 3267 1150 3266.6 1150.5 3266.2 1151 3265.9 1151.5 3265.5 1152 3265.1 1152.5 3264.8 1153 3264.4 1153.5 3264 1154 3263.6 1154.5 3263.3 1155 3262.9 1155.5 3262.5 1156 3262.2 1156.5 3261.8 1157 3261.4 1157.5 3261.1 1158 3260.7 1158.5 3260.4 1159 3260 1159.5 3259.7 1160 3259.3 1160.5 3259 1161 3258.6 1161.5 3258.3 1162 3258 1162.5 3257.6 1163 3257.3 1163.5 3257 1164 3256.7 1164.5 3256.4 1165 3256.1 1165.5 3255.8 1166 3255.5 1166.5 3255.2 1167 3254.9 1167.5 3254.7 1168 3254.4 1168.5 3254.1 1169 3253.9 1169.5 3253.7 1170 3253.4 1170.5 3253.2 1171 3253 1171.5 3252.8 1172 3252.6 1172.5 3252.4 1173 3252.2 1173.5 3252.1 1174 3251.9 1174.5 3251.8 1175 3251.6 1175.5 3251.5 1176 3251.4 1176.5 3251.3 1177 3251.2 1177.5 3251.2 1178 3251.1 1179 3251 1182.5 3251.1 1183 3251.2 1183.5 3251.2 1184 3251.3 1184.5 3251.3 1185 3251.4 1185.5 3251.5 1186 3251.6 1186.5 3251.7 1187 3251.8 1187.5 3251.9 1188 3252 1188.5 3252.2 1189 3252.3 1189.5 3252.4 1190 3252.6 1190.5 3252.7 1191 3252.9 1191.5 3253 1192 3253.2 1192.5 3253.4 1193 3253.6 1193.5 3253.7 1194 3253.9 1194.5 3254.1 1195 3254.3 1195.5 3254.5 1196 3254.7 1196.5 3254.9 1197 3255.2 1197.5 3255.4 1198 3255.6 1198.5 3255.8 1199 3256 1199.5 3256.3 1200 3256.5 1200.5 3256.7 1201 3257 1201.5 3257.2 1202 3257.5 1202.5 3257.7 1203 3258 1203.5 3258.2 1204 3258.5 1204.5 3258.7 1205 3259 1205.5 3259.2 1206 3259.5 1206.5 3259.8 1207 3260 1207.5 3260.3 1208 3260.5 1208.5 3260.8 1209 3261.1 1209.5 3261.3 1210 3261.6 1210.5 3261.9 1211 3262.1 1211.5 3262.4 1212 3262.7 1212.5 3262.9 1213 3263.2 1213.5 3263.4 1214 3263.7 1214.5 3264 1215 3264.2 1215.5 3264.5 1216 3264.7 1216.5 3265 1217 3265.2 1217.5 3265.5 1218 3265.7 1218.5 3266 1219 3266.2 1219.5 3266.4 1220 3266.7 1220.5 3266.9 1221 3267.1 1221.5 3267.4 1222 3267.6 1222.5 3267.8 1223 3268 1223.5 3268.2 1224 3268.4 1224.5 3268.6 1225 3268.8 1225.5 3269 1226 3269.2 1226.5 3269.4 1227 3269.6 1227.5 3269.8 1228 3269.9 1228.5 3270.1 1229 3270.2 1229.5 3270.4 1230 3270.5 1230.5 3270.7 1231 3270.8 1231.5 3270.9 1232 3271.1 1232.5 3271.2 1233 3271.3 1233.5 3271.4 1234 3271.5 1234.5 3271.6 1235 3271.6 1235.5 3271.7 1236 3271.8 1236.5 3271.8 1237.5 3271.9 1238.5 3272 1242 3271.9 1242.5 3271.9 1243 3271.8 1243.5 3271.7 1244 3271.7 1244.5 3271.6 1245 3271.5 1245.5 3271.4 1246 3271.3 1246.5 3271.2 1247 3271.1 1247.5 3271 1248 3270.9 1248.5 3270.7 1249 3270.6 1249.5 3270.5 1250 3270.3 1250.5 3270.2 1251 3270 1251.5 3269.8 1252 3269.7 1252.5 3269.5 1253 3269.3 1253.5 3269.1 1254 3269 1254.5 3268.8 1255 3268.6 1255.5 3268.4 1256 3268.2 1256.5 3268 1257 3267.8 1257.5 3267.6 1258 3267.4 1258.5 3267.2 1259 3266.9 1259.5 3266.7 1260 3266.5 1260.5 3266.3 1261 3266.1 1261.5 3265.9 1262 3265.6 1262.5 3265.4 1263 3265.2 1263.5 3265 1264 3264.7 1264.5 3264.5 1265 3264.3 1265.5 3264.1 1266 3263.8 1266.5 3263.6 1267 3263.4 1267.5 3263.2 1268 3262.9 1268.5 3262.7 1269 3262.5 1269.5 3262.3 1270 3262.1 1270.5 3261.9 1271 3261.7 1271.5 3261.5 1272 3261.3 1272.5 3261.1 1273 3260.9 1273.5 3260.7 1274 3260.5 1274.5 3260.3 1275 3260.1 1275.5 3259.9 1276 3259.7 1276.5 3259.6 1277 3259.4 1277.5 3259.2 1278 3259.1 1278.5 3258.9 1279 3258.8 1279.5 3258.6 1280 3258.5 1280.5 3258.4 1281 3258.2 1281.5 3258.1 1282 3258 1282.5 3257.9 1283 3257.8 1283.5 3257.7 1284 3257.6 1284.5 3257.5 1285 3257.5 1285.5 3257.4 1286 3257.4 1287 3257.3 1288 3257.2 1292 3257.3 1293 3257.4 1294 3257.5 1294.5 3257.5 1295 3257.6 1295.5 3257.6 1296 3257.7 1296.5 3257.7 1297 3257.8 1297.5 3257.9 1298 3258 1298.5 3258.1 1299 3258.1 1299.5 3258.2 1300 3258.3 1300.5 3258.4 1301 3258.5 1301.5 3258.6 1302 3258.7 1302.5 3258.8 1303 3258.9 1303.5 3259 1304 3259.2 1304.5 3259.3 1305 3259.4 1305.5 3259.5 1306 3259.6 1306.5 3259.8 1307 3259.9 1307.5 3260 1308 3260.2 1308.5 3260.3 1309 3260.4 1309.5 3260.6 1310 3260.7 1310.5 3260.8 1311 3261 1311.5 3261.1 1312 3261.3 1312.5 3261.4 1313 3261.5 1313.5 3261.7 1314 3261.8 1314.5 3262 1315 3262.1 1315.5 3262.3 1316 3262.4 1316.5 3262.5 1317 3262.7 1317.5 3262.8 1318 3263 1318.5 3263.1 1319 3263.3 1319.5 3263.4 1320 3263.5 1320.5 3263.7 1321 3263.8 1321.5 3264 1322 3264.1 1322.5 3264.2 1323 3264.4 1323.5 3264.5 1324 3264.6 1324.5 3264.8 1325 3264.9 1325.5 3265 1326 3265.2 1326.5 3265.3 1327 3265.4 1327.5 3265.5 1328 3265.6 1328.5 3265.8 1329 3265.9 1329.5 3266 1330 3266.1 1330.5 3266.2 1331 3266.3 1331.5 3266.4 1332 3266.5 1332.5 3266.6 1333 3266.7 1333.5 3266.7 1334 3266.8 1334.5 3266.9 1335 3267 1335.5 3267.1 1336 3267.1 1336.5 3267.2 1337 3267.2 1337.5 3267.3 1338 3267.3 1339 3267.4 1340 3267.5 1341 3267.6 1346.5 3267.5 1347.5 3267.4 1348.5 3267.4 1349.5 3267.3 1350 3267.2 1350.5 3267.2 1351 3267.1 1351.5 3267.1 1352 3267 1352.5 3266.9 1353 3266.9 1353.5 3266.8 1354 3266.7 1354.5 3266.6 1355 3266.6 1355.5 3266.5 1356 3266.4 1356.5 3266.3 1357 3266.2 1357.5 3266.2 1358 3266.1 1358.5 3266 1359 3265.9 1359.5 3265.8 1360 3265.7 1360.5 3265.6 1361 3265.5 1361.5 3265.4 1362 3265.3 1362.5 3265.2 1363 3265.1 1363.5 3265 1364 3264.9 1364.5 3264.8 1365 3264.6 1365.5 3264.5 1366 3264.4 1366.5 3264.3 1367 3264.2 1367.5 3264.1 1368 3264 1368.5 3263.9 1369 3263.8 1369.5 3263.6 1370 3263.5 1370.5 3263.4 1371 3263.3 1371.5 3263.2 1372 3263.1 1372.5 3263 1373 3262.9 1373.5 3262.7 1374 3262.6 1374.5 3262.5 1375 3262.4 1375.5 3262.3 1376 3262.2 1376.5 3262.1 1377 3262 1377.5 3261.9 1378 3261.8 1378.5 3261.7 1379 3261.6 1379.5 3261.5 1380 3261.4 1380.5 3261.3 1381 3261.2 1381.5 3261.1 1382 3261 1382.5 3260.9 1383 3260.8 1383.5 3260.7 1384 3260.7 1384.5 3260.6 1385 3260.5 1385.5 3260.4 1386 3260.3 1386.5 3260.3 1387 3260.2 1387.5 3260.1 1388 3260.1 1388.5 3260 1389 3260 1389.5 3259.9 1390 3259.9 1391 3259.8 1392 3259.7 1393 3259.6 1394 3259.6 1396 3259.5 1400 3259.6 1401.5 3259.6 1402.5 3259.7 1403.5 3259.8 1404.5 3259.8 1405.5 3259.9 1406.5 3260 1407 3260.1 1407.5 3260.1 1408 3260.2 1408.5 3260.2 1409 3260.3 1409.5 3260.3 1410 3260.4 1410.5 3260.5 1411 3260.5 1411.5 3260.6 1412 3260.7 1412.5 3260.7 1413 3260.8 1413.5 3260.9 1414 3261 1414.5 3261 1415 3261.1 1415.5 3261.2 1416 3261.3 1416.5 3261.3 1417 3261.4 1417.5 3261.5 1418 3261.6 1418.5 3261.7 1419 3261.7 1419.5 3261.8 1420 3261.9 1420.5 3262 1421 3262.1 1421.5 3262.1 1422 3262.2 1422.5 3262.3 1423 3262.4 1423.5 3262.5 1424 3262.6 1424.5 3262.7 1425 3262.7 1425.5 3262.8 1426 3262.9 1426.5 3263 1427 3263.1 1427.5 3263.2 1428 3263.2 1428.5 3263.3 1429 3263.4 1429.5 3263.5 1430 3263.6 1430.5 3263.6 1431 3263.7 1431.5 3263.8 1432 3263.9 1432.5 3264 1433 3264 1433.5 3264.1 1434 3264.2 1434.5 3264.2 1435 3264.3 1435.5 3264.4 1436 3264.5 1436.5 3264.5 1437 3264.6 1437.5 3264.7 1438 3264.7 1438.5 3264.8 1439 3264.8 1439.5 3264.9 1440 3264.9 1440.5 3265 1441 3265.1 1442 3265.2 1443 3265.2 1444 3265.3 1445 3265.4 1446 3265.5 1447 3265.5 1448.5 3265.6 1455.5 3265.5 1457 3265.4 1458 3265.4 1459 3265.3 1460 3265.3 1461 3265.2 1462 3265.1 1463 3265 1464 3264.9 1465 3264.9 1466 3264.8 1466.5 3264.7 1467 3264.7 1467.5 3264.6 1468 3264.5 1468.5 3264.5 1469 3264.4 1469.5 3264.4 1470 3264.3 1470.5 3264.3 1471 3264.2 1471.5 3264.2 1472 3264.1 1472.5 3264 1473 3264 1473.5 3263.9 1474 3263.9 1474.5 3263.8 1475 3263.7 1475.5 3263.7 1476 3263.6 1476.5 3263.5 1477 3263.5 1477.5 3263.4 1478 3263.4 1478.5 3263.3 1479 3263.2 1479.5 3263.2 1480 3263.1 1480.5 3263 1481 3263 1481.5 3262.9 1482 3262.9 1482.5 3262.8 1483 3262.7 1483.5 3262.7 1484 3262.6 1484.5 3262.6 1485 3262.5 1485.5 3262.4 1486 3262.4 1486.5 3262.3 1487 3262.3 1487.5 3262.2 1488 3262.2 1488.5 3262.1 1489 3262 1489.5 3262 1490 3261.9 1490.5 3261.9 1491.5 3261.8 1492.5 3261.7 1493.5 3261.6 1494.5 3261.5 1495.5 3261.5 1496.5 3261.4 1497.5 3261.3 1498.5 3261.3 1499.5 3261.2 1501 3261.1 1503 3261.1 1510.5 3261.1 1512 3261.2 1513.5 3261.2 1515 3261.3 1516 3261.4 1517 3261.4 1518 3261.5 1519 3261.6 1520 3261.6 1521 3261.7 1522 3261.8 1523 3261.9 1524 3262 1525 3262 1526 3262.1 1527 3262.2 1528 3262.3 1529 3262.4 1530 3262.5 1531 3262.6 1532 3262.7 1533 3262.8 1534 3262.9 1535 3263 1536 3263.1 1537 3263.2 1538 3263.2 1539 3263.3 1540 3263.4 1541 3263.5 1542 3263.6 1543 3263.7 1544 3263.8 1545 3263.8 1546 3263.9 1547 3264 1548 3264 1549 3264.1 1550 3264.2 1551 3264.2 1552.5 3264.3 1554 3264.3 1556 3264.4 1559.5 3264.5 1565 3264.4 1567 3264.3 1568.5 3264.3 1570 3264.2 1571.5 3264.2 1573 3264.1 1574 3264 1575 3264 1576 3263.9 1577 3263.9 1578 3263.8 1579 3263.7 1580 3263.7 1581 3263.6 1582 3263.5 1583 3263.5 1584 3263.4 1585 3263.3 1586 3263.3 1587 3263.2 1588 3263.1 1589 3263.1 1590 3263 1591 3262.9 1592 3262.9 1593 3262.8 1594 3262.7 1595 3262.7 1596 3262.6 1597 3262.5 1598 3262.5 1599 3262.4 1600 3262.4 1601 3262.3 1602 3262.2 1603.5 3262.2 1605 3262.1 1606.5 3262.1 1608.5 3262 1611 3261.9 1621.5 3262 1623.5 3262 1625.5 3262.1 1627 3262.2 1628.5 3262.2 1630 3262.3 1631.5 3262.3 1633 3262.4 1634.5 3262.5 1636 3262.6 1637 3262.6 1638 3262.7 1639 3262.7 1640 3262.8 1641 3262.8 1642 3262.9 1643 3262.9 1644 3263 1645 3263 1646 3263.1 1647 3263.1 1648 3263.2 1649.5 3263.3 1651 3263.3 1652.5 3263.4 1654 3263.5 1655.5 3263.5 1657 3263.6 1658.5 3263.6 1660.5 3263.7 1662.5 3263.7 1665.5 3263.8 1676.5 3263.7 1679 3263.7 1681 3263.6 1683 3263.6 1685 3263.5 1686.5 3263.5 1688 3263.4 1689.5 3263.4 1691 3263.3 1692.5 3263.3 1694 3263.2 1695.5 3263.1 1697 3263.1 1698.5 3263 1700 3263 1701.5 3262.9 1703 3262.8 1704.5 3262.8 1706 3262.7 1707.5 3262.7 1709.5 3262.6 1711.5 3262.6 1713.5 3262.5 1716 3262.5 1719.5 3262.4 1732.5 3262.5 1735.5 3262.5 1738 3262.6 1740.5 3262.6 1742.5 3262.7 1744.5 3262.7 1746.5 3262.8 1748.5 3262.9 1750.5 3262.9 1752.5 3263 1754.5 3263 1756.5 3263.1 1758.5 3263.1 1760.5 3263.2 1762.5 3263.3 1765 3263.3 1767.5 3263.4 1771 3263.4 1790 3263.4 1793.5 3263.3 1796.5 3263.2 1799 3263.2 1801.5 3263.1 1804 3263.1 1806.5 3263 1809 3263 1811.5 3262.9 1814 3262.9 1817 3262.8 1820 3262.8 1824 3262.7 1831 3262.7 1846 3262.7 1852.5 3262.8 1858 3262.8 1863.5 3262.9 1869.5 3262.9 1876.5 3263 2053 3263" stroke="#0072BD"/>
<path d="M373 3263 656 3263 656.5 3263.3 657 3264 657.5 3265.3 658 3267 658.5 3269.1 659 3271.7 659.5 3274.7 660 3278.1 660.5 3281.8 661 3286 661.5 3290.4 662 3295.2 662.5 3300.3 663 3305.7 663.5 3311.3 664 3317.2 664.5 3323.3 665 3329.6 665.5 3336.2 666 3342.9 666.5 3349.8 667 3356.8 667.5 3363.9 668 3371.2 668.5 3378.5 669 3385.9 669.5 3393.4 670 3400.9 670.5 3408.4 671 3415.9 671.5 3423.4 672 3430.9 672.5 3438.3 673 3445.6 673.5 3452.9 674 3460 674.5 3467 675 3473.9 675.5 3480.6 676 3487.2 676.5 3493.5 677 3499.6 677.5 3505.5 678 3511.1 678.5 3516.5 679 3521.6 679.5 3526.4 680 3530.8 680.5 3535 681 3538.7 681.5 3542.1 682 3545.1 682.5 3547.7 683 3549.8 683.5 3551.5 684 3552.8 684.5 3553.5 685 3553.8 685.5 3553.7 686 3553.3 686.5 3552.7 687 3551.9 687.5 3550.8 688 3549.5 688.5 3548 689 3546.3 689.5 3544.3 690 3542.2 690.5 3539.8 691 3537.2 691.5 3534.5 692 3531.5 692.5 3528.4 693 3525.1 693.5 3521.6 694 3517.9 694.5 3514.1 695 3510.1 695.5 3505.9 696 3501.6 696.5 3497.1 697 3492.5 697.5 3487.7 698 3482.8 698.5 3477.8 699 3472.6 699.5 3467.3 700 3461.9 700.5 3456.3 701 3450.6 701.5 3444.9 702 3439 702.5 3433 703 3426.9 703.5 3420.8 704 3414.5 704.5 3408.2 705 3401.7 705.5 3395.2 706 3388.7 706.5 3382 707 3375.3 707.5 3368.6 708 3361.7 708.5 3354.9 709 3348 709.5 3341 710 3334 710.5 3327 711 3319.9 711.5 3312.8 712 3305.7 712.5 3298.6 713 3291.5 713.5 3284.4 714 3277.2 714.5 3270.1 715 3262.9 715.5 3255.8 716 3248.7 716.5 3241.6 717 3234.5 717.5 3227.5 718 3220.5 718.5 3213.5 719 3206.6 719.5 3199.7 720 3192.8 720.5 3186 721 3179.3 721.5 3172.6 722 3166 722.5 3159.5 723 3153 723.5 3146.6 724 3140.3 724.5 3134.1 725 3127.9 725.5 3121.9 726 3115.9 726.5 3110.1 727 3104.4 727.5 3098.8 728 3093.3 728.5 3087.9 729 3082.6 729.5 3077.5 730 3072.5 730.5 3067.7 731 3062.9 731.5 3058.4 732 3054 732.5 3049.7 733 3045.6 733.5 3041.7 734 3037.9 734.5 3034.3 735 3030.9 735.5 3027.6 736 3024.6 736.5 3021.7 737 3019 737.5 3016.5 738 3014.3 738.5 3012.2 739 3010.3 739.5 3008.7 740 3007.2 740.5 3006 741 3005.1 741.5 3004.3 742 3003.8 742.5 3003.5 743 3003.5 743.5 3003.7 744 3004 744.5 3004.6 745 3005.3 745.5 3006.1 746 3007.2 746.5 3008.4 747 3009.8 747.5 3011.3 748 3013 748.5 3014.8 749 3016.8 749.5 3018.9 750 3021.2 750.5 3023.6 751 3026.2 751.5 3028.9 752 3031.7 752.5 3034.6 753 3037.7 753.5 3040.8 754 3044.1 754.5 3047.5 755 3051 755.5 3054.7 756 3058.4 756.5 3062.2 757 3066.1 757.5 3070.1 758 3074.2 758.5 3078.4 759 3082.7 759.5 3087 760 3091.4 760.5 3095.9 761 3100.5 761.5 3105.1 762 3109.8 762.5 3114.5 763 3119.3 763.5 3124.2 764 3129.1 764.5 3134 765 3139 765.5 3144.1 766 3149.1 766.5 3154.2 767 3159.4 767.5 3164.5 768 3169.7 768.5 3174.9 769 3180.1 769.5 3185.3 770 3190.5 770.5 3195.8 771 3201 771.5 3206.3 772 3211.5 772.5 3216.7 773 3221.9 773.5 3227.1 774 3232.3 774.5 3237.5 775 3242.6 775.5 3247.7 776 3252.8 776.5 3257.9 777 3262.9 777.5 3267.8 778 3272.7 778.5 3277.6 779 3282.4 779.5 3287.2 780 3291.9 780.5 3296.6 781 3301.2 781.5 3305.7 782 3310.1 782.5 3314.5 783 3318.8 783.5 3323 784 3327.1 784.5 3331.2 785 3335.1 785.5 3339 786 3342.8 786.5 3346.4 787 3350 787.5 3353.4 788 3356.8 788.5 3360 789 3363.1 789.5 3366.1 790 3368.9 790.5 3371.7 791 3374.3 791.5 3376.7 792 3379.1 792.5 3381.3 793 3383.3 793.5 3385.2 794 3387 794.5 3388.5 795 3390 795.5 3391.3 796 3392.4 796.5 3393.3 797 3394.1 797.5 3394.7 798 3395.1 798.5 3395.3 799 3395.4 799.5 3395.3 800 3395.1 800.5 3394.7 801 3394.3 801.5 3393.7 802 3392.9 802.5 3392.1 803 3391.1 803.5 3390.1 804 3388.9 804.5 3387.6 805 3386.2 805.5 3384.7 806 3383.1 806.5 3381.4 807 3379.7 807.5 3377.8 808 3375.8 808.5 3373.7 809 3371.6 809.5 3369.4 810 3367 810.5 3364.7 811 3362.2 811.5 3359.7 812 3357 812.5 3354.4 813 3351.6 813.5 3348.8 814 3345.9 814.5 3343 815 3340 815.5 3337 816 3333.9 816.5 3330.8 817 3327.6 817.5 3324.4 818 3321.1 818.5 3317.8 819 3314.4 819.5 3311.1 820 3307.6 820.5 3304.2 821 3300.7 821.5 3297.2 822 3293.7 822.5 3290.2 823 3286.7 823.5 3283.1 824 3279.5 824.5 3275.9 825 3272.4 825.5 3268.8 826 3265.2 826.5 3261.6 827 3258 827.5 3254.4 828 3250.8 828.5 3247.3 829 3243.7 829.5 3240.2 830 3236.7 830.5 3233.2 831 3229.7 831.5 3226.2 832 3222.8 832.5 3219.4 833 3216.1 833.5 3212.7 834 3209.5 834.5 3206.2 835 3203 835.5 3199.8 836 3196.7 836.5 3193.7 837 3190.7 837.5 3187.7 838 3184.8 838.5 3182 839 3179.2 839.5 3176.5 840 3173.9 840.5 3171.3 841 3168.8 841.5 3166.4 842 3164.1 842.5 3161.8 843 3159.6 843.5 3157.5 844 3155.5 844.5 3153.6 845 3151.8 845.5 3150 846 3148.4 846.5 3146.9 847 3145.4 847.5 3144.1 848 3142.9 848.5 3141.8 849 3140.8 849.5 3139.9 850 3139.1 850.5 3138.5 851 3137.9 851.5 3137.5 852 3137.3 852.5 3137.1 853 3137.1 853.5 3137.2 854 3137.4 854.5 3137.7 855 3138 855.5 3138.5 856 3139.1 856.5 3139.7 857 3140.4 857.5 3141.2 858 3142.1 858.5 3143.1 859 3144.2 859.5 3145.3 860 3146.5 860.5 3147.8 861 3149.1 861.5 3150.6 862 3152.1 862.5 3153.6 863 3155.2 863.5 3156.9 864 3158.7 864.5 3160.5 865 3162.3 865.5 3164.2 866 3166.2 866.5 3168.2 867 3170.3 867.5 3172.4 868 3174.6 868.5 3176.8 869 3179.1 869.5 3181.4 870 3183.7 870.5 3186.1 871 3188.5 871.5 3190.9 872 3193.4 872.5 3195.9 873 3198.4 873.5 3201 874 3203.6 874.5 3206.2 875 3208.8 875.5 3211.5 876 3214.2 876.5 3216.8 877 3219.5 877.5 3222.3 878 3225 878.5 3227.7 879 3230.5 879.5 3233.2 880 3235.9 880.5 3238.7 881 3241.5 881.5 3244.2 882 3246.9 882.5 3249.7 883 3252.4 883.5 3255.1 884 3257.9 884.5 3260.6 885 3263.2 885.5 3265.9 886 3268.6 886.5 3271.2 887 3273.8 887.5 3276.4 888 3279 888.5 3281.5 889 3284 889.5 3286.5 890 3288.9 890.5 3291.3 891 3293.7 891.5 3296 892 3298.3 892.5 3300.6 893 3302.8 893.5 3305 894 3307.1 894.5 3309.2 895 3311.2 895.5 3313.2 896 3315.1 896.5 3316.9 897 3318.7 897.5 3320.5 898 3322.2 898.5 3323.8 899 3325.3 899.5 3326.8 900 3328.3 900.5 3329.6 901 3330.9 901.5 3332.1 902 3333.2 902.5 3334.3 903 3335.3 903.5 3336.2 904 3337 904.5 3337.7 905 3338.3 905.5 3338.9 906 3339.4 906.5 3339.7 907 3340 907.5 3340.2 908 3340.3 908.5 3340.3 909 3340.2 909.5 3340.1 910 3339.8 910.5 3339.5 911 3339.2 911.5 3338.8 912 3338.3 912.5 3337.7 913 3337.1 913.5 3336.5 914 3335.7 914.5 3334.9 915 3334.1 915.5 3333.2 916 3332.3 916.5 3331.2 917 3330.2 917.5 3329.1 918 3327.9 918.5 3326.7 919 3325.5 919.5 3324.2 920 3322.9 920.5 3321.5 921 3320.1 921.5 3318.6 922 3317.2 922.5 3315.6 923 3314.1 923.5 3312.5 924 3310.9 924.5 3309.2 925 3307.5 925.5 3305.8 926 3304.1 926.5 3302.3 927 3300.5 927.5 3298.7 928 3296.9 928.5 3295.1 929 3293.2 929.5 3291.3 930 3289.4 930.5 3287.5 931 3285.6 931.5 3283.6 932 3281.7 932.5 3279.7 933 3277.7 933.5 3275.8 934 3273.8 934.5 3271.8 935 3269.8 935.5 3267.9 936 3265.9 936.5 3263.9 937 3261.9 937.5 3259.9 938 3258 938.5 3256 939 3254.1 939.5 3252.1 940 3250.2 940.5 3248.3 941 3246.4 941.5 3244.5 942 3242.6 942.5 3240.8 943 3238.9 943.5 3237.1 944 3235.3 944.5 3233.6 945 3231.8 945.5 3230.1 946 3228.4 946.5 3226.8 947 3225.1 947.5 3223.5 948 3222 948.5 3220.4 949 3218.9 949.5 3217.5 950 3216.1 950.5 3214.7 951 3213.4 951.5 3212.1 952 3210.8 952.5 3209.6 953 3208.4 953.5 3207.3 954 3206.3 954.5 3205.2 955 3204.3 955.5 3203.4 956 3202.5 956.5 3201.7 957 3201 957.5 3200.3 958 3199.7 958.5 3199.1 959 3198.6 959.5 3198.2 960 3197.8 960.5 3197.5 961 3197.3 961.5 3197.1 962 3197 963 3197 963.5 3197.1 964 3197.3 964.5 3197.5 965 3197.7 965.5 3198 966 3198.3 966.5 3198.7 967 3199.2 967.5 3199.6 968 3200.2 968.5 3200.7 969 3201.3 969.5 3202 970 3202.7 970.5 3203.4 971 3204.2 971.5 3205 972 3205.8 972.5 3206.7 973 3207.6 973.5 3208.5 974 3209.5 974.5 3210.5 975 3211.5 975.5 3212.6 976 3213.7 976.5 3214.8 977 3216 977.5 3217.1 978 3218.3 978.5 3219.5 979 3220.8 979.5 3222 980 3223.3 980.5 3224.6 981 3226 981.5 3227.3 982 3228.7 982.5 3230 983 3231.4 983.5 3232.8 984 3234.2 984.5 3235.6 985 3237.1 985.5 3238.5 986 3240 986.5 3241.4 987 3242.9 987.5 3244.4 988 3245.9 988.5 3247.3 989 3248.8 989.5 3250.3 990 3251.8 990.5 3253.3 991 3254.8 991.5 3256.3 992 3257.7 992.5 3259.2 993 3260.7 993.5 3262.2 994 3263.6 994.5 3265.1 995 3266.5 995.5 3267.9 996 3269.4 996.5 3270.8 997 3272.2 997.5 3273.6 998 3274.9 998.5 3276.3 999 3277.6 999.5 3278.9 1000 3280.2 1000.5 3281.5 1001 3282.8 1001.5 3284 1002 3285.2 1002.5 3286.4 1003 3287.6 1003.5 3288.7 1004 3289.8 1004.5 3290.9 1005 3292 1005.5 3293 1006 3294 1006.5 3295 1007 3295.9 1007.5 3296.8 1008 3297.7 1008.5 3298.5 1009 3299.3 1009.5 3300.1 1010 3300.8 1010.5 3301.5 1011 3302.1 1011.5 3302.7 1012 3303.3 1012.5 3303.8 1013 3304.2 1013.5 3304.7 1014 3305 1014.5 3305.4 1015 3305.6 1015.5 3305.9 1016 3306.1 1016.5 3306.2 1017 3306.3 1018 3306.3 1018.5 3306.2 1019 3306.1 1019.5 3306 1020 3305.8 1020.5 3305.6 1021 3305.4 1021.5 3305.1 1022 3304.8 1022.5 3304.5 1023 3304.2 1023.5 3303.8 1024 3303.3 1024.5 3302.9 1025 3302.4 1025.5 3301.9 1026 3301.4 1026.5 3300.8 1027 3300.2 1027.5 3299.6 1028 3299 1028.5 3298.3 1029 3297.6 1029.5 3296.9 1030 3296.2 1030.5 3295.5 1031 3294.7 1031.5 3293.9 1032 3293.1 1032.5 3292.3 1033 3291.4 1033.5 3290.6 1034 3289.7 1034.5 3288.8 1035 3287.9 1035.5 3287 1036 3286.1 1036.5 3285.1 1037 3284.2 1037.5 3283.2 1038 3282.2 1038.5 3281.3 1039 3280.3 1039.5 3279.3 1040 3278.3 1040.5 3277.2 1041 3276.2 1041.5 3275.2 1042 3274.1 1042.5 3273.1 1043 3272.1 1043.5 3271 1044 3270 1044.5 3268.9 1045 3267.9 1045.5 3266.8 1046 3265.8 1046.5 3264.7 1047 3263.7 1047.5 3262.6 1048 3261.6 1048.5 3260.5 1049 3259.5 1049.5 3258.5 1050 3257.5 1050.5 3256.4 1051 3255.4 1051.5 3254.4 1052 3253.4 1052.5 3252.5 1053 3251.5 1053.5 3250.5 1054 3249.6 1054.5 3248.6 1055 3247.7 1055.5 3246.8 1056 3245.9 1056.5 3245 1057 3244.2 1057.5 3243.3 1058 3242.5 1058.5 3241.7 1059 3240.9 1059.5 3240.1 1060 3239.3 1060.5 3238.6 1061 3237.9 1061.5 3237.2 1062 3236.5 1062.5 3235.9 1063 3235.2 1063.5 3234.6 1064 3234.1 1064.5 3233.5 1065 3233 1065.5 3232.5 1066 3232 1066.5 3231.6 1067 3231.2 1067.5 3230.8 1068 3230.5 1068.5 3230.1 1069 3229.8 1069.5 3229.6 1070 3229.4 1070.5 3229.2 1071 3229 1071.5 3228.9 1072 3228.8 1073.5 3228.8 1074 3228.9 1074.5 3229 1075 3229.1 1075.5 3229.2 1076 3229.4 1076.5 3229.6 1077 3229.8 1077.5 3230.1 1078 3230.3 1078.5 3230.6 1079 3230.9 1079.5 3231.3 1080 3231.7 1080.5 3232 1081 3232.5 1081.5 3232.9 1082 3233.3 1082.5 3233.8 1083 3234.3 1083.5 3234.8 1084 3235.3 1084.5 3235.9 1085 3236.4 1085.5 3237 1086 3237.6 1086.5 3238.2 1087 3238.9 1087.5 3239.5 1088 3240.1 1088.5 3240.8 1089 3241.5 1089.5 3242.2 1090 3242.9 1090.5 3243.6 1091 3244.3 1091.5 3245.1 1092 3245.8 1092.5 3246.6 1093 3247.3 1093.5 3248.1 1094 3248.9 1094.5 3249.6 1095 3250.4 1095.5 3251.2 1096 3252 1096.5 3252.8 1097 3253.6 1097.5 3254.4 1098 3255.2 1098.5 3256 1099 3256.8 1099.5 3257.7 1100 3258.5 1100.5 3259.3 1101 3260.1 1101.5 3260.9 1102 3261.7 1102.5 3262.5 1103 3263.3 1103.5 3264.1 1104 3264.9 1104.5 3265.7 1105 3266.5 1105.5 3267.3 1106 3268 1106.5 3268.8 1107 3269.6 1107.5 3270.3 1108 3271 1108.5 3271.8 1109 3272.5 1109.5 3273.2 1110 3273.9 1110.5 3274.6 1111 3275.3 1111.5 3275.9 1112 3276.6 1112.5 3277.2 1113 3277.8 1113.5 3278.4 1114 3279 1114.5 3279.6 1115 3280.1 1115.5 3280.7 1116 3281.2 1116.5 3281.7 1117 3282.2 1117.5 3282.6 1118 3283.1 1118.5 3283.5 1119 3283.9 1119.5 3284.3 1120 3284.6 1120.5 3285 1121 3285.3 1121.5 3285.6 1122 3285.8 1122.5 3286.1 1123 3286.3 1123.5 3286.5 1124 3286.6 1124.5 3286.8 1125 3286.9 1125.5 3286.9 1126.5 3287 1127.5 3286.9 1128 3286.9 1128.5 3286.8 1129 3286.7 1129.5 3286.5 1130 3286.4 1130.5 3286.2 1131 3286 1131.5 3285.8 1132 3285.5 1132.5 3285.2 1133 3284.9 1133.5 3284.6 1134 3284.3 1134.5 3283.9 1135 3283.6 1135.5 3283.2 1136 3282.8 1136.5 3282.4 1137 3281.9 1137.5 3281.5 1138 3281 1138.5 3280.5 1139 3280 1139.5 3279.5 1140 3279 1140.5 3278.5 1141 3277.9 1141.5 3277.4 1142 3276.8 1142.5 3276.2 1143 3275.6 1143.5 3275 1144 3274.4 1144.5 3273.8 1145 3273.2 1145.5 3272.5 1146 3271.9 1146.5 3271.2 1147 3270.6 1147.5 3269.9 1148 3269.3 1148.5 3268.6 1149 3267.9 1149.5 3267.3 1150 3266.6 1150.5 3265.9 1151 3265.2 1151.5 3264.5 1152 3263.8 1152.5 3263.2 1153 3262.5 1153.5 3261.8 1154 3261.1 1154.5 3260.4 1155 3259.7 1155.5 3259.1 1156 3258.4 1156.5 3257.7 1157 3257.1 1157.5 3256.4 1158 3255.8 1158.5 3255.1 1159 3254.5 1159.5 3253.8 1160 3253.2 1160.5 3252.6 1161 3252 1161.5 3251.4 1162 3250.8 1162.5 3250.2 1163 3249.6 1163.5 3249.1 1164 3248.5 1164.5 3248 1165 3247.5 1165.5 3247 1166 3246.5 1166.5 3246 1167 3245.5 1167.5 3245.1 1168 3244.6 1168.5 3244.2 1169 3243.8 1169.5 3243.4 1170 3243.1 1170.5 3242.7 1171 3242.4 1171.5 3242.1 1172 3241.8 1172.5 3241.5 1173 3241.2 1173.5 3241 1174 3240.8 1174.5 3240.6 1175 3240.5 1175.5 3240.3 1176 3240.2 1176.5 3240.1 1177 3240.1 1178 3240 1179.5 3240.1 1180 3240.1 1180.5 3240.2 1181 3240.3 1181.5 3240.4 1182 3240.5 1182.5 3240.6 1183 3240.7 1183.5 3240.9 1184 3241 1184.5 3241.2 1185 3241.4 1185.5 3241.6 1186 3241.8 1186.5 3242 1187 3242.3 1187.5 3242.5 1188 3242.7 1188.5 3243 1189 3243.3 1189.5 3243.6 1190 3243.9 1190.5 3244.2 1191 3244.5 1191.5 3244.8 1192 3245.1 1192.5 3245.5 1193 3245.8 1193.5 3246.2 1194 3246.5 1194.5 3246.9 1195 3247.3 1195.5 3247.7 1196 3248 1196.5 3248.4 1197 3248.8 1197.5 3249.3 1198 3249.7 1198.5 3250.1 1199 3250.5 1199.5 3250.9 1200 3251.4 1200.5 3251.8 1201 3252.3 1201.5 3252.7 1202 3253.1 1202.5 3253.6 1203 3254.1 1203.5 3254.5 1204 3255 1204.5 3255.4 1205 3255.9 1205.5 3256.4 1206 3256.8 1206.5 3257.3 1207 3257.8 1207.5 3258.3 1208 3258.7 1208.5 3259.2 1209 3259.7 1209.5 3260.2 1210 3260.6 1210.5 3261.1 1211 3261.6 1211.5 3262.1 1212 3262.5 1212.5 3263 1213 3263.5 1213.5 3263.9 1214 3264.4 1214.5 3264.9 1215 3265.3 1215.5 3265.8 1216 3266.2 1216.5 3266.7 1217 3267.1 1217.5 3267.5 1218 3268 1218.5 3268.4 1219 3268.8 1219.5 3269.3 1220 3269.7 1220.5 3270.1 1221 3270.5 1221.5 3270.9 1222 3271.3 1222.5 3271.7 1223 3272 1223.5 3272.4 1224 3272.8 1224.5 3273.1 1225 3273.5 1225.5 3273.8 1226 3274.1 1226.5 3274.5 1227 3274.8 1227.5 3275.1 1228 3275.4 1228.5 3275.7 1229 3275.9 1229.5 3276.2 1230 3276.5 1230.5 3276.7 1231 3276.9 1231.5 3277.2 1232 3277.4 1232.5 3277.6 1233 3277.8 1233.5 3277.9 1234 3278.1 1234.5 3278.2 1235 3278.4 1235.5 3278.5 1236 3278.6 1236.5 3278.7 1237 3278.8 1237.5 3278.9 1238 3278.9 1239 3279 1241.5 3278.9 1242 3278.8 1242.5 3278.7 1243 3278.7 1243.5 3278.5 1244 3278.4 1244.5 3278.3 1245 3278.2 1245.5 3278 1246 3277.8 1246.5 3277.6 1247 3277.5 1247.5 3277.3 1248 3277 1248.5 3276.8 1249 3276.6 1249.5 3276.3 1250 3276.1 1250.5 3275.8 1251 3275.5 1251.5 3275.3 1252 3275 1252.5 3274.7 1253 3274.4 1253.5 3274.1 1254 3273.7 1254.5 3273.4 1255 3273.1 1255.5 3272.8 1256 3272.4 1256.5 3272.1 1257 3271.7 1257.5 3271.3 1258 3271 1258.5 3270.6 1259 3270.2 1259.5 3269.9 1260 3269.5 1260.5 3269.1 1261 3268.7 1261.5 3268.3 1262 3267.9 1262.5 3267.6 1263 3267.2 1263.5 3266.8 1264 3266.4 1264.5 3266 1265 3265.6 1265.5 3265.2 1266 3264.8 1266.5 3264.4 1267 3264 1267.5 3263.6 1268 3263.2 1268.5 3262.9 1269 3262.5 1269.5 3262.1 1270 3261.7 1270.5 3261.3 1271 3261 1271.5 3260.6 1272 3260.2 1272.5 3259.9 1273 3259.5 1273.5 3259.2 1274 3258.8 1274.5 3258.5 1275 3258.1 1275.5 3257.8 1276 3257.5 1276.5 3257.2 1277 3256.9 1277.5 3256.6 1278 3256.3 1278.5 3256 1279 3255.7 1279.5 3255.5 1280 3255.2 1280.5 3255 1281 3254.7 1281.5 3254.5 1282 3254.3 1282.5 3254.1 1283 3253.9 1283.5 3253.7 1284 3253.5 1284.5 3253.4 1285 3253.2 1285.5 3253.1 1286 3253 1286.5 3252.9 1287 3252.8 1287.5 3252.7 1288 3252.6 1288.5 3252.6 1289.5 3252.5 1292 3252.6 1293 3252.7 1293.5 3252.7 1294 3252.8 1294.5 3252.9 1295 3252.9 1295.5 3253 1296 3253.1 1296.5 3253.2 1297 3253.4 1297.5 3253.5 1298 3253.6 1298.5 3253.7 1299 3253.9 1299.5 3254 1300 3254.2 1300.5 3254.3 1301 3254.5 1301.5 3254.7 1302 3254.8 1302.5 3255 1303 3255.2 1303.5 3255.4 1304 3255.6 1304.5 3255.8 1305 3256 1305.5 3256.2 1306 3256.4 1306.5 3256.6 1307 3256.8 1307.5 3257.1 1308 3257.3 1308.5 3257.5 1309 3257.8 1309.5 3258 1310 3258.2 1310.5 3258.5 1311 3258.7 1311.5 3259 1312 3259.2 1312.5 3259.5 1313 3259.7 1313.5 3260 1314 3260.2 1314.5 3260.5 1315 3260.7 1315.5 3261 1316 3261.2 1316.5 3261.5 1317 3261.8 1317.5 3262 1318 3262.3 1318.5 3262.5 1319 3262.8 1319.5 3263 1320 3263.3 1320.5 3263.5 1321 3263.8 1321.5 3264 1322 3264.3 1322.5 3264.5 1323 3264.8 1323.5 3265 1324 3265.3 1324.5 3265.5 1325 3265.7 1325.5 3266 1326 3266.2 1326.5 3266.4 1327 3266.7 1327.5 3266.9 1328 3267.1 1328.5 3267.3 1329 3267.5 1329.5 3267.7 1330 3267.9 1330.5 3268.1 1331 3268.3 1331.5 3268.5 1332 3268.7 1332.5 3268.8 1333 3269 1333.5 3269.2 1334 3269.3 1334.5 3269.5 1335 3269.6 1335.5 3269.8 1336 3269.9 1336.5 3270 1337 3270.1 1337.5 3270.3 1338 3270.4 1338.5 3270.5 1339 3270.6 1339.5 3270.6 1340 3270.7 1340.5 3270.8 1341 3270.8 1342 3270.9 1343 3271 1346.5 3270.9 1347.5 3270.8 1348 3270.8 1348.5 3270.8 1349 3270.7 1349.5 3270.6 1350 3270.6 1350.5 3270.5 1351 3270.4 1351.5 3270.3 1352 3270.3 1352.5 3270.2 1353 3270.1 1353.5 3270 1354 3269.9 1354.5 3269.8 1355 3269.6 1355.5 3269.5 1356 3269.4 1356.5 3269.3 1357 3269.2 1357.5 3269 1358 3268.9 1358.5 3268.8 1359 3268.6 1359.5 3268.5 1360 3268.3 1360.5 3268.2 1361 3268 1361.5 3267.9 1362 3267.7 1362.5 3267.6 1363 3267.4 1363.5 3267.2 1364 3267.1 1364.5 3266.9 1365 3266.7 1365.5 3266.6 1366 3266.4 1366.5 3266.2 1367 3266 1367.5 3265.9 1368 3265.7 1368.5 3265.5 1369 3265.3 1369.5 3265.2 1370 3265 1370.5 3264.8 1371 3264.6 1371.5 3264.4 1372 3264.2 1372.5 3264.1 1373 3263.9 1373.5 3263.7 1374 3263.5 1374.5 3263.3 1375 3263.2 1375.5 3263 1376 3262.8 1376.5 3262.6 1377 3262.5 1377.5 3262.3 1378 3262.1 1378.5 3261.9 1379 3261.8 1379.5 3261.6 1380 3261.4 1380.5 3261.3 1381 3261.1 1381.5 3260.9 1382 3260.8 1382.5 3260.6 1383 3260.5 1383.5 3260.3 1384 3260.2 1384.5 3260 1385 3259.9 1385.5 3259.7 1386 3259.6 1386.5 3259.5 1387 3259.3 1387.5 3259.2 1388 3259.1 1388.5 3259 1389 3258.9 1389.5 3258.7 1390 3258.6 1390.5 3258.5 1391 3258.4 1391.5 3258.3 1392 3258.2 1392.5 3258.2 1393 3258.1 1393.5 3258 1394 3257.9 1394.5 3257.9 1395 3257.8 1395.5 3257.7 1396 3257.7 1397 3257.6 1398 3257.6 1400 3257.5 1402.5 3257.6 1403.5 3257.6 1404.5 3257.7 1405.5 3257.8 1406 3257.8 1406.5 3257.9 1407 3258 1407.5 3258 1408 3258.1 1408.5 3258.2 1409 3258.2 1409.5 3258.3 1410 3258.4 1410.5 3258.5 1411 3258.6 1411.5 3258.7 1412 3258.8 1412.5 3258.9 1413 3259 1413.5 3259.1 1414 3259.2 1414.5 3259.3 1415 3259.4 1415.5 3259.5 1416 3259.6 1416.5 3259.7 1417 3259.9 1417.5 3260 1418 3260.1 1418.5 3260.2 1419 3260.3 1419.5 3260.5 1420 3260.6 1420.5 3260.7 1421 3260.9 1421.5 3261 1422 3261.1 1422.5 3261.3 1423 3261.4 1423.5 3261.5 1424 3261.7 1424.5 3261.8 1425 3261.9 1425.5 3262.1 1426 3262.2 1426.5 3262.3 1427 3262.5 1427.5 3262.6 1428 3262.8 1428.5 3262.9 1429 3263 1429.5 3263.2 1430 3263.3 1430.5 3263.4 1431 3263.6 1431.5 3263.7 1432 3263.8 1432.5 3264 1433 3264.1 1433.5 3264.2 1434 3264.4 1434.5 3264.5 1435 3264.6 1435.5 3264.7 1436 3264.8 1436.5 3265 1437 3265.1 1437.5 3265.2 1438 3265.3 1438.5 3265.4 1439 3265.5 1439.5 3265.6 1440 3265.7 1440.5 3265.8 1441 3265.9 1441.5 3266 1442 3266.1 1442.5 3266.2 1443 3266.3 1443.5 3266.4 1444 3266.5 1444.5 3266.5 1445 3266.6 1445.5 3266.7 1446 3266.7 1446.5 3266.8 1447 3266.9 1447.5 3266.9 1448.5 3267 1449.5 3267.1 1450.5 3267.1 1452 3267.2 1456 3267.1 1457.5 3267.1 1458.5 3267 1459.5 3266.9 1460.5 3266.8 1461 3266.8 1461.5 3266.7 1462 3266.7 1462.5 3266.6 1463 3266.5 1463.5 3266.5 1464 3266.4 1464.5 3266.4 1465 3266.3 1465.5 3266.2 1466 3266.1 1466.5 3266.1 1467 3266 1467.5 3265.9 1468 3265.8 1468.5 3265.8 1469 3265.7 1469.5 3265.6 1470 3265.5 1470.5 3265.4 1471 3265.3 1471.5 3265.2 1472 3265.1 1472.5 3265.1 1473 3265 1473.5 3264.9 1474 3264.8 1474.5 3264.7 1475 3264.6 1475.5 3264.5 1476 3264.4 1476.5 3264.3 1477 3264.2 1477.5 3264.1 1478 3264 1478.5 3263.9 1479 3263.8 1479.5 3263.7 1480 3263.6 1480.5 3263.5 1481 3263.4 1481.5 3263.3 1482 3263.2 1482.5 3263.1 1483 3263 1483.5 3262.9 1484 3262.8 1484.5 3262.7 1485 3262.6 1485.5 3262.5 1486 3262.4 1486.5 3262.3 1487 3262.2 1487.5 3262.1 1488 3262 1488.5 3261.9 1489 3261.8 1489.5 3261.7 1490 3261.6 1490.5 3261.5 1491 3261.5 1491.5 3261.4 1492 3261.3 1492.5 3261.2 1493 3261.1 1493.5 3261.1 1494 3261 1494.5 3260.9 1495 3260.8 1495.5 3260.8 1496 3260.7 1496.5 3260.6 1497 3260.6 1497.5 3260.5 1498 3260.4 1498.5 3260.4 1499 3260.3 1499.5 3260.3 1500.5 3260.2 1501.5 3260.1 1502.5 3260 1503.5 3260 1505 3259.9 1512 3260 1513 3260 1514 3260.1 1515 3260.1 1516 3260.2 1517 3260.3 1518 3260.4 1519 3260.5 1519.5 3260.5 1520 3260.6 1520.5 3260.6 1521 3260.7 1521.5 3260.8 1522 3260.8 1522.5 3260.9 1523 3260.9 1523.5 3261 1524 3261.1 1524.5 3261.1 1525 3261.2 1525.5 3261.3 1526 3261.3 1526.5 3261.4 1527 3261.5 1527.5 3261.5 1528 3261.6 1528.5 3261.7 1529 3261.7 1529.5 3261.8 1530 3261.9 1530.5 3262 1531 3262 1531.5 3262.1 1532 3262.2 1532.5 3262.3 1533 3262.3 1533.5 3262.4 1534 3262.5 1534.5 3262.6 1535 3262.6 1535.5 3262.7 1536 3262.8 1536.5 3262.9 1537 3262.9 1537.5 3263 1538 3263.1 1538.5 3263.2 1539 3263.2 1539.5 3263.3 1540 3263.4 1540.5 3263.5 1541 3263.5 1541.5 3263.6 1542 3263.7 1542.5 3263.8 1543 3263.8 1543.5 3263.9 1544 3264 1544.5 3264 1545 3264.1 1545.5 3264.2 1546 3264.2 1546.5 3264.3 1547 3264.3 1547.5 3264.4 1548 3264.5 1548.5 3264.5 1549 3264.6 1549.5 3264.6 1550 3264.7 1550.5 3264.7 1551.5 3264.8 1552.5 3264.9 1553.5 3265 1554.5 3265.1 1555.5 3265.1 1556.5 3265.2 1557.5 3265.3 1559 3265.3 1567.5 3265.2 1569 3265.2 1570 3265.1 1571 3265.1 1572 3265 1573 3264.9 1574 3264.8 1575 3264.8 1576 3264.7 1577 3264.6 1578 3264.5 1579 3264.4 1580 3264.3 1580.5 3264.3 1581 3264.2 1581.5 3264.2 1582 3264.1 1582.5 3264 1583 3264 1583.5 3263.9 1584 3263.9 1584.5 3263.8 1585 3263.8 1585.5 3263.7 1586 3263.7 1586.5 3263.6 1587 3263.6 1587.5 3263.5 1588 3263.4 1588.5 3263.4 1589 3263.3 1589.5 3263.3 1590 3263.2 1590.5 3263.2 1591 3263.1 1591.5 3263 1592 3263 1592.5 3262.9 1593 3262.9 1593.5 3262.8 1594 3262.8 1594.5 3262.7 1595 3262.7 1595.5 3262.6 1596 3262.5 1596.5 3262.5 1597 3262.4 1597.5 3262.4 1598 3262.3 1598.5 3262.3 1599.5 3262.2 1600.5 3262.1 1601.5 3262 1602.5 3261.9 1603.5 3261.8 1604.5 3261.7 1605.5 3261.7 1606.5 3261.6 1607.5 3261.5 1608.5 3261.5 1609.5 3261.4 1611 3261.3 1612.5 3261.3 1615 3261.2 1621 3261.3 1623 3261.3 1624.5 3261.4 1626 3261.5 1627 3261.5 1628 3261.6 1629 3261.6 1630 3261.7 1631 3261.8 1632 3261.8 1633 3261.9 1634 3262 1635 3262.1 1636 3262.1 1637 3262.2 1638 3262.3 1639 3262.4 1640 3262.5 1641 3262.5 1642 3262.6 1643 3262.7 1644 3262.8 1645 3262.9 1646 3263 1647 3263.1 1648 3263.1 1649 3263.2 1650 3263.3 1651 3263.4 1652 3263.5 1653 3263.5 1654 3263.6 1655 3263.7 1656 3263.8 1657 3263.8 1658 3263.9 1659 3263.9 1660 3264 1661 3264.1 1662.5 3264.1 1664 3264.2 1665.5 3264.2 1667.5 3264.3 1677.5 3264.2 1679.5 3264.2 1681 3264.1 1682.5 3264.1 1684 3264 1685.5 3263.9 1686.5 3263.9 1687.5 3263.8 1688.5 3263.8 1689.5 3263.7 1690.5 3263.6 1691.5 3263.6 1692.5 3263.5 1693.5 3263.5 1694.5 3263.4 1695.5 3263.3 1696.5 3263.3 1697.5 3263.2 1698.5 3263.2 1699.5 3263.1 1700.5 3263 1701.5 3263 1702.5 3262.9 1703.5 3262.8 1704.5 3262.8 1705.5 3262.7 1706.5 3262.7 1707.5 3262.6 1708.5 3262.5 1709.5 3262.5 1710.5 3262.4 1712 3262.4 1713.5 3262.3 1715 3262.2 1716.5 3262.2 1718.5 3262.1 1720.5 3262.1 1724.5 3262 1731.5 3262.1 1734 3262.1 1736 3262.2 1738 3262.2 1739.5 3262.3 1741 3262.3 1742.5 3262.4 1744 3262.5 1745.5 3262.5 1747 3262.6 1748.5 3262.7 1750 3262.7 1751.5 3262.8 1753 3262.9 1754.5 3263 1756 3263 1757.5 3263.1 1759 3263.2 1760.5 3263.2 1762 3263.3 1763.5 3263.4 1765 3263.4 1766.5 3263.5 1768 3263.5 1770 3263.6 1772 3263.6 1774.5 3263.7 1789.5 3263.6 1792 3263.6 1794 3263.5 1796 3263.5 1798 3263.4 1800 3263.3 1801.5 3263.3 1803 3263.2 1804.5 3263.2 1806 3263.1 1807.5 3263.1 1809 3263 1810.5 3263 1812 3262.9 1813.5 3262.9 1815 3262.8 1817 3262.8 1819 3262.7 1821 3262.6 1823 3262.6 1825.5 3262.5 1828.5 3262.5 1845 3262.5 1848 3262.6 1850.5 3262.6 1853 3262.7 1855.5 3262.8 1857.5 3262.8 1859.5 3262.9 1861.5 3262.9 1863.5 3263 1865.5 3263 1867.5 3263.1 1869.5 3263.1 1872 3263.2 1874.5 3263.2 1877.5 3263.3 1881 3263.4 1886.5 3263.4 1898.5 3263.4 1902.5 3263.3 1906 3263.3 1909 3263.2 1912 3263.1 1915 3263.1 1917.5 3263 1920 3263 1923 3262.9 1926 3262.9 1929 3262.8 1932.5 3262.8 1937.5 3262.7 1961 3262.8 1967.5 3262.8 1973.5 3262.9 1980 3262.9 1988 3263 2053 3263" stroke="#FF0000" stroke-dasharray="5 3" stroke-linecap="butt"/>
<path d="M373 3263 654 3263 654.5 3262.7 655 3262 655.5 3260.8 656 3259.4 656.5 3257.7 657 3255.9 657.5 3254 658 3252.1 658.5 3250.3 659 3248.7 659.5 3247.4 660 3246.4 660.5 3245.8 661 3245.8 661.5 3246.5 662 3247.9 662.5 3249.8 663 3252.2 663.5 3255 664 3257.9 664.5 3261 665 3264 665.5 3267.3 666 3271.2 666.5 3275.8 667 3280.9 667.5 3286.6 668 3292.8 668.5 3299.4 669 3306.5 669.5 3314.1 670 3322 670.5 3330.2 671 3338.8 671.5 3347.7 672 3356.8 672.5 3366.1 673 3375.6 673.5 3385.3 674 3395.1 674.5 3404.9 675 3414.9 675.5 3424.8 676 3434.8 676.5 3444.7 677 3454.6 677.5 3464.3 678 3473.9 678.5 3483.4 679 3492.6 679.5 3501.6 680 3510.3 680.5 3518.8 681 3526.9 681.5 3534.6 682 3542 682.5 3548.9 683 3555.4 683.5 3561.3 684 3566.8 684.5 3571.7 685 3576 685.5 3579.6 686 3582.6 686.5 3585 687 3586.6 687.5 3587.5 688 3587.6 688.5 3587.3 689 3586.7 689.5 3585.8 690 3584.7 690.5 3583.2 691 3581.5 691.5 3579.4 692 3577.2 692.5 3574.6 693 3571.8 693.5 3568.7 694 3565.4 694.5 3561.9 695 3558.1 695.5 3554 696 3549.8 696.5 3545.3 697 3540.6 697.5 3535.7 698 3530.6 698.5 3525.3 699 3519.8 699.5 3514.1 700 3508.2 700.5 3502.2 701 3496 701.5 3489.6 702 3483.1 702.5 3476.3 703 3469.5 703.5 3462.5 704 3455.4 704.5 3448.1 705 3440.7 705.5 3433.2 706 3425.5 706.5 3417.8 707 3410 707.5 3402 708 3393.9 708.5 3385.8 709 3377.6 709.5 3369.3 710 3360.9 710.5 3352.5 711 3344 711.5 3335.4 712 3326.8 712.5 3318.2 713 3309.5 713.5 3300.7 714 3292 714.5 3283.2 715 3274.4 715.5 3265.6 716 3256.7 716.5 3247.9 717 3239.1 717.5 3230.3 718 3221.5 718.5 3212.7 719 3204 719.5 3195.3 720 3186.6 720.5 3177.9 721 3169.4 721.5 3160.8 722 3152.3 722.5 3143.9 723 3135.6 723.5 3127.3 724 3119.1 724.5 3111 725 3103 725.5 3095.1 726 3087.3 726.5 3079.6 727 3072 727.5 3064.5 728 3057.2 728.5 3050 729 3042.9 729.5 3035.9 730 3029.2 730.5 3022.5 731 3016 731.5 3009.7 732 3003.6 732.5 2997.6 733 2991.8 733.5 2986.2 734 2980.7 734.5 2975.5 735 2970.5 735.5 2965.7 736 2961.1 736.5 2956.7 737 2952.5 737.5 2948.6 738 2944.9 738.5 2941.4 739 2938.2 739.5 2935.2 740 2932.5 740.5 2930.1 741 2927.9 741.5 2926 742 2924.4 742.5 2923 743 2922 743.5 2921.2 744 2920.8 744.5 2920.6 745 2920.7 745.5 2921.1 746 2921.7 746.5 2922.6 747 2923.7 747.5 2925 748 2926.6 748.5 2928.4 749 2930.4 749.5 2932.6 750 2935 750.5 2937.6 751 2940.4 751.5 2943.5 752 2946.7 752.5 2950.1 753 2953.6 753.5 2957.4 754 2961.3 754.5 2965.4 755 2969.7 755.5 2974.1 756 2978.6 756.5 2983.4 757 2988.2 757.5 2993.2 758 2998.3 758.5 3003.6 759 3009 759.5 3014.5 760 3020.1 760.5 3025.8 761 3031.7 761.5 3037.6 762 3043.7 762.5 3049.8 763 3056 763.5 3062.3 764 3068.7 764.5 3075.2 765 3081.7 765.5 3088.3 766 3094.9 766.5 3101.7 767 3108.4 767.5 3115.2 768 3122.1 768.5 3129 769 3135.9 769.5 3142.8 770 3149.8 770.5 3156.8 771 3163.8 771.5 3170.8 772 3177.8 772.5 3184.9 773 3191.9 773.5 3198.9 774 3205.9 774.5 3212.9 775 3219.8 775.5 3226.8 776 3233.6 776.5 3240.5 777 3247.3 777.5 3254.1 778 3260.8 778.5 3267.5 779 3274.1 779.5 3280.6 780 3287.1 780.5 3293.5 781 3299.8 781.5 3306.1 782 3312.2 782.5 3318.3 783 3324.2 783.5 3330.1 784 3335.9 784.5 3341.5 785 3347 785.5 3352.4 786 3357.7 786.5 3362.9 787 3367.9 787.5 3372.8 788 3377.5 788.5 3382.1 789 3386.6 789.5 3390.9 790 3395 790.5 3398.9 791 3402.7 791.5 3406.3 792 3409.8 792.5 3413 793 3416.1 793.5 3418.9 794 3421.6 794.5 3424.1 795 3426.3 795.5 3428.4 796 3430.2 796.5 3431.8 797 3433.2 797.5 3434.3 798 3435.2 798.5 3435.9 799 3436.3 799.5 3436.5 800 3436.4 800.5 3436.2 801 3435.9 801.5 3435.3 802 3434.7 802.5 3433.8 803 3432.9 803.5 3431.7 804 3430.5 804.5 3429.1 805 3427.5 805.5 3425.9 806 3424.1 806.5 3422.1 807 3420.1 807.5 3417.9 808 3415.6 808.5 3413.2 809 3410.7 809.5 3408.1 810 3405.3 810.5 3402.5 811 3399.6 811.5 3396.6 812 3393.4 812.5 3390.2 813 3386.9 813.5 3383.5 814 3380.1 814.5 3376.5 815 3372.9 815.5 3369.2 816 3365.4 816.5 3361.6 817 3357.7 817.5 3353.7 818 3349.7 818.5 3345.6 819 3341.5 819.5 3337.3 820 3333.1 820.5 3328.9 821 3324.6 821.5 3320.2 822 3315.8 822.5 3311.4 823 3307 823.5 3302.5 824 3298.1 824.5 3293.5 825 3289 825.5 3284.5 826 3279.9 826.5 3275.4 827 3270.8 827.5 3266.3 828 3261.7 828.5 3257.2 829 3252.6 829.5 3248.1 830 3243.6 830.5 3239 831 3234.6 831.5 3230.1 832 3225.7 832.5 3221.2 833 3216.9 833.5 3212.5 834 3208.2 834.5 3203.9 835 3199.7 835.5 3195.5 836 3191.4 836.5 3187.3 837 3183.3 837.5 3179.3 838 3175.4 838.5 3171.5 839 3167.8 839.5 3164 840 3160.4 840.5 3156.8 841 3153.4 841.5 3150 842 3146.6 842.5 3143.4 843 3140.3 843.5 3137.2 844 3134.3 844.5 3131.4 845 3128.7 845.5 3126 846 3123.5 846.5 3121.1 847 3118.7 847.5 3116.5 848 3114.5 848.5 3112.5 849 3110.7 849.5 3109 850 3107.4 850.5 3106 851 3104.7 851.5 3103.6 852 3102.6 852.5 3101.7 853 3101 853.5 3100.4 854 3100 854.5 3099.8 855 3099.7 855.5 3099.8 856 3100 856.5 3100.3 857 3100.7 857.5 3101.3 858 3101.9 858.5 3102.7 859 3103.6 859.5 3104.6 860 3105.8 860.5 3107 861 3108.3 861.5 3109.7 862 3111.3 862.5 3112.9 863 3114.6 863.5 3116.4 864 3118.3 864.5 3120.3 865 3122.4 865.5 3124.5 866 3126.8 866.5 3129.1 867 3131.4 867.5 3133.9 868 3136.4 868.5 3139 869 3141.7 869.5 3144.4 870 3147.2 870.5 3150 871 3152.9 871.5 3155.9 872 3158.9 872.5 3161.9 873 3165 873.5 3168.2 874 3171.4 874.5 3174.6 875 3177.9 875.5 3181.2 876 3184.5 876.5 3187.9 877 3191.3 877.5 3194.7 878 3198.1 878.5 3201.6 879 3205.1 879.5 3208.6 880 3212.1 880.5 3215.6 881 3219.1 881.5 3222.7 882 3226.2 882.5 3229.8 883 3233.3 883.5 3236.8 884 3240.4 884.5 3243.9 885 3247.4 885.5 3250.9 886 3254.4 886.5 3257.9 887 3261.4 887.5 3264.8 888 3268.2 888.5 3271.6 889 3275 889.5 3278.3 890 3281.6 890.5 3284.9 891 3288.1 891.5 3291.3 892 3294.5 892.5 3297.6 893 3300.6 893.5 3303.6 894 3306.6 894.5 3309.5 895 3312.3 895.5 3315.1 896 3317.8 896.5 3320.5 897 3323.1 897.5 3325.6 898 3328.1 898.5 3330.4 899 3332.7 899.5 3335 900 3337.1 900.5 3339.2 901 3341.2 901.5 3343.1 902 3344.9 902.5 3346.6 903 3348.2 903.5 3349.8 904 3351.2 904.5 3352.5 905 3353.7 905.5 3354.9 906 3355.9 906.5 3356.8 907 3357.6 907.5 3358.2 908 3358.8 908.5 3359.2 909 3359.5 909.5 3359.7 910 3359.8 910.5 3359.8 911 3359.6 911.5 3359.4 912 3359.1 912.5 3358.7 913 3358.2 913.5 3357.6 914 3357 914.5 3356.2 915 3355.4 915.5 3354.5 916 3353.6 916.5 3352.5 917 3351.4 917.5 3350.3 918 3349 918.5 3347.7 919 3346.4 919.5 3344.9 920 3343.4 920.5 3341.9 921 3340.3 921.5 3338.6 922 3336.9 922.5 3335.1 923 3333.3 923.5 3331.4 924 3329.5 924.5 3327.6 925 3325.5 925.5 3323.5 926 3321.4 926.5 3319.3 927 3317.1 927.5 3314.9 928 3312.7 928.5 3310.4 929 3308.2 929.5 3305.8 930 3303.5 930.5 3301.1 931 3298.7 931.5 3296.3 932 3293.9 932.5 3291.4 933 3289 933.5 3286.5 934 3284 934.5 3281.5 935 3279 935.5 3276.4 936 3273.9 936.5 3271.4 937 3268.9 937.5 3266.3 938 3263.8 938.5 3261.3 939 3258.7 939.5 3256.2 940 3253.7 940.5 3251.2 941 3248.7 941.5 3246.3 942 3243.8 942.5 3241.3 943 3238.9 943.5 3236.5 944 3234.1 944.5 3231.8 945 3229.4 945.5 3227.1 946 3224.9 946.5 3222.6 947 3220.4 947.5 3218.2 948 3216.1 948.5 3213.9 949 3211.9 949.5 3209.8 950 3207.9 950.5 3205.9 951 3204 951.5 3202.2 952 3200.4 952.5 3198.6 953 3196.9 953.5 3195.3 954 3193.7 954.5 3192.2 955 3190.7 955.5 3189.3 956 3187.9 956.5 3186.7 957 3185.5 957.5 3184.3 958 3183.2 958.5 3182.2 959 3181.3 959.5 3180.4 960 3179.7 960.5 3179 961 3178.3 961.5 3177.8 962 3177.4 962.5 3177 963 3176.7 963.5 3176.5 964 3176.4 964.5 3176.4 965 3176.5 965.5 3176.6 966 3176.8 966.5 3177.1 967 3177.4 967.5 3177.8 968 3178.3 968.5 3178.8 969 3179.4 969.5 3180.1 970 3180.8 970.5 3181.5 971 3182.4 971.5 3183.2 972 3184.2 972.5 3185.1 973 3186.2 973.5 3187.3 974 3188.4 974.5 3189.6 975 3190.8 975.5 3192 976 3193.4 976.5 3194.7 977 3196.1 977.5 3197.5 978 3199 978.5 3200.5 979 3202 979.5 3203.6 980 3205.2 980.5 3206.8 981 3208.5 981.5 3210.2 982 3211.9 982.5 3213.6 983 3215.4 983.5 3217.2 984 3219 984.5 3220.8 985 3222.7 985.5 3224.6 986 3226.4 986.5 3228.3 987 3230.3 987.5 3232.2 988 3234.1 988.5 3236.1 989 3238 989.5 3240 990 3241.9 990.5 3243.9 991 3245.9 991.5 3247.9 992 3249.8 992.5 3251.8 993 3253.8 993.5 3255.7 994 3257.7 994.5 3259.7 995 3261.6 995.5 3263.6 996 3265.5 996.5 3267.4 997 3269.3 997.5 3271.2 998 3273.1 998.5 3275 999 3276.8 999.5 3278.6 1000 3280.4 1000.5 3282.2 1001 3284 1001.5 3285.7 1002 3287.4 1002.5 3289.1 1003 3290.7 1003.5 3292.3 1004 3293.9 1004.5 3295.5 1005 3297 1005.5 3298.5 1006 3300 1006.5 3301.4 1007 3302.7 1007.5 3304.1 1008 3305.4 1008.5 3306.6 1009 3307.8 1009.5 3309 1010 3310.1 1010.5 3311.1 1011 3312.2 1011.5 3313.1 1012 3314 1012.5 3314.9 1013 3315.7 1013.5 3316.4 1014 3317.1 1014.5 3317.7 1015 3318.3 1015.5 3318.8 1016 3319.2 1016.5 3319.6 1017 3319.9 1017.5 3320.2 1018 3320.4 1018.5 3320.5 1019.5 3320.5 1020 3320.4 1020.5 3320.3 1021 3320.1 1021.5 3319.9 1022 3319.6 1022.5 3319.3 1023 3318.9 1023.5 3318.5 1024 3318 1024.5 3317.5 1025 3317 1025.5 3316.4 1026 3315.8 1026.5 3315.1 1027 3314.4 1027.5 3313.7 1028 3312.9 1028.5 3312.1 1029 3311.2 1029.5 3310.3 1030 3309.4 1030.5 3308.5 1031 3307.5 1031.5 3306.5 1032 3305.5 1032.5 3304.4 1033 3303.3 1033.5 3302.2 1034 3301.1 1034.5 3299.9 1035 3298.8 1035.5 3297.5 1036 3296.3 1036.5 3295.1 1037 3293.8 1037.5 3292.5 1038 3291.2 1038.5 3289.9 1039 3288.6 1039.5 3287.3 1040 3285.9 1040.5 3284.6 1041 3283.2 1041.5 3281.8 1042 3280.4 1042.5 3279 1043 3277.6 1043.5 3276.2 1044 3274.8 1044.5 3273.3 1045 3271.9 1045.5 3270.5 1046 3269 1046.5 3267.6 1047 3266.2 1047.5 3264.8 1048 3263.3 1048.5 3261.9 1049 3260.5 1049.5 3259.1 1050 3257.7 1050.5 3256.3 1051 3254.9 1051.5 3253.5 1052 3252.2 1052.5 3250.8 1053 3249.5 1053.5 3248.2 1054 3246.9 1054.5 3245.6 1055 3244.3 1055.5 3243 1056 3241.8 1056.5 3240.6 1057 3239.3 1057.5 3238.2 1058 3237 1058.5 3235.9 1059 3234.8 1059.5 3233.7 1060 3232.6 1060.5 3231.6 1061 3230.6 1061.5 3229.6 1062 3228.7 1062.5 3227.8 1063 3226.9 1063.5 3226 1064 3225.2 1064.5 3224.4 1065 3223.7 1065.5 3223 1066 3222.3 1066.5 3221.7 1067 3221.1 1067.5 3220.6 1068 3220.1 1068.5 3219.6 1069 3219.2 1069.5 3218.8 1070 3218.5 1070.5 3218.2 1071 3218 1071.5 3217.8 1072 3217.7 1072.5 3217.6 1073.5 3217.6 1074 3217.7 1074.5 3217.8 1075 3217.9 1075.5 3218.1 1076 3218.3 1076.5 3218.5 1077 3218.8 1077.5 3219.1 1078 3219.4 1078.5 3219.8 1079 3220.2 1079.5 3220.6 1080 3221.1 1080.5 3221.6 1081 3222.1 1081.5 3222.6 1082 3223.2 1082.5 3223.8 1083 3224.4 1083.5 3225.1 1084 3225.7 1084.5 3226.4 1085 3227.2 1085.5 3227.9 1086 3228.6 1086.5 3229.4 1087 3230.2 1087.5 3231 1088 3231.9 1088.5 3232.7 1089 3233.6 1089.5 3234.5 1090 3235.4 1090.5 3236.3 1091 3237.2 1091.5 3238.1 1092 3239.1 1092.5 3240 1093 3241 1093.5 3242 1094 3243 1094.5 3244 1095 3245 1095.5 3246 1096 3247 1096.5 3248.1 1097 3249.1 1097.5 3250.1 1098 3251.2 1098.5 3252.2 1099 3253.2 1099.5 3254.3 1100 3255.3 1100.5 3256.4 1101 3257.4 1101.5 3258.4 1102 3259.5 1102.5 3260.5 1103 3261.5 1103.5 3262.6 1104 3263.6 1104.5 3264.6 1105 3265.6 1105.5 3266.6 1106 3267.6 1106.5 3268.6 1107 3269.6 1107.5 3270.5 1108 3271.5 1108.5 3272.4 1109 3273.3 1109.5 3274.2 1110 3275.1 1110.5 3276 1111 3276.9 1111.5 3277.7 1112 3278.6 1112.5 3279.4 1113 3280.2 1113.5 3281 1114 3281.7 1114.5 3282.4 1115 3283.2 1115.5 3283.9 1116 3284.5 1116.5 3285.2 1117 3285.8 1117.5 3286.4 1118 3287 1118.5 3287.5 1119 3288 1119.5 3288.5 1120 3289 1120.5 3289.4 1121 3289.8 1121.5 3290.2 1122 3290.5 1122.5 3290.8 1123 3291.1 1123.5 3291.3 1124 3291.5 1124.5 3291.7 1125 3291.8 1125.5 3291.9 1126 3292 1127.5 3291.9 1128 3291.9 1128.5 3291.7 1129 3291.6 1129.5 3291.4 1130 3291.2 1130.5 3291 1131 3290.8 1131.5 3290.5 1132 3290.2 1132.5 3289.9 1133 3289.5 1133.5 3289.1 1134 3288.7 1134.5 3288.3 1135 3287.8 1135.5 3287.4 1136 3286.9 1136.5 3286.4 1137 3285.9 1137.5 3285.3 1138 3284.7 1138.5 3284.2 1139 3283.6 1139.5 3282.9 1140 3282.3 1140.5 3281.7 1141 3281 1141.5 3280.3 1142 3279.6 1142.5 3278.9 1143 3278.2 1143.5 3277.5 1144 3276.8 1144.5 3276 1145 3275.3 1145.5 3274.5 1146 3273.7 1146.5 3273 1147 3272.2 1147.5 3271.4 1148 3270.6 1148.5 3269.8 1149 3269 1149.5 3268.2 1150 3267.4 1150.5 3266.5 1151 3265.7 1151.5 3264.9 1152 3264.1 1152.5 3263.3 1153 3262.5 1153.5 3261.6 1154 3260.8 1154.5 3260 1155 3259.2 1155.5 3258.4 1156 3257.6 1156.5 3256.8 1157 3256 1157.5 3255.3 1158 3254.5 1158.5 3253.7 1159 3253 1159.5 3252.2 1160 3251.5 1160.5 3250.8 1161 3250.1 1161.5 3249.4 1162 3248.7 1162.5 3248 1163 3247.3 1163.5 3246.7 1164 3246.1 1164.5 3245.4 1165 3244.8 1165.5 3244.3 1166 3243.7 1166.5 3243.1 1167 3242.6 1167.5 3242.1 1168 3241.6 1168.5 3241.2 1169 3240.7 1169.5 3240.3 1170 3239.9 1170.5 3239.5 1171 3239.1 1171.5 3238.8 1172 3238.5 1172.5 3238.2 1173 3238 1173.5 3237.8 1174 3237.6 1174.5 3237.4 1175 3237.3 1175.5 3237.1 1176 3237.1 1177 3237 1178.5 3237.1 1179 3237.1 1179.5 3237.2 1180 3237.3 1180.5 3237.4 1181 3237.5 1181.5 3237.6 1182 3237.8 1182.5 3238 1183 3238.1 1183.5 3238.3 1184 3238.5 1184.5 3238.7 1185 3239 1185.5 3239.2 1186 3239.5 1186.5 3239.7 1187 3240 1187.5 3240.3 1188 3240.6 1188.5 3240.9 1189 3241.2 1189.5 3241.6 1190 3241.9 1190.5 3242.3 1191 3242.6 1191.5 3243 1192 3243.4 1192.5 3243.8 1193 3244.2 1193.5 3244.6 1194 3245 1194.5 3245.4 1195 3245.8 1195.5 3246.3 1196 3246.7 1196.5 3247.1 1197 3247.6 1197.5 3248.1 1198 3248.5 1198.5 3249 1199 3249.5 1199.5 3250 1200 3250.5 1200.5 3250.9 1201 3251.4 1201.5 3251.9 1202 3252.4 1202.5 3253 1203 3253.5 1203.5 3254 1204 3254.5 1204.5 3255 1205 3255.5 1205.5 3256.1 1206 3256.6 1206.5 3257.1 1207 3257.6 1207.5 3258.2 1208 3258.7 1208.5 3259.2 1209 3259.7 1209.5 3260.3 1210 3260.8 1210.5 3261.3 1211 3261.8 1211.5 3262.4 1212 3262.9 1212.5 3263.4 1213 3263.9 1213.5 3264.4 1214 3264.9 1214.5 3265.5 1215 3266 1215.5 3266.5 1216 3267 1216.5 3267.4 1217 3267.9 1217.5 3268.4 1218 3268.9 1218.5 3269.4 1219 3269.8 1219.5 3270.3 1220 3270.8 1220.5 3271.2 1221 3271.7 1221.5 3272.1 1222 3272.5 1222.5 3272.9 1223 3273.4 1223.5 3273.8 1224 3274.2 1224.5 3274.6 1225 3274.9 1225.5 3275.3 1226 3275.7 1226.5 3276 1227 3276.4 1227.5 3276.7 1228 3277 1228.5 3277.3 1229 3277.6 1229.5 3277.9 1230 3278.2 1230.5 3278.5 1231 3278.7 1231.5 3279 1232 3279.2 1232.5 3279.4 1233 3279.6 1233.5 3279.8 1234 3280 1234.5 3280.2 1235 3280.3 1235.5 3280.5 1236 3280.6 1236.5 3280.7 1237 3280.8 1237.5 3280.9 1238 3280.9 1239 3281 1241 3280.9 1241.5 3280.9 1242 3280.8 1242.5 3280.7 1243 3280.6 1243.5 3280.5 1244 3280.4 1244.5 3280.2 1245 3280.1 1245.5 3279.9 1246 3279.7 1246.5 3279.5 1247 3279.3 1247.5 3279.1 1248 3278.8 1248.5 3278.6 1249 3278.3 1249.5 3278 1250 3277.8 1250.5 3277.5 1251 3277.2 1251.5 3276.9 1252 3276.5 1252.5 3276.2 1253 3275.9 1253.5 3275.5 1254 3275.2 1254.5 3274.8 1255 3274.4 1255.5 3274 1256 3273.7 1256.5 3273.3 1257 3272.9 1257.5 3272.5 1258 3272.1 1258.5 3271.7 1259 3271.2 1259.5 3270.8 1260 3270.4 1260.5 3270 1261 3269.5 1261.5 3269.1 1262 3268.7 1262.5 3268.2 1263 3267.8 1263.5 3267.3 1264 3266.9 1264.5 3266.5 1265 3266 1265.5 3265.6 1266 3265.1 1266.5 3264.7 1267 3264.2 1267.5 3263.8 1268 3263.4 1268.5 3262.9 1269 3262.5 1269.5 3262 1270 3261.6 1270.5 3261.2 1271 3260.8 1271.5 3260.3 1272 3259.9 1272.5 3259.5 1273 3259.1 1273.5 3258.7 1274 3258.3 1274.5 3257.9 1275 3257.5 1275.5 3257.1 1276 3256.8 1276.5 3256.4 1277 3256.1 1277.5 3255.7 1278 3255.4 1278.5 3255 1279 3254.7 1279.5 3254.4 1280 3254.1 1280.5 3253.8 1281 3253.5 1281.5 3253.2 1282 3253 1282.5 3252.7 1283 3252.5 1283.5 3252.3 1284 3252 1284.5 3251.8 1285 3251.6 1285.5 3251.5 1286 3251.3 1286.5 3251.2 1287 3251 1287.5 3250.9 1288 3250.8 1288.5 3250.7 1289 3250.6 1289.5 3250.6 1290.5 3250.5 1293 3250.6 1293.5 3250.6 1294 3250.7 1294.5 3250.8 1295 3250.8 1295.5 3250.9 1296 3251 1296.5 3251.1 1297 3251.3 1297.5 3251.4 1298 3251.5 1298.5 3251.7 1299 3251.8 1299.5 3252 1300 3252.1 1300.5 3252.3 1301 3252.5 1301.5 3252.7 1302 3252.9 1302.5 3253.1 1303 3253.3 1303.5 3253.5 1304 3253.7 1304.5 3253.9 1305 3254.2 1305.5 3254.4 1306 3254.6 1306.5 3254.9 1307 3255.1 1307.5 3255.4 1308 3255.7 1308.5 3255.9 1309 3256.2 1309.5 3256.5 1310 3256.8 1310.5 3257 1311 3257.3 1311.5 3257.6 1312 3257.9 1312.5 3258.2 1313 3258.5 1313.5 3258.8 1314 3259.1 1314.5 3259.4 1315 3259.7 1315.5 3260 1316 3260.3 1316.5 3260.6 1317 3260.9 1317.5 3261.2 1318 3261.5 1318.5 3261.8 1319 3262.1 1319.5 3262.4 1320 3262.7 1320.5 3263 1321 3263.3 1321.5 3263.6 1322 3263.9 1322.5 3264.2 1323 3264.5 1323.5 3264.8 1324 3265.1 1324.5 3265.4 1325 3265.7 1325.5 3266 1326 3266.2 1326.5 3266.5 1327 3266.8 1327.5 3267.1 1328 3267.3 1328.5 3267.6 1329 3267.9 1329.5 3268.1 1330 3268.4 1330.5 3268.6 1331 3268.8 1331.5 3269.1 1332 3269.3 1332.5 3269.5 1333 3269.7 1333.5 3269.9 1334 3270.1 1334.5 3270.3 1335 3270.5 1335.5 3270.7 1336 3270.9 1336.5 3271 1337 3271.2 1337.5 3271.3 1338 3271.5 1338.5 3271.6 1339 3271.7 1339.5 3271.9 1340 3272 1340.5 3272.1 1341 3272.2 1341.5 3272.2 1342 3272.3 1342.5 3272.4 1343.5 3272.5 1348 3272.4 1348.5 3272.3 1349 3272.3 1349.5 3272.2 1350 3272.2 1350.5 3272.1 1351 3272 1351.5 3271.9 1352 3271.9 1352.5 3271.8 1353 3271.7 1353.5 3271.6 1354 3271.5 1354.5 3271.4 1355 3271.2 1355.5 3271.1 1356 3271 1356.5 3270.9 1357 3270.7 1357.5 3270.6 1358 3270.4 1358.5 3270.3 1359 3270.2 1359.5 3270 1360 3269.8 1360.5 3269.7 1361 3269.5 1361.5 3269.4 1362 3269.2 1362.5 3269 1363 3268.8 1363.5 3268.7 1364 3268.5 1364.5 3268.3 1365 3268.1 1365.5 3267.9 1366 3267.7 1366.5 3267.5 1367 3267.3 1367.5 3267.1 1368 3266.9 1368.5 3266.7 1369 3266.5 1369.5 3266.3 1370 3266.1 1370.5 3265.9 1371 3265.7 1371.5 3265.5 1372 3265.3 1372.5 3265.1 1373 3264.9 1373.5 3264.7 1374 3264.5 1374.5 3264.3 1375 3264.1 1375.5 3263.9 1376 3263.7 1376.5 3263.5 1377 3263.3 1377.5 3263.1 1378 3262.9 1378.5 3262.7 1379 3262.5 1379.5 3262.3 1380 3262.1 1380.5 3261.9 1381 3261.7 1381.5 3261.5 1382 3261.3 1382.5 3261.1 1383 3260.9 1383.5 3260.7 1384 3260.5 1384.5 3260.3 1385 3260.2 1385.5 3260 1386 3259.8 1386.5 3259.6 1387 3259.5 1387.5 3259.3 1388 3259.2 1388.5 3259 1389 3258.8 1389.5 3258.7 1390 3258.6 1390.5 3258.4 1391 3258.3 1391.5 3258.1 1392 3258 1392.5 3257.9 1393 3257.8 1393.5 3257.6 1394 3257.5 1394.5 3257.4 1395 3257.3 1395.5 3257.2 1396 3257.1 1396.5 3257.1 1397 3257 1397.5 3256.9 1398 3256.8 1398.5 3256.8 1399 3256.7 1399.5 3256.7 1400.5 3256.6 1401.5 3256.5 1405.5 3256.6 1406.5 3256.7 1407 3256.7 1407.5 3256.8 1408 3256.8 1408.5 3256.9 1409 3257 1409.5 3257 1410 3257.1 1410.5 3257.2 1411 3257.3 1411.5 3257.4 1412 3257.5 1412.5 3257.6 1413 3257.7 1413.5 3257.8 1414 3258 1414.5 3258.1 1415 3258.2 1415.5 3258.3 1416 3258.5 1416.5 3258.6 1417 3258.7 1417.5 3258.9 1418 3259 1418.5 3259.2 1419 3259.3 1419.5 3259.5 1420 3259.6 1420.5 3259.8 1421 3260 1421.5 3260.1 1422 3260.3 1422.5 3260.4 1423 3260.6 1423.5 3260.8 1424 3260.9 1424.5 3261.1 1425 3261.3 1425.5 3261.5 1426 3261.6 1426.5 3261.8 1427 3262 1427.5 3262.2 1428 3262.3 1428.5 3262.5 1429 3262.7 1429.5 3262.8 1430 3263 1430.5 3263.2 1431 3263.4 1431.5 3263.5 1432 3263.7 1432.5 3263.9 1433 3264 1433.5 3264.2 1434 3264.3 1434.5 3264.5 1435 3264.7 1435.5 3264.8 1436 3265 1436.5 3265.1 1437 3265.3 1437.5 3265.4 1438 3265.6 1438.5 3265.7 1439 3265.8 1439.5 3266 1440 3266.1 1440.5 3266.2 1441 3266.3 1441.5 3266.5 1442 3266.6 1442.5 3266.7 1443 3266.8 1443.5 3266.9 1444 3267 1444.5 3267.1 1445 3267.2 1445.5 3267.3 1446 3267.3 1446.5 3267.4 1447 3267.5 1447.5 3267.5 1448 3267.6 1449 3267.7 1450 3267.7 1451.5 3267.8 1455 3267.7 1456 3267.7 1457 3267.6 1458 3267.5 1458.5 3267.5 1459 3267.4 1459.5 3267.4 1460 3267.3 1460.5 3267.3 1461 3267.2 1461.5 3267.1 1462 3267.1 1462.5 3267 1463 3266.9 1463.5 3266.8 1464 3266.8 1464.5 3266.7 1465 3266.6 1465.5 3266.5 1466 3266.4 1466.5 3266.3 1467 3266.2 1467.5 3266.1 1468 3266.1 1468.5 3266 1469 3265.9 1469.5 3265.8 1470 3265.7 1470.5 3265.6 1471 3265.4 1471.5 3265.3 1472 3265.2 1472.5 3265.1 1473 3265 1473.5 3264.9 1474 3264.8 1474.5 3264.7 1475 3264.6 1475.5 3264.5 1476 3264.3 1476.5 3264.2 1477 3264.1 1477.5 3264 1478 3263.9 1478.5 3263.8 1479 3263.7 1479.5 3263.5 1480 3263.4 1480.5 3263.3 1481 3263.2 1481.5 3263.1 1482 3263 1482.5 3262.9 1483 3262.7 1483.5 3262.6 1484 3262.5 1484.5 3262.4 1485 3262.3 1485.5 3262.2 1486 3262.1 1486.5 3262 1487 3261.9 1487.5 3261.8 1488 3261.6 1488.5 3261.5 1489 3261.4 1489.5 3261.3 1490 3261.2 1490.5 3261.1 1491 3261.1 1491.5 3261 1492 3260.9 1492.5 3260.8 1493 3260.7 1493.5 3260.6 1494 3260.5 1494.5 3260.4 1495 3260.4 1495.5 3260.3 1496 3260.2 1496.5 3260.1 1497 3260.1 1497.5 3260 1498 3259.9 1498.5 3259.9 1499 3259.8 1499.5 3259.8 1500 3259.7 1501 3259.6 1502 3259.6 1503 3259.5 1504.5 3259.4 1510.5 3259.5 1511.5 3259.5 1512.5 3259.6 1513.5 3259.7 1514.5 3259.8 1515.5 3259.9 1516 3259.9 1516.5 3260 1517 3260 1517.5 3260.1 1518 3260.1 1518.5 3260.2 1519 3260.2 1519.5 3260.3 1520 3260.4 1520.5 3260.4 1521 3260.5 1521.5 3260.6 1522 3260.6 1522.5 3260.7 1523 3260.8 1523.5 3260.9 1524 3260.9 1524.5 3261 1525 3261.1 1525.5 3261.2 1526 3261.2 1526.5 3261.3 1527 3261.4 1527.5 3261.5 1528 3261.6 1528.5 3261.7 1529 3261.7 1529.5 3261.8 1530 3261.9 1530.5 3262 1531 3262.1 1531.5 3262.2 1532 3262.2 1532.5 3262.3 1533 3262.4 1533.5 3262.5 1534 3262.6 1534.5 3262.7 1535 3262.8 1535.5 3262.9 1536 3262.9 1536.5 3263 1537 3263.1 1537.5 3263.2 1538 3263.3 1538.5 3263.4 1539 3263.4 1539.5 3263.5 1540 3263.6 1540.5 3263.7 1541 3263.8 1541.5 3263.9 1542 3263.9 1542.5 3264 1543 3264.1 1543.5 3264.2 1544 3264.2 1544.5 3264.3 1545 3264.4 1545.5 3264.5 1546 3264.5 1546.5 3264.6 1547 3264.7 1547.5 3264.7 1548 3264.8 1548.5 3264.9 1549 3264.9 1549.5 3265 1550 3265 1550.5 3265.1 1551 3265.1 1551.5 3265.2 1552.5 3265.3 1553.5 3265.4 1554.5 3265.5 1555.5 3265.5 1556.5 3265.6 1558 3265.6 1560.5 3265.7 1564.5 3265.6 1566 3265.6 1567.5 3265.5 1568.5 3265.5 1569.5 3265.4 1570.5 3265.3 1571.5 3265.2 1572.5 3265.2 1573.5 3265.1 1574.5 3265 1575 3264.9 1575.5 3264.9 1576 3264.8 1576.5 3264.8 1577 3264.7 1577.5 3264.7 1578 3264.6 1578.5 3264.6 1579 3264.5 1579.5 3264.4 1580 3264.4 1580.5 3264.3 1581 3264.3 1581.5 3264.2 1582 3264.1 1582.5 3264.1 1583 3264 1583.5 3263.9 1584 3263.9 1584.5 3263.8 1585 3263.8 1585.5 3263.7 1586 3263.6 1586.5 3263.6 1587 3263.5 1587.5 3263.4 1588 3263.4 1588.5 3263.3 1589 3263.2 1589.5 3263.2 1590 3263.1 1590.5 3263 1591 3263 1591.5 3262.9 1592 3262.9 1592.5 3262.8 1593 3262.7 1593.5 3262.7 1594 3262.6 1594.5 3262.5 1595 3262.5 1595.5 3262.4 1596 3262.4 1596.5 3262.3 1597 3262.2 1597.5 3262.2 1598 3262.1 1598.5 3262.1 1599 3262 1599.5 3262 1600 3261.9 1600.5 3261.9 1601 3261.8 1601.5 3261.8 1602.5 3261.7 1603.5 3261.6 1604.5 3261.5 1605.5 3261.4 1606.5 3261.3 1607.5 3261.3 1608.5 3261.2 1609.5 3261.1 1611 3261.1 1613 3261 1620.5 3261.1 1622 3261.1 1623.5 3261.2 1624.5 3261.2 1625.5 3261.3 1626.5 3261.3 1627.5 3261.4 1628.5 3261.5 1629.5 3261.6 1630.5 3261.6 1631.5 3261.7 1632.5 3261.8 1633.5 3261.9 1634.5 3262 1635.5 3262.1 1636.5 3262.1 1637.5 3262.2 1638.5 3262.3 1639.5 3262.4 1640.5 3262.5 1641.5 3262.6 1642.5 3262.7 1643.5 3262.8 1644.5 3262.9 1645.5 3263 1646.5 3263.1 1647.5 3263.2 1648.5 3263.3 1649.5 3263.4 1650.5 3263.5 1651.5 3263.6 1652.5 3263.7 1653.5 3263.7 1654.5 3263.8 1655.5 3263.9 1656.5 3264 1657.5 3264 1658.5 3264.1 1659.5 3264.2 1660.5 3264.2 1661.5 3264.3 1663 3264.4 1664.5 3264.4 1666.5 3264.5 1676.5 3264.4 1678 3264.4 1679.5 3264.3 1681 3264.2 1682.5 3264.2 1683.5 3264.1 1684.5 3264.1 1685.5 3264 1686.5 3263.9 1687.5 3263.9 1688.5 3263.8 1689.5 3263.7 1690.5 3263.7 1691.5 3263.6 1692.5 3263.5 1693.5 3263.5 1694.5 3263.4 1695.5 3263.3 1696.5 3263.2 1697.5 3263.2 1698.5 3263.1 1699.5 3263 1700.5 3263 1701.5 3262.9 1702.5 3262.8 1703.5 3262.7 1704.5 3262.7 1705.5 3262.6 1706.5 3262.5 1707.5 3262.5 1708.5 3262.4 1709.5 3262.4 1710.5 3262.3 1711.5 3262.2 1712.5 3262.2 1714 3262.1 1715.5 3262.1 1717 3262 1719 3261.9 1721.5 3261.9 1731 3261.9 1733 3262 1735 3262.1 1736.5 3262.1 1738 3262.2 1739.5 3262.2 1741 3262.3 1742.5 3262.4 1744 3262.4 1745 3262.5 1746 3262.5 1747 3262.6 1748 3262.7 1749 3262.7 1750 3262.8 1751 3262.8 1752 3262.9 1753 3262.9 1754 3263 1755 3263 1756 3263.1 1757 3263.1 1758 3263.2 1759 3263.2 1760 3263.3 1761.5 3263.4 1763 3263.4 1764.5 3263.5 1766 3263.6 1767.5 3263.6 1769 3263.7 1771 3263.7 1773.5 3263.8 1777.5 3263.8 1785.5 3263.8 1788 3263.7 1790.5 3263.7 1792.5 3263.6 1794.5 3263.6 1796 3263.5 1797.5 3263.5 1799 3263.4 1800.5 3263.3 1802 3263.3 1803.5 3263.2 1805 3263.2 1806.5 3263.1 1808 3263 1809.5 3263 1811 3262.9 1812.5 3262.9 1814 3262.8 1815.5 3262.7 1817 3262.7 1818.5 3262.6 1820.5 3262.6 1822.5 3262.5 1825 3262.5 1828 3262.4 1843.5 3262.5 1846 3262.5 1848.5 3262.6 1850.5 3262.6 1852.5 3262.7 1854.5 3262.7 1856.5 3262.8 1858.5 3262.9 1860.5 3262.9 1862.5 3263 1864.5 3263 1866.5 3263.1 1868.5 3263.2 1870.5 3263.2 1872.5 3263.3 1875 3263.3 1877.5 3263.4 1880.5 3263.4 1885.5 3263.5 1897 3263.4 1900.5 3263.4 1903.5 3263.3 1906.5 3263.3 1909 3263.2 1911.5 3263.1 1914 3263.1 1916.5 3263 1919 3263 1921.5 3262.9 1924 3262.9 1926.5 3262.8 1929.5 3262.8 1933 3262.7 1938 3262.7 1957.5 3262.7 1963.5 3262.8 1969 3262.8 1974.5 3262.9 1980 3262.9 1987 3263 2053 3263" stroke="#FF6E00" stroke-dasharray="18.4 14.6 0.01 14.6"/>
<path d="M373 3263 654.5 3263 655 3262.8 655.5 3262.6 656 3262.4 656.5 3262.1 657 3261.9 657.5 3261.6 658 3261.4 658.5 3261.2 659 3261 659.5 3261 660 3261.3 660.5 3262.1 661 3263.3 661.5 3264.9 662 3266.8 662.5 3268.9 663 3271.2 663.5 3273.6 664 3276 664.5 3278.8 665 3282.3 665.5 3286.5 666 3291.3 666.5 3296.8 667 3302.9 667.5 3309.6 668 3316.8 668.5 3324.4 669 3332.6 669.5 3341.1 670 3350.1 670.5 3359.4 671 3369 671.5 3378.9 672 3389.1 672.5 3399.5 673 3410.1 673.5 3420.8 674 3431.6 674.5 3442.5 675 3453.5 675.5 3464.5 676 3475.4 676.5 3486.3 677 3497.1 677.5 3507.8 678 3518.3 678.5 3528.6 679 3538.7 679.5 3548.5 680 3558 680.5 3567.2 681 3576.1 681.5 3584.5 682 3592.5 682.5 3600 683 3607 683.5 3613.5 684 3619.4 684.5 3624.7 685 3629.4 685.5 3633.4 686 3636.6 686.5 3639.2 687 3640.9 687.5 3641.8 688 3642 688.5 3641.6 689 3640.9 689.5 3639.8 690 3638.3 690.5 3636.4 691 3634.2 691.5 3631.7 692 3628.8 692.5 3625.5 693 3622 693.5 3618.1 694 3613.9 694.5 3609.4 695 3604.6 695.5 3599.5 696 3594.2 696.5 3588.5 697 3582.6 697.5 3576.4 698 3570 698.5 3563.3 699 3556.4 699.5 3549.3 700 3541.9 700.5 3534.3 701 3526.5 701.5 3518.5 702 3510.3 702.5 3501.9 703 3493.3 703.5 3484.5 704 3475.6 704.5 3466.5 705 3457.3 705.5 3447.9 706 3438.4 706.5 3428.8 707 3419 707.5 3409.1 708 3399.1 708.5 3389 709 3378.8 709.5 3368.5 710 3358.2 710.5 3347.7 711 3337.2 711.5 3326.7 712 3316 712.5 3305.4 713 3294.7 713.5 3284 714 3273.2 714.5 3262.4 715 3251.7 715.5 3240.9 716 3230.1 716.5 3219.4 717 3208.7 717.5 3198 718 3187.3 718.5 3176.7 719 3166.1 719.5 3155.6 720 3145.1 720.5 3134.7 721 3124.4 721.5 3114.2 722 3104.1 722.5 3094.1 723 3084.2 723.5 3074.4 724 3064.7 724.5 3055.2 725 3045.8 725.5 3036.5 726 3027.4 726.5 3018.4 727 3009.6 727.5 3001 728 2992.6 728.5 2984.4 729 2976.3 729.5 2968.5 730 2960.8 730.5 2953.4 731 2946.2 731.5 2939.2 732 2932.5 732.5 2926 733 2919.8 733.5 2913.8 734 2908.1 734.5 2902.7 735 2897.6 735.5 2892.7 736 2888.2 736.5 2883.9 737 2880 737.5 2876.3 738 2873 738.5 2870.1 739 2867.5 739.5 2865.2 740 2863.3 740.5 2861.7 741 2860.5 741.5 2859.7 742 2859.3 742.5 2859.2 743 2859.5 743.5 2860 744 2860.8 744.5 2861.8 745 2863.1 745.5 2864.7 746 2866.5 746.5 2868.5 747 2870.8 747.5 2873.3 748 2876.1 748.5 2879 749 2882.2 749.5 2885.6 750 2889.2 750.5 2893.1 751 2897.1 751.5 2901.3 752 2905.7 752.5 2910.3 753 2915 753.5 2920 754 2925.1 754.5 2930.4 755 2935.8 755.5 2941.4 756 2947.2 756.5 2953.1 757 2959.1 757.5 2965.3 758 2971.6 758.5 2978.1 759 2984.6 759.5 2991.3 760 2998.1 760.5 3005 761 3012 761.5 3019.1 762 3026.3 762.5 3033.6 763 3041 763.5 3048.5 764 3056 764.5 3063.6 765 3071.3 765.5 3079.1 766 3086.9 766.5 3094.7 767 3102.6 767.5 3110.6 768 3118.5 768.5 3126.5 769 3134.6 769.5 3142.7 770 3150.7 770.5 3158.8 771 3166.9 771.5 3175 772 3183.2 772.5 3191.3 773 3199.4 773.5 3207.4 774 3215.5 774.5 3223.6 775 3231.6 775.5 3239.5 776 3247.5 776.5 3255.4 777 3263.2 777.5 3271 778 3278.8 778.5 3286.5 779 3294.1 779.5 3301.6 780 3309.1 780.5 3316.5 781 3323.8 781.5 3331 782 3338.1 782.5 3345.1 783 3352 783.5 3358.8 784 3365.5 784.5 3372 785 3378.5 785.5 3384.8 786 3391 786.5 3397 787 3402.9 787.5 3408.7 788 3414.3 788.5 3419.7 789 3425 789.5 3430.1 790 3435.1 790.5 3439.8 791 3444.4 791.5 3448.8 792 3453 792.5 3457 793 3460.9 793.5 3464.5 794 3467.9 794.5 3471.1 795 3474 795.5 3476.8 796 3479.3 796.5 3481.6 797 3483.6 797.5 3485.4 798 3487 798.5 3488.3 799 3489.3 799.5 3490.1 800 3490.6 800.5 3490.9 801 3490.9 801.5 3490.6 802 3490.2 802.5 3489.5 803 3488.6 803.5 3487.5 804 3486.2 804.5 3484.7 805 3483 805.5 3481.1 806 3479.1 806.5 3476.9 807 3474.4 807.5 3471.8 808 3469.1 808.5 3466.2 809 3463.1 809.5 3459.9 810 3456.5 810.5 3453 811 3449.3 811.5 3445.5 812 3441.5 812.5 3437.5 813 3433.3 813.5 3428.9 814 3424.5 814.5 3420 815 3415.3 815.5 3410.5 816 3405.7 816.5 3400.7 817 3395.7 817.5 3390.5 818 3385.3 818.5 3380 819 3374.7 819.5 3369.2 820 3363.7 820.5 3358.1 821 3352.5 821.5 3346.8 822 3341.1 822.5 3335.3 823 3329.5 823.5 3323.7 824 3317.8 824.5 3311.9 825 3305.9 825.5 3300 826 3294 826.5 3288 827 3282 827.5 3276.1 828 3270.1 828.5 3264.1 829 3258.1 829.5 3252.2 830 3246.2 830.5 3240.3 831 3234.4 831.5 3228.6 832 3222.7 832.5 3216.9 833 3211.2 833.5 3205.5 834 3199.9 834.5 3194.3 835 3188.8 835.5 3183.3 836 3177.9 836.5 3172.6 837 3167.4 837.5 3162.2 838 3157.2 838.5 3152.2 839 3147.3 839.5 3142.5 840 3137.9 840.5 3133.3 841 3128.8 841.5 3124.5 842 3120.3 842.5 3116.2 843 3112.2 843.5 3108.4 844 3104.7 844.5 3101.1 845 3097.7 845.5 3094.4 846 3091.3 846.5 3088.4 847 3085.6 847.5 3083 848 3080.5 848.5 3078.2 849 3076.1 849.5 3074.2 850 3072.5 850.5 3071 851 3069.7 851.5 3068.5 852 3067.6 852.5 3066.9 853 3066.4 853.5 3066.1 854 3066 854.5 3066.1 855 3066.3 855.5 3066.7 856 3067.3 856.5 3067.9 857 3068.7 857.5 3069.6 858 3070.7 858.5 3071.8 859 3073.1 859.5 3074.6 860 3076.1 860.5 3077.7 861 3079.5 861.5 3081.4 862 3083.4 862.5 3085.4 863 3087.6 863.5 3089.9 864 3092.3 864.5 3094.8 865 3097.4 865.5 3100 866 3102.8 866.5 3105.6 867 3108.5 867.5 3111.5 868 3114.6 868.5 3117.7 869 3121 869.5 3124.2 870 3127.6 870.5 3131 871 3134.5 871.5 3138.1 872 3141.7 872.5 3145.3 873 3149 873.5 3152.8 874 3156.6 874.5 3160.4 875 3164.3 875.5 3168.3 876 3172.2 876.5 3176.2 877 3180.3 877.5 3184.3 878 3188.4 878.5 3192.5 879 3196.7 879.5 3200.8 880 3205 880.5 3209.2 881 3213.4 881.5 3217.6 882 3221.8 882.5 3226 883 3230.3 883.5 3234.5 884 3238.7 884.5 3242.9 885 3247.1 885.5 3251.3 886 3255.5 886.5 3259.7 887 3263.8 887.5 3267.9 888 3272 888.5 3276.1 889 3280.2 889.5 3284.2 890 3288.2 890.5 3292.1 891 3296 891.5 3299.9 892 3303.7 892.5 3307.5 893 3311.2 893.5 3314.9 894 3318.5 894.5 3322.1 895 3325.6 895.5 3329 896 3332.4 896.5 3335.7 897 3339 897.5 3342.2 898 3345.3 898.5 3348.3 899 3351.2 899.5 3354.1 900 3356.9 900.5 3359.6 901 3362.2 901.5 3364.7 902 3367.1 902.5 3369.5 903 3371.7 903.5 3373.8 904 3375.8 904.5 3377.8 905 3379.6 905.5 3381.3 906 3382.8 906.5 3384.3 907 3385.7 907.5 3386.9 908 3388 908.5 3388.9 909 3389.8 909.5 3390.5 910 3391.1 910.5 3391.5 911 3391.8 911.5 3392 912 3392 912.5 3391.9 913 3391.6 913.5 3391.3 914 3390.8 914.5 3390.2 915 3389.5 915.5 3388.6 916 3387.7 916.5 3386.7 917 3385.5 917.5 3384.3 918 3382.9 918.5 3381.4 919 3379.9 919.5 3378.2 920 3376.5 920.5 3374.7 921 3372.8 921.5 3370.8 922 3368.7 922.5 3366.6 923 3364.3 923.5 3362 924 3359.7 924.5 3357.2 925 3354.7 925.5 3352.1 926 3349.5 926.5 3346.8 927 3344.1 927.5 3341.3 928 3338.4 928.5 3335.5 929 3332.6 929.5 3329.6 930 3326.5 930.5 3323.4 931 3320.3 931.5 3317.2 932 3314 932.5 3310.8 933 3307.6 933.5 3304.3 934 3301 934.5 3297.7 935 3294.4 935.5 3291.1 936 3287.7 936.5 3284.3 937 3281 937.5 3277.6 938 3274.2 938.5 3270.9 939 3267.5 939.5 3264.1 940 3260.8 940.5 3257.4 941 3254.1 941.5 3250.8 942 3247.4 942.5 3244.2 943 3240.9 943.5 3237.6 944 3234.4 944.5 3231.2 945 3228.1 945.5 3225 946 3221.9 946.5 3218.8 947 3215.8 947.5 3212.9 948 3210 948.5 3207.1 949 3204.3 949.5 3201.5 950 3198.8 950.5 3196.2 951 3193.6 951.5 3191.1 952 3188.6 952.5 3186.2 953 3183.9 953.5 3181.7 954 3179.5 954.5 3177.4 955 3175.4 955.5 3173.5 956 3171.6 956.5 3169.9 957 3168.2 957.5 3166.7 958 3165.2 958.5 3163.8 959 3162.5 959.5 3161.4 960 3160.3 960.5 3159.3 961 3158.5 961.5 3157.7 962 3157.1 962.5 3156.6 963 3156.2 963.5 3156 964 3155.8 964.5 3155.8 965 3155.9 965.5 3156 966 3156.2 966.5 3156.5 967 3156.9 967.5 3157.4 968 3157.9 968.5 3158.5 969 3159.1 969.5 3159.8 970 3160.6 970.5 3161.5 971 3162.4 971.5 3163.3 972 3164.4 972.5 3165.5 973 3166.6 973.5 3167.8 974 3169.1 974.5 3170.4 975 3171.7 975.5 3173.1 976 3174.6 976.5 3176.1 977 3177.6 977.5 3179.2 978 3180.9 978.5 3182.6 979 3184.3 979.5 3186 980 3187.8 980.5 3189.7 981 3191.5 981.5 3193.4 982 3195.4 982.5 3197.3 983 3199.3 983.5 3201.4 984 3203.4 984.5 3205.5 985 3207.6 985.5 3209.7 986 3211.8 986.5 3214 987 3216.2 987.5 3218.4 988 3220.6 988.5 3222.8 989 3225.1 989.5 3227.3 990 3229.6 990.5 3231.9 991 3234.1 991.5 3236.4 992 3238.7 992.5 3241 993 3243.3 993.5 3245.6 994 3247.9 994.5 3250.2 995 3252.5 995.5 3254.8 996 3257.1 996.5 3259.4 997 3261.6 997.5 3263.9 998 3266.1 998.5 3268.4 999 3270.6 999.5 3272.8 1000 3275 1000.5 3277.1 1001 3279.3 1001.5 3281.4 1002 3283.5 1002.5 3285.6 1003 3287.6 1003.5 3289.7 1004 3291.7 1004.5 3293.6 1005 3295.6 1005.5 3297.5 1006 3299.4 1006.5 3301.2 1007 3303 1007.5 3304.8 1008 3306.5 1008.5 3308.2 1009 3309.8 1009.5 3311.4 1010 3313 1010.5 3314.5 1011 3316 1011.5 3317.4 1012 3318.8 1012.5 3320.1 1013 3321.4 1013.5 3322.6 1014 3323.7 1014.5 3324.8 1015 3325.9 1015.5 3326.8 1016 3327.8 1016.5 3328.6 1017 3329.4 1017.5 3330.1 1018 3330.8 1018.5 3331.4 1019 3331.9 1019.5 3332.4 1020 3332.8 1020.5 3333.1 1021 3333.3 1021.5 3333.5 1022 3333.6 1022.5 3333.6 1023 3333.5 1023.5 3333.4 1024 3333.2 1024.5 3332.9 1025 3332.6 1025.5 3332.2 1026 3331.7 1026.5 3331.2 1027 3330.6 1027.5 3329.9 1028 3329.2 1028.5 3328.5 1029 3327.7 1029.5 3326.8 1030 3325.9 1030.5 3324.9 1031 3323.9 1031.5 3322.8 1032 3321.7 1032.5 3320.5 1033 3319.3 1033.5 3318.1 1034 3316.8 1034.5 3315.4 1035 3314.1 1035.5 3312.7 1036 3311.2 1036.5 3309.8 1037 3308.3 1037.5 3306.7 1038 3305.2 1038.5 3303.6 1039 3301.9 1039.5 3300.3 1040 3298.6 1040.5 3296.9 1041 3295.2 1041.5 3293.5 1042 3291.7 1042.5 3290 1043 3288.2 1043.5 3286.4 1044 3284.6 1044.5 3282.8 1045 3280.9 1045.5 3279.1 1046 3277.2 1046.5 3275.4 1047 3273.5 1047.5 3271.7 1048 3269.8 1048.5 3268 1049 3266.1 1049.5 3264.2 1050 3262.4 1050.5 3260.5 1051 3258.7 1051.5 3256.9 1052 3255.1 1052.5 3253.3 1053 3251.5 1053.5 3249.7 1054 3247.9 1054.5 3246.2 1055 3244.4 1055.5 3242.7 1056 3241 1056.5 3239.4 1057 3237.7 1057.5 3236.1 1058 3234.5 1058.5 3233 1059 3231.4 1059.5 3229.9 1060 3228.5 1060.5 3227 1061 3225.7 1061.5 3224.3 1062 3223 1062.5 3221.7 1063 3220.4 1063.5 3219.3 1064 3218.1 1064.5 3217 1065 3215.9 1065.5 3214.9 1066 3213.9 1066.5 3213 1067 3212.2 1067.5 3211.4 1068 3210.6 1068.5 3209.9 1069 3209.3 1069.5 3208.7 1070 3208.2 1070.5 3207.7 1071 3207.3 1071.5 3207 1072 3206.8 1072.5 3206.6 1073 3206.5 1073.5 3206.4 1074 3206.4 1074.5 3206.5 1075 3206.6 1075.5 3206.7 1076 3207 1076.5 3207.2 1077 3207.5 1077.5 3207.8 1078 3208.2 1078.5 3208.6 1079 3209.1 1079.5 3209.6 1080 3210.1 1080.5 3210.7 1081 3211.3 1081.5 3212 1082 3212.7 1082.5 3213.4 1083 3214.1 1083.5 3214.9 1084 3215.7 1084.5 3216.6 1085 3217.4 1085.5 3218.3 1086 3219.3 1086.5 3220.2 1087 3221.2 1087.5 3222.2 1088 3223.2 1088.5 3224.3 1089 3225.4 1089.5 3226.5 1090 3227.6 1090.5 3228.7 1091 3229.9 1091.5 3231 1092 3232.2 1092.5 3233.4 1093 3234.6 1093.5 3235.9 1094 3237.1 1094.5 3238.3 1095 3239.6 1095.5 3240.9 1096 3242.1 1096.5 3243.4 1097 3244.7 1097.5 3246 1098 3247.3 1098.5 3248.6 1099 3249.9 1099.5 3251.3 1100 3252.6 1100.5 3253.9 1101 3255.2 1101.5 3256.5 1102 3257.8 1102.5 3259.1 1103 3260.4 1103.5 3261.7 1104 3263 1104.5 3264.3 1105 3265.5 1105.5 3266.8 1106 3268.1 1106.5 3269.3 1107 3270.5 1107.5 3271.7 1108 3272.9 1108.5 3274.1 1109 3275.3 1109.5 3276.5 1110 3277.6 1110.5 3278.7 1111 3279.8 1111.5 3280.9 1112 3281.9 1112.5 3283 1113 3284 1113.5 3285 1114 3285.9 1114.5 3286.9 1115 3287.8 1115.5 3288.7 1116 3289.5 1116.5 3290.3 1117 3291.1 1117.5 3291.9 1118 3292.6 1118.5 3293.3 1119 3293.9 1119.5 3294.6 1120 3295.1 1120.5 3295.7 1121 3296.2 1121.5 3296.7 1122 3297.1 1122.5 3297.5 1123 3297.8 1123.5 3298.1 1124 3298.4 1124.5 3298.6 1125 3298.8 1125.5 3298.9 1126 3299 1127 3299 1127.5 3298.9 1128 3298.8 1128.5 3298.7 1129 3298.5 1129.5 3298.3 1130 3298.1 1130.5 3297.8 1131 3297.5 1131.5 3297.2 1132 3296.8 1132.5 3296.4 1133 3295.9 1133.5 3295.5 1134 3295 1134.5 3294.5 1135 3293.9 1135.5 3293.4 1136 3292.8 1136.5 3292.1 1137 3291.5 1137.5 3290.8 1138 3290.1 1138.5 3289.4 1139 3288.7 1139.5 3288 1140 3287.2 1140.5 3286.4 1141 3285.6 1141.5 3284.8 1142 3284 1142.5 3283.1 1143 3282.2 1143.5 3281.4 1144 3280.5 1144.5 3279.6 1145 3278.7 1145.5 3277.7 1146 3276.8 1146.5 3275.9 1147 3274.9 1147.5 3274 1148 3273 1148.5 3272.1 1149 3271.1 1149.5 3270.1 1150 3269.1 1150.5 3268.2 1151 3267.2 1151.5 3266.2 1152 3265.2 1152.5 3264.3 1153 3263.3 1153.5 3262.3 1154 3261.4 1154.5 3260.4 1155 3259.4 1155.5 3258.5 1156 3257.5 1156.5 3256.6 1157 3255.7 1157.5 3254.8 1158 3253.9 1158.5 3253 1159 3252.1 1159.5 3251.2 1160 3250.4 1160.5 3249.5 1161 3248.7 1161.5 3247.9 1162 3247.1 1162.5 3246.3 1163 3245.5 1163.5 3244.8 1164 3244.1 1164.5 3243.4 1165 3242.7 1165.5 3242 1166 3241.4 1166.5 3240.8 1167 3240.2 1167.5 3239.6 1168 3239.1 1168.5 3238.6 1169 3238.1 1169.5 3237.7 1170 3237.3 1170.5 3236.9 1171 3236.5 1171.5 3236.2 1172 3235.9 1172.5 3235.6 1173 3235.4 1173.5 3235.2 1174 3235.1 1174.5 3234.9 1175 3234.9 1177 3234.9 1177.5 3234.9 1178 3235 1178.5 3235.1 1179 3235.2 1179.5 3235.3 1180 3235.4 1180.5 3235.6 1181 3235.7 1181.5 3235.9 1182 3236.1 1182.5 3236.3 1183 3236.5 1183.5 3236.8 1184 3237 1184.5 3237.3 1185 3237.6 1185.5 3237.9 1186 3238.2 1186.5 3238.5 1187 3238.8 1187.5 3239.2 1188 3239.5 1188.5 3239.9 1189 3240.3 1189.5 3240.7 1190 3241.1 1190.5 3241.5 1191 3241.9 1191.5 3242.3 1192 3242.7 1192.5 3243.2 1193 3243.6 1193.5 3244.1 1194 3244.6 1194.5 3245 1195 3245.5 1195.5 3246 1196 3246.5 1196.5 3247 1197 3247.5 1197.5 3248.1 1198 3248.6 1198.5 3249.1 1199 3249.6 1199.5 3250.2 1200 3250.7 1200.5 3251.3 1201 3251.8 1201.5 3252.4 1202 3253 1202.5 3253.5 1203 3254.1 1203.5 3254.7 1204 3255.2 1204.5 3255.8 1205 3256.4 1205.5 3256.9 1206 3257.5 1206.5 3258.1 1207 3258.7 1207.5 3259.3 1208 3259.8 1208.5 3260.4 1209 3261 1209.5 3261.6 1210 3262.2 1210.5 3262.7 1211 3263.3 1211.5 3263.9 1212 3264.5 1212.5 3265 1213 3265.6 1213.5 3266.2 1214 3266.7 1214.5 3267.3 1215 3267.8 1215.5 3268.4 1216 3268.9 1216.5 3269.5 1217 3270 1217.5 3270.5 1218 3271 1218.5 3271.6 1219 3272.1 1219.5 3272.6 1220 3273.1 1220.5 3273.6 1221 3274.1 1221.5 3274.5 1222 3275 1222.5 3275.5 1223 3275.9 1223.5 3276.4 1224 3276.8 1224.5 3277.2 1225 3277.6 1225.5 3278 1226 3278.4 1226.5 3278.8 1227 3279.2 1227.5 3279.5 1228 3279.9 1228.5 3280.2 1229 3280.6 1229.5 3280.9 1230 3281.2 1230.5 3281.5 1231 3281.7 1231.5 3282 1232 3282.3 1232.5 3282.5 1233 3282.7 1233.5 3282.9 1234 3283.1 1234.5 3283.3 1235 3283.5 1235.5 3283.6 1236 3283.7 1236.5 3283.9 1237 3284 1237.5 3284 1238 3284.1 1239 3284.2 1241 3284.1 1241.5 3284.1 1242 3284 1242.5 3283.9 1243 3283.7 1243.5 3283.6 1244 3283.5 1244.5 3283.3 1245 3283.1 1245.5 3282.9 1246 3282.7 1246.5 3282.4 1247 3282.2 1247.5 3281.9 1248 3281.6 1248.5 3281.3 1249 3281 1249.5 3280.7 1250 3280.4 1250.5 3280 1251 3279.7 1251.5 3279.3 1252 3278.9 1252.5 3278.6 1253 3278.2 1253.5 3277.7 1254 3277.3 1254.5 3276.9 1255 3276.5 1255.5 3276 1256 3275.6 1256.5 3275.1 1257 3274.6 1257.5 3274.2 1258 3273.7 1258.5 3273.2 1259 3272.7 1259.5 3272.2 1260 3271.7 1260.5 3271.2 1261 3270.7 1261.5 3270.2 1262 3269.7 1262.5 3269.2 1263 3268.7 1263.5 3268.1 1264 3267.6 1264.5 3267.1 1265 3266.6 1265.5 3266 1266 3265.5 1266.5 3265 1267 3264.5 1267.5 3264 1268 3263.4 1268.5 3262.9 1269 3262.4 1269.5 3261.9 1270 3261.4 1270.5 3260.9 1271 3260.4 1271.5 3259.9 1272 3259.4 1272.5 3258.9 1273 3258.4 1273.5 3258 1274 3257.5 1274.5 3257 1275 3256.6 1275.5 3256.1 1276 3255.7 1276.5 3255.3 1277 3254.8 1277.5 3254.4 1278 3254 1278.5 3253.6 1279 3253.3 1279.5 3252.9 1280 3252.5 1280.5 3252.2 1281 3251.8 1281.5 3251.5 1282 3251.2 1282.5 3250.9 1283 3250.6 1283.5 3250.4 1284 3250.1 1284.5 3249.9 1285 3249.7 1285.5 3249.4 1286 3249.3 1286.5 3249.1 1287 3248.9 1287.5 3248.8 1288 3248.7 1288.5 3248.5 1289 3248.5 1289.5 3248.4 1290.5 3248.3 1293 3248.4 1293.5 3248.5 1294 3248.5 1294.5 3248.6 1295 3248.7 1295.5 3248.8 1296 3248.9 1296.5 3249.1 1297 3249.2 1297.5 3249.3 1298 3249.5 1298.5 3249.7 1299 3249.8 1299.5 3250 1300 3250.2 1300.5 3250.4 1301 3250.6 1301.5 3250.9 1302 3251.1 1302.5 3251.3 1303 3251.6 1303.5 3251.8 1304 3252.1 1304.5 3252.4 1305 3252.6 1305.5 3252.9 1306 3253.2 1306.5 3253.5 1307 3253.8 1307.5 3254.1 1308 3254.4 1308.5 3254.7 1309 3255 1309.5 3255.4 1310 3255.7 1310.5 3256 1311 3256.4 1311.5 3256.7 1312 3257 1312.5 3257.4 1313 3257.7 1313.5 3258.1 1314 3258.4 1314.5 3258.8 1315 3259.1 1315.5 3259.5 1316 3259.9 1316.5 3260.2 1317 3260.6 1317.5 3260.9 1318 3261.3 1318.5 3261.7 1319 3262 1319.5 3262.4 1320 3262.7 1320.5 3263.1 1321 3263.5 1321.5 3263.8 1322 3264.2 1322.5 3264.5 1323 3264.9 1323.5 3265.2 1324 3265.6 1324.5 3265.9 1325 3266.2 1325.5 3266.6 1326 3266.9 1326.5 3267.2 1327 3267.6 1327.5 3267.9 1328 3268.2 1328.5 3268.5 1329 3268.8 1329.5 3269.1 1330 3269.4 1330.5 3269.7 1331 3270 1331.5 3270.2 1332 3270.5 1332.5 3270.8 1333 3271 1333.5 3271.3 1334 3271.5 1334.5 3271.7 1335 3272 1335.5 3272.2 1336 3272.4 1336.5 3272.6 1337 3272.8 1337.5 3272.9 1338 3273.1 1338.5 3273.3 1339 3273.4 1339.5 3273.5 1340 3273.7 1340.5 3273.8 1341 3273.9 1341.5 3274 1342 3274.1 1342.5 3274.1 1343 3274.2 1344 3274.3 1347.5 3274.2 1348.5 3274.1 1349 3274.1 1349.5 3274 1350 3273.9 1350.5 3273.9 1351 3273.8 1351.5 3273.7 1352 3273.6 1352.5 3273.5 1353 3273.4 1353.5 3273.3 1354 3273.2 1354.5 3273.1 1355 3272.9 1355.5 3272.8 1356 3272.7 1356.5 3272.5 1357 3272.4 1357.5 3272.2 1358 3272.1 1358.5 3271.9 1359 3271.8 1359.5 3271.6 1360 3271.4 1360.5 3271.2 1361 3271.1 1361.5 3270.9 1362 3270.7 1362.5 3270.5 1363 3270.3 1363.5 3270.1 1364 3269.9 1364.5 3269.7 1365 3269.5 1365.5 3269.3 1366 3269.1 1366.5 3268.9 1367 3268.7 1367.5 3268.5 1368 3268.2 1368.5 3268 1369 3267.8 1369.5 3267.6 1370 3267.3 1370.5 3267.1 1371 3266.9 1371.5 3266.7 1372 3266.4 1372.5 3266.2 1373 3266 1373.5 3265.7 1374 3265.5 1374.5 3265.3 1375 3265 1375.5 3264.8 1376 3264.6 1376.5 3264.3 1377 3264.1 1377.5 3263.9 1378 3263.6 1378.5 3263.4 1379 3263.2 1379.5 3262.9 1380 3262.7 1380.5 3262.5 1381 3262.3 1381.5 3262 1382 3261.8 1382.5 3261.6 1383 3261.4 1383.5 3261.2 1384 3260.9 1384.5 3260.7 1385 3260.5 1385.5 3260.3 1386 3260.1 1386.5 3259.9 1387 3259.7 1387.5 3259.5 1388 3259.3 1388.5 3259.1 1389 3258.9 1389.5 3258.7 1390 3258.6 1390.5 3258.4 1391 3258.2 1391.5 3258 1392 3257.9 1392.5 3257.7 1393 3257.6 1393.5 3257.4 1394 3257.3 1394.5 3257.1 1395 3257 1395.5 3256.8 1396 3256.7 1396.5 3256.6 1397 3256.5 1397.5 3256.4 1398 3256.3 1398.5 3256.2 1399 3256.1 1399.5 3256 1400 3255.9 1400.5 3255.8 1401 3255.7 1401.5 3255.7 1402 3255.6 1402.5 3255.6 1403.5 3255.5 1404.5 3255.4 1408 3255.5 1408.5 3255.5 1409 3255.6 1409.5 3255.7 1410 3255.7 1410.5 3255.8 1411 3255.9 1411.5 3256 1412 3256.1 1412.5 3256.2 1413 3256.3 1413.5 3256.4 1414 3256.6 1414.5 3256.7 1415 3256.8 1415.5 3257 1416 3257.1 1416.5 3257.3 1417 3257.4 1417.5 3257.6 1418 3257.8 1418.5 3258 1419 3258.1 1419.5 3258.3 1420 3258.5 1420.5 3258.7 1421 3258.9 1421.5 3259.1 1422 3259.3 1422.5 3259.5 1423 3259.7 1423.5 3259.9 1424 3260.1 1424.5 3260.3 1425 3260.5 1425.5 3260.8 1426 3261 1426.5 3261.2 1427 3261.4 1427.5 3261.6 1428 3261.8 1428.5 3262.1 1429 3262.3 1429.5 3262.5 1430 3262.7 1430.5 3262.9 1431 3263.1 1431.5 3263.4 1432 3263.6 1432.5 3263.8 1433 3264 1433.5 3264.2 1434 3264.4 1434.5 3264.6 1435 3264.8 1435.5 3265 1436 3265.2 1436.5 3265.4 1437 3265.6 1437.5 3265.8 1438 3265.9 1438.5 3266.1 1439 3266.3 1439.5 3266.5 1440 3266.6 1440.5 3266.8 1441 3266.9 1441.5 3267.1 1442 3267.2 1442.5 3267.3 1443 3267.5 1443.5 3267.6 1444 3267.7 1444.5 3267.8 1445 3267.9 1445.5 3268 1446 3268.1 1446.5 3268.2 1447 3268.2 1447.5 3268.3 1448 3268.4 1449 3268.4 1450.5 3268.5 1453.5 3268.4 1454.5 3268.4 1455.5 3268.3 1456.5 3268.2 1457 3268.2 1457.5 3268.1 1458 3268.1 1458.5 3268 1459 3268 1459.5 3267.9 1460 3267.8 1460.5 3267.8 1461 3267.7 1461.5 3267.6 1462 3267.5 1462.5 3267.5 1463 3267.4 1463.5 3267.3 1464 3267.2 1464.5 3267.1 1465 3267 1465.5 3266.9 1466 3266.8 1466.5 3266.7 1467 3266.6 1467.5 3266.5 1468 3266.4 1468.5 3266.3 1469 3266.2 1469.5 3266.1 1470 3266 1470.5 3265.9 1471 3265.8 1471.5 3265.7 1472 3265.6 1472.5 3265.4 1473 3265.3 1473.5 3265.2 1474 3265.1 1474.5 3265 1475 3264.9 1475.5 3264.7 1476 3264.6 1476.5 3264.5 1477 3264.4 1477.5 3264.3 1478 3264.2 1478.5 3264 1479 3263.9 1479.5 3263.8 1480 3263.7 1480.5 3263.6 1481 3263.4 1481.5 3263.3 1482 3263.2 1482.5 3263.1 1483 3263 1483.5 3262.9 1484 3262.8 1484.5 3262.7 1485 3262.5 1485.5 3262.4 1486 3262.3 1486.5 3262.2 1487 3262.1 1487.5 3262 1488 3261.9 1488.5 3261.8 1489 3261.7 1489.5 3261.6 1490 3261.5 1490.5 3261.4 1491 3261.3 1491.5 3261.2 1492 3261.2 1492.5 3261.1 1493 3261 1493.5 3260.9 1494 3260.8 1494.5 3260.8 1495 3260.7 1495.5 3260.6 1496 3260.6 1496.5 3260.5 1497 3260.4 1497.5 3260.4 1498 3260.3 1499 3260.2 1500 3260.2 1501 3260.1 1502.5 3260 1509 3260.1 1510.5 3260.2 1511.5 3260.2 1512.5 3260.3 1513.5 3260.4 1514.5 3260.5 1515.5 3260.5 1516.5 3260.6 1517 3260.7 1517.5 3260.7 1518 3260.8 1518.5 3260.9 1519 3260.9 1519.5 3261 1520 3261 1520.5 3261.1 1521 3261.1 1521.5 3261.2 1522 3261.3 1522.5 3261.3 1523 3261.4 1523.5 3261.5 1524 3261.5 1524.5 3261.6 1525 3261.7 1525.5 3261.7 1526 3261.8 1526.5 3261.9 1527 3261.9 1527.5 3262 1528 3262.1 1528.5 3262.1 1529 3262.2 1529.5 3262.3 1530 3262.3 1530.5 3262.4 1531 3262.5 1531.5 3262.6 1532 3262.6 1532.5 3262.7 1533 3262.8 1533.5 3262.9 1534 3262.9 1534.5 3263 1535 3263.1 1535.5 3263.1 1536 3263.2 1536.5 3263.3 1537 3263.3 1537.5 3263.4 1538 3263.5 1538.5 3263.5 1539 3263.6 1539.5 3263.7 1540 3263.7 1540.5 3263.8 1541 3263.9 1541.5 3263.9 1542 3264 1542.5 3264.1 1543 3264.1 1543.5 3264.2 1544 3264.2 1544.5 3264.3 1545 3264.3 1545.5 3264.4 1546 3264.5 1546.5 3264.5 1547.5 3264.6 1548.5 3264.7 1549.5 3264.8 1550.5 3264.9 1551.5 3264.9 1552.5 3265 1553.5 3265.1 1555 3265.1 1557 3265.2 1563.5 3265.1 1565 3265.1 1566.5 3265 1567.5 3264.9 1568.5 3264.9 1569.5 3264.8 1570.5 3264.8 1571.5 3264.7 1572.5 3264.6 1573.5 3264.5 1574.5 3264.4 1575.5 3264.4 1576.5 3264.3 1577.5 3264.2 1578.5 3264.1 1579.5 3264 1580 3263.9 1580.5 3263.9 1581 3263.8 1581.5 3263.8 1582 3263.7 1582.5 3263.7 1583 3263.6 1583.5 3263.6 1584 3263.5 1584.5 3263.5 1585 3263.4 1585.5 3263.4 1586 3263.3 1586.5 3263.2 1587 3263.2 1587.5 3263.1 1588 3263.1 1588.5 3263 1589 3263 1589.5 3262.9 1590 3262.9 1590.5 3262.8 1591 3262.8 1591.5 3262.7 1592 3262.7 1592.5 3262.6 1593.5 3262.5 1594.5 3262.4 1595.5 3262.3 1596.5 3262.2 1597.5 3262.2 1598.5 3262.1 1599.5 3262 1600.5 3261.9 1601.5 3261.8 1602.5 3261.8 1603.5 3261.7 1604.5 3261.6 1605.5 3261.6 1606.5 3261.5 1608 3261.5 1609.5 3261.4 1612 3261.4 1618.5 3261.4 1620.5 3261.5 1622 3261.5 1623.5 3261.6 1625 3261.7 1626 3261.7 1627 3261.8 1628 3261.9 1629 3261.9 1630 3262 1631 3262.1 1632 3262.1 1633 3262.2 1634 3262.3 1635 3262.3 1636 3262.4 1637 3262.5 1638 3262.6 1639 3262.7 1640 3262.7 1641 3262.8 1642 3262.9 1643 3263 1644 3263.1 1645 3263.1 1646 3263.2 1647 3263.3 1648 3263.4 1649 3263.4 1650 3263.5 1651 3263.6 1652 3263.6 1653 3263.7 1654 3263.8 1655 3263.8 1656 3263.9 1657 3263.9 1658.5 3264 1660 3264.1 1661.5 3264.1 1663.5 3264.2 1667 3264.2 1673.5 3264.2 1675.5 3264.1 1677.5 3264.1 1679 3264 1680.5 3263.9 1682 3263.9 1683.5 3263.8 1685 3263.7 1686 3263.7 1687 3263.6 1688 3263.6 1689 3263.5 1690 3263.5 1691 3263.4 1692 3263.3 1693 3263.3 1694 3263.2 1695 3263.2 1696 3263.1 1697 3263.1 1698 3263 1699 3262.9 1700 3262.9 1701 3262.8 1702 3262.8 1703 3262.7 1704 3262.7 1705 3262.6 1706 3262.5 1707.5 3262.5 1709 3262.4 1710.5 3262.3 1712 3262.3 1713.5 3262.2 1715.5 3262.2 1718 3262.1 1730.5 3262.2 1733 3262.2 1735 3262.3 1737 3262.4 1738.5 3262.4 1740 3262.5 1741.5 3262.5 1743 3262.6 1744.5 3262.7 1746 3262.7 1747.5 3262.8 1749 3262.9 1750.5 3262.9 1752 3263 1753.5 3263.1 1755 3263.1 1756.5 3263.2 1758 3263.2 1759.5 3263.3 1761 3263.4 1762.5 3263.4 1764 3263.5 1766 3263.5 1768 3263.6 1770.5 3263.6 1774.5 3263.7 1784.5 3263.6 1787.5 3263.6 1790 3263.5 1792 3263.5 1794 3263.4 1796 3263.4 1798 3263.3 1800 3263.2 1802 3263.2 1803.5 3263.1 1805 3263.1 1806.5 3263 1808.5 3262.9 1810.5 3262.9 1812.5 3262.8 1814.5 3262.8 1816.5 3262.7 1818.5 3262.7 1821 3262.6 1824 3262.5 1828.5 3262.5 1840.5 3262.5 1844 3262.6 1847 3262.7 1849.5 3262.7 1852 3262.8 1854.5 3262.8 1857 3262.9 1859 3262.9 1861 3263 1863.5 3263.1 1866 3263.1 1868.5 3263.2 1871 3263.2 1874 3263.3 1877.5 3263.3 1883 3263.4 1899.5 3263.3 1905.5 3263.3 1910.5 3263.2 1915.5 3263.2 1920.5 3263.1 1926 3263.1 1933.5 3263 2053 3263" stroke="#8B2A90" stroke-dasharray="18.2 14.8"/>
</g>
<path d="M1605.4 2845.5H1740" stroke="#7F2CA4" stroke-width="4.8"/>
<text x="1748.2" y="2868.9" font-size="76.5">0.1 pu</text>
<path d="M1605.4 2932.3H1740" stroke="#FF0000" stroke-width="4.8" stroke-dasharray="9.2 4"/>
<text x="1753.5" y="2955" font-size="76.5">0.2 pu</text>
<path d="M1605.4 3020.7H1740" stroke="#FF7300" stroke-width="4.8" stroke-dasharray="35.3 16.2 5.7 15.8"/>
<text x="1753.5" y="3043" font-size="76.5">0.3 pu</text>
<path d="M1605.4 3106.9H1743" stroke="#7F2CA4" stroke-width="4.8" stroke-dasharray="35.3 16"/>
<text x="1757.4" y="3130.2" font-size="76.5">0.4 pu</text>
<text x="1081.5" y="3969.2" font-size="77.3" fill="#000">Time/s</text>
<text x="1018.5" y="4081.5" font-size="87">(<tspan font-weight="bold">g</tspan>)</text>
<text transform="translate(108.6 3530.9) rotate(-90)" font-size="76.8">Δ</text>
<text transform="translate(108.6 3478.4) rotate(-90) scale(0.93 1)" font-size="76" font-style="italic">P</text>
<text transform="translate(127.8 3448.6) rotate(-90)" font-size="48.3"><tspan font-style="italic">tieDC</tspan>23</text>
<text transform="translate(126.7 3260) rotate(-90)" font-size="74">/pu</text>
</svg></body></html>
